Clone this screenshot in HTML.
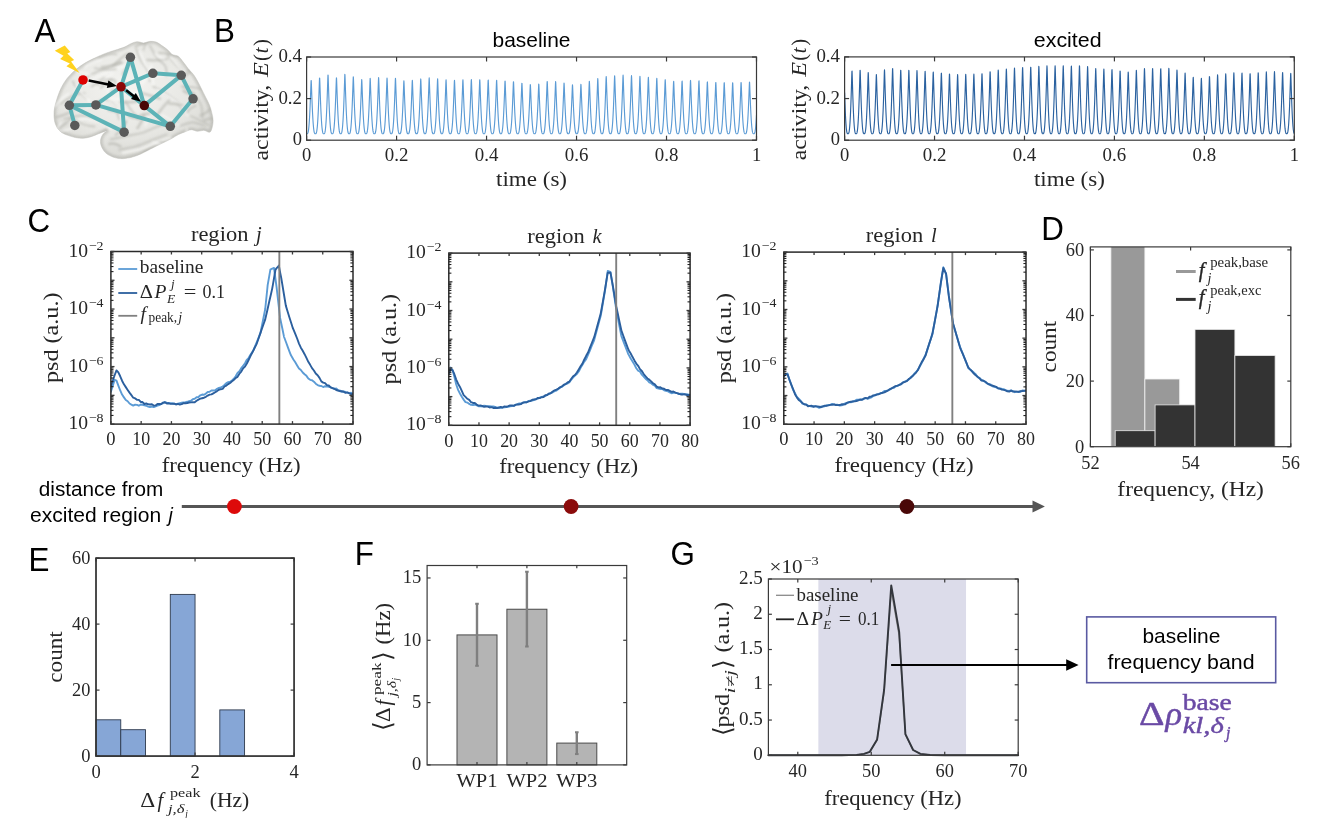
<!DOCTYPE html>
<html><head><meta charset="utf-8"><title>figure</title>
<style>html,body{margin:0;padding:0;background:#fff;}svg{display:block;}</style>
</head><body>
<svg width="1333" height="818" viewBox="0 0 1333 818">
<rect x="0" y="0" width="1333" height="818" fill="#ffffff"/>
<g opacity="0.999">
<defs>
<radialGradient id="bg" cx="45%" cy="38%" r="70%"><stop offset="0" stop-color="#f3f3f0"/><stop offset="0.6" stop-color="#e7e7e3"/><stop offset="1" stop-color="#d4d4cf"/></radialGradient>
<filter id="bl" x="-10%" y="-10%" width="120%" height="120%"><feGaussianBlur stdDeviation="1.3"/></filter>
<filter id="bl2" x="-10%" y="-10%" width="120%" height="120%"><feGaussianBlur stdDeviation="0.7"/></filter>
<clipPath id="brainclip"><path d="M54.5,120.8 C54.1,118.1 53.8,114.4 54.1,111.3 C54.3,108.1 55.2,104.9 56.1,101.7 C57.0,98.6 58.0,95.4 59.3,92.2 C60.6,89.0 62.2,85.6 64.1,82.7 C65.9,79.8 68.0,77.2 70.4,74.7 C72.8,72.2 75.7,69.6 78.4,67.6 C81.0,65.5 83.4,64.0 86.3,62.3 C89.2,60.7 92.7,59.0 95.8,57.6 C99.0,56.1 102.2,54.6 105.4,53.4 C108.6,52.2 111.7,51.3 114.9,50.3 C118.1,49.2 121.8,48.2 124.4,47.1 C127.1,46.0 128.7,44.6 130.8,43.7 C132.9,42.8 135.0,41.8 137.2,41.7 C139.3,41.5 141.4,43.0 143.5,42.9 C145.6,42.9 147.7,41.5 149.9,41.4 C152.0,41.2 154.1,41.4 156.2,42.1 C158.3,42.9 160.6,44.8 162.6,46.1 C164.6,47.5 166.5,48.9 168.1,50.3 C169.7,51.6 170.4,53.4 172.1,54.4 C173.8,55.4 176.6,55.2 178.5,56.4 C180.3,57.7 181.6,60.0 183.2,62.0 C184.8,64.0 186.3,66.2 188.0,68.4 C189.7,70.5 192.0,72.6 193.6,74.7 C195.1,76.8 196.2,78.7 197.5,81.1 C198.9,83.5 200.2,86.4 201.5,89.0 C202.8,91.7 204.1,94.3 205.5,97.0 C206.8,99.6 208.4,102.3 209.4,104.9 C210.5,107.6 211.2,110.2 211.8,112.9 C212.4,115.5 213.1,118.1 213.1,120.8 C213.1,123.4 212.4,126.8 211.8,128.7 C211.2,130.6 210.8,132.0 209.4,132.2 C208.1,132.5 205.9,130.5 203.9,130.3 C201.9,130.2 199.6,131.4 197.5,131.3 C195.4,131.2 193.3,129.6 191.2,129.7 C189.1,129.8 186.9,131.1 184.8,131.9 C182.7,132.7 180.6,133.4 178.5,134.5 C176.3,135.5 174.2,137.1 172.1,138.3 C170.0,139.4 167.9,140.4 165.7,141.5 C163.6,142.5 161.5,143.6 159.4,144.6 C157.3,145.7 155.2,146.7 153.0,147.8 C150.9,148.9 148.8,149.9 146.7,151.0 C144.6,152.0 142.4,153.2 140.3,154.2 C138.2,155.1 136.1,155.9 134.0,156.5 C131.9,157.2 130.0,157.8 127.6,158.1 C125.2,158.5 122.3,158.9 119.7,158.6 C117.0,158.3 114.1,157.6 111.7,156.5 C109.3,155.5 107.1,154.3 105.4,152.6 C103.7,150.9 102.2,148.3 101.4,146.2 C100.6,144.1 100.3,141.8 100.6,139.9 C100.9,137.9 102.0,135.8 103.0,134.3 C104.0,132.8 107.3,131.1 106.6,131.0 C106.0,130.8 101.6,132.6 99.0,133.5 C96.4,134.5 93.7,135.9 91.1,136.7 C88.4,137.5 85.8,138.1 83.1,138.3 C80.5,138.4 77.8,138.0 75.2,137.5 C72.5,136.9 69.6,136.0 67.2,135.1 C64.9,134.2 62.6,133.2 60.9,131.9 C59.2,130.6 58.0,129.0 56.9,127.2 C55.9,125.3 55.0,123.4 54.5,120.8Z"/></clipPath>
</defs>
<path d="M54.5,120.8 C54.1,118.1 53.8,114.4 54.1,111.3 C54.3,108.1 55.2,104.9 56.1,101.7 C57.0,98.6 58.0,95.4 59.3,92.2 C60.6,89.0 62.2,85.6 64.1,82.7 C65.9,79.8 68.0,77.2 70.4,74.7 C72.8,72.2 75.7,69.6 78.4,67.6 C81.0,65.5 83.4,64.0 86.3,62.3 C89.2,60.7 92.7,59.0 95.8,57.6 C99.0,56.1 102.2,54.6 105.4,53.4 C108.6,52.2 111.7,51.3 114.9,50.3 C118.1,49.2 121.8,48.2 124.4,47.1 C127.1,46.0 128.7,44.6 130.8,43.7 C132.9,42.8 135.0,41.8 137.2,41.7 C139.3,41.5 141.4,43.0 143.5,42.9 C145.6,42.9 147.7,41.5 149.9,41.4 C152.0,41.2 154.1,41.4 156.2,42.1 C158.3,42.9 160.6,44.8 162.6,46.1 C164.6,47.5 166.5,48.9 168.1,50.3 C169.7,51.6 170.4,53.4 172.1,54.4 C173.8,55.4 176.6,55.2 178.5,56.4 C180.3,57.7 181.6,60.0 183.2,62.0 C184.8,64.0 186.3,66.2 188.0,68.4 C189.7,70.5 192.0,72.6 193.6,74.7 C195.1,76.8 196.2,78.7 197.5,81.1 C198.9,83.5 200.2,86.4 201.5,89.0 C202.8,91.7 204.1,94.3 205.5,97.0 C206.8,99.6 208.4,102.3 209.4,104.9 C210.5,107.6 211.2,110.2 211.8,112.9 C212.4,115.5 213.1,118.1 213.1,120.8 C213.1,123.4 212.4,126.8 211.8,128.7 C211.2,130.6 210.8,132.0 209.4,132.2 C208.1,132.5 205.9,130.5 203.9,130.3 C201.9,130.2 199.6,131.4 197.5,131.3 C195.4,131.2 193.3,129.6 191.2,129.7 C189.1,129.8 186.9,131.1 184.8,131.9 C182.7,132.7 180.6,133.4 178.5,134.5 C176.3,135.5 174.2,137.1 172.1,138.3 C170.0,139.4 167.9,140.4 165.7,141.5 C163.6,142.5 161.5,143.6 159.4,144.6 C157.3,145.7 155.2,146.7 153.0,147.8 C150.9,148.9 148.8,149.9 146.7,151.0 C144.6,152.0 142.4,153.2 140.3,154.2 C138.2,155.1 136.1,155.9 134.0,156.5 C131.9,157.2 130.0,157.8 127.6,158.1 C125.2,158.5 122.3,158.9 119.7,158.6 C117.0,158.3 114.1,157.6 111.7,156.5 C109.3,155.5 107.1,154.3 105.4,152.6 C103.7,150.9 102.2,148.3 101.4,146.2 C100.6,144.1 100.3,141.8 100.6,139.9 C100.9,137.9 102.0,135.8 103.0,134.3 C104.0,132.8 107.3,131.1 106.6,131.0 C106.0,130.8 101.6,132.6 99.0,133.5 C96.4,134.5 93.7,135.9 91.1,136.7 C88.4,137.5 85.8,138.1 83.1,138.3 C80.5,138.4 77.8,138.0 75.2,137.5 C72.5,136.9 69.6,136.0 67.2,135.1 C64.9,134.2 62.6,133.2 60.9,131.9 C59.2,130.6 58.0,129.0 56.9,127.2 C55.9,125.3 55.0,123.4 54.5,120.8Z" fill="url(#bg)" stroke="#d8d8d4" stroke-width="0.8" filter="url(#bl2)"/>
<path d="M54.5,120.8 C54.1,118.1 53.8,114.4 54.1,111.3 C54.3,108.1 55.2,104.9 56.1,101.7 C57.0,98.6 58.0,95.4 59.3,92.2 C60.6,89.0 62.2,85.6 64.1,82.7 C65.9,79.8 68.0,77.2 70.4,74.7 C72.8,72.2 75.7,69.6 78.4,67.6 C81.0,65.5 83.4,64.0 86.3,62.3 C89.2,60.7 92.7,59.0 95.8,57.6 C99.0,56.1 102.2,54.6 105.4,53.4 C108.6,52.2 111.7,51.3 114.9,50.3 C118.1,49.2 121.8,48.2 124.4,47.1 C127.1,46.0 128.7,44.6 130.8,43.7 C132.9,42.8 135.0,41.8 137.2,41.7 C139.3,41.5 141.4,43.0 143.5,42.9 C145.6,42.9 147.7,41.5 149.9,41.4 C152.0,41.2 154.1,41.4 156.2,42.1 C158.3,42.9 160.6,44.8 162.6,46.1 C164.6,47.5 166.5,48.9 168.1,50.3 C169.7,51.6 170.4,53.4 172.1,54.4 C173.8,55.4 176.6,55.2 178.5,56.4 C180.3,57.7 181.6,60.0 183.2,62.0 C184.8,64.0 186.3,66.2 188.0,68.4 C189.7,70.5 192.0,72.6 193.6,74.7 C195.1,76.8 196.2,78.7 197.5,81.1 C198.9,83.5 200.2,86.4 201.5,89.0 C202.8,91.7 204.1,94.3 205.5,97.0 C206.8,99.6 208.4,102.3 209.4,104.9 C210.5,107.6 211.2,110.2 211.8,112.9 C212.4,115.5 213.1,118.1 213.1,120.8 C213.1,123.4 212.4,126.8 211.8,128.7 C211.2,130.6 210.8,132.0 209.4,132.2 C208.1,132.5 205.9,130.5 203.9,130.3 C201.9,130.2 199.6,131.4 197.5,131.3 C195.4,131.2 193.3,129.6 191.2,129.7 C189.1,129.8 186.9,131.1 184.8,131.9 C182.7,132.7 180.6,133.4 178.5,134.5 C176.3,135.5 174.2,137.1 172.1,138.3 C170.0,139.4 167.9,140.4 165.7,141.5 C163.6,142.5 161.5,143.6 159.4,144.6 C157.3,145.7 155.2,146.7 153.0,147.8 C150.9,148.9 148.8,149.9 146.7,151.0 C144.6,152.0 142.4,153.2 140.3,154.2 C138.2,155.1 136.1,155.9 134.0,156.5 C131.9,157.2 130.0,157.8 127.6,158.1 C125.2,158.5 122.3,158.9 119.7,158.6 C117.0,158.3 114.1,157.6 111.7,156.5 C109.3,155.5 107.1,154.3 105.4,152.6 C103.7,150.9 102.2,148.3 101.4,146.2 C100.6,144.1 100.3,141.8 100.6,139.9 C100.9,137.9 102.0,135.8 103.0,134.3 C104.0,132.8 107.3,131.1 106.6,131.0 C106.0,130.8 101.6,132.6 99.0,133.5 C96.4,134.5 93.7,135.9 91.1,136.7 C88.4,137.5 85.8,138.1 83.1,138.3 C80.5,138.4 77.8,138.0 75.2,137.5 C72.5,136.9 69.6,136.0 67.2,135.1 C64.9,134.2 62.6,133.2 60.9,131.9 C59.2,130.6 58.0,129.0 56.9,127.2 C55.9,125.3 55.0,123.4 54.5,120.8Z" fill="none" stroke="#a4a49e" stroke-width="4.5" filter="url(#bl)" clip-path="url(#brainclip)" opacity="0.42"/>
<g clip-path="url(#brainclip)" filter="url(#bl)" fill="none" stroke="#b9b9b3" stroke-width="1.6" stroke-linecap="round" opacity="0.75">
<path d="M81.3,81.3 C83.6,79.9 90.2,75.2 95.0,72.8 C99.9,70.3 105.8,68.5 110.4,66.8 C115.0,65.1 120.4,63.2 122.4,62.5"/>
<path d="M91.6,86.5 C93.6,85.3 99.6,80.5 103.6,79.6 C107.6,78.8 114.4,79.3 115.5,81.3 C116.7,83.3 111.3,89.9 110.4,91.6"/>
<path d="M136.1,48.8 C136.9,50.8 139.2,57.1 141.2,60.8 C143.2,64.5 146.6,67.6 148.0,71.1 C149.5,74.5 149.5,79.6 149.8,81.3"/>
<path d="M149.8,45.4 C150.9,47.4 154.0,54.0 156.6,57.4 C159.2,60.8 163.4,62.8 165.2,65.9 C166.9,69.1 166.6,74.5 166.9,76.2"/>
<path d="M166.9,54.0 C168.3,55.7 172.6,61.4 175.4,64.2 C178.3,67.1 182.6,69.9 184.0,71.1"/>
<path d="M60.8,103.6 C63.1,102.1 70.5,96.7 74.5,95.0 C78.5,93.3 83.0,93.6 84.7,93.3"/>
<path d="M64.2,119.0 C67.1,118.4 76.2,115.5 81.3,115.5 C86.5,115.5 90.7,117.3 95.0,119.0 C99.3,120.7 105.0,124.7 107.0,125.8"/>
<path d="M110.4,139.5 C113.0,138.9 120.4,137.2 125.8,136.1 C131.2,134.9 137.2,134.4 142.9,132.7 C148.6,130.9 154.3,127.5 160.0,125.8 C165.7,124.1 174.3,123.0 177.1,122.4"/>
<path d="M119.0,149.8 C121.8,149.2 130.4,148.0 136.1,146.3 C141.8,144.6 148.0,141.5 153.2,139.5 C158.3,137.5 164.6,135.2 166.9,134.4"/>
<path d="M184.0,86.5 C185.7,87.9 191.4,91.9 194.2,95.0 C197.1,98.1 199.7,101.3 201.1,105.3 C202.5,109.3 202.5,116.7 202.8,119.0"/>
<path d="M153.2,86.5 C155.2,87.6 161.2,90.7 165.2,93.3 C169.2,95.9 174.0,98.7 177.1,101.9 C180.3,105.0 182.8,110.4 184.0,112.1"/>
<path d="M125.8,101.9 C126.9,103.6 130.4,109.3 132.7,112.1 C134.9,115.0 138.4,117.8 139.5,119.0"/>
<path d="M72.8,81.3 C73.6,82.8 75.6,87.0 77.9,89.9 C80.2,92.7 85.0,97.0 86.5,98.4"/>
<path d="M180.6,125.8 C182.6,125.2 188.5,122.4 192.5,122.4 C196.5,122.4 202.5,125.2 204.5,125.8"/>
<path d="M105.3,98.4 C107.0,99.9 113.3,103.6 115.5,107.0 C117.8,110.4 118.4,117.0 119.0,119.0"/>
</g>
<g clip-path="url(#brainclip)" filter="url(#bl)" fill="none" stroke="#f8f8f6" stroke-width="2.2" stroke-linecap="round" opacity="0.8">
<path d="M85.1,84.4 L98.8,75.9 L114.2,69.9 L126.2,65.6"/>
<path d="M139.8,51.9 L145.0,63.9 L151.8,74.1 L153.5,84.4"/>
<path d="M170.6,57.0 L179.2,67.3 L187.7,74.1"/>
<path d="M68.0,122.0 L85.1,118.6 L98.8,122.0 L110.8,128.9"/>
<path d="M122.7,152.8 L139.8,149.4 L156.9,142.6 L170.6,137.4"/>
<path d="M156.9,89.5 L168.9,96.4 L180.9,104.9 L187.7,115.2"/>
<path d="M76.5,84.4 L81.7,93.0 L90.2,101.5"/>
<path d="M109.0,101.5 L119.3,110.1 L122.7,122.0"/>
</g>
<g clip-path="url(#brainclip)" filter="url(#bl)" fill="none" stroke-linecap="round">
<path d="M86.0,108.8 Q94.1,101.1 100.2,100.4" stroke="#fbfbfa" stroke-width="1.42" opacity="0.7"/>
<path d="M181.2,79.5 Q188.8,74.5 196.8,64.1" stroke="#aeaea8" stroke-width="1.97" opacity="0.55"/>
<path d="M147.2,59.9 Q157.4,61.3 167.3,58.7" stroke="#aeaea8" stroke-width="2.21" opacity="0.55"/>
<path d="M59.2,130.0 Q61.5,132.1 71.3,128.4" stroke="#fbfbfa" stroke-width="1.97" opacity="0.7"/>
<path d="M159.6,142.2 Q169.2,145.5 180.4,144.0" stroke="#aeaea8" stroke-width="1.93" opacity="0.55"/>
<path d="M202.1,147.3 Q202.4,146.8 207.3,138.8" stroke="#aeaea8" stroke-width="1.92" opacity="0.55"/>
<path d="M148.8,78.5 Q154.1,77.3 161.7,74.7" stroke="#fbfbfa" stroke-width="2.10" opacity="0.7"/>
<path d="M190.8,115.9 Q203.6,121.8 208.6,125.0" stroke="#aeaea8" stroke-width="1.60" opacity="0.55"/>
<path d="M185.4,149.6 Q194.4,150.6 200.0,156.2" stroke="#aeaea8" stroke-width="2.40" opacity="0.55"/>
<path d="M142.1,83.6 Q150.7,71.5 151.4,65.9" stroke="#fbfbfa" stroke-width="2.36" opacity="0.7"/>
<path d="M113.3,65.2 Q123.7,55.7 128.0,53.5" stroke="#aeaea8" stroke-width="2.14" opacity="0.55"/>
<path d="M53.8,130.4 Q66.0,124.7 70.6,118.8" stroke="#aeaea8" stroke-width="2.60" opacity="0.55"/>
<path d="M100.4,51.4 Q102.1,50.1 108.7,50.3" stroke="#fbfbfa" stroke-width="2.13" opacity="0.7"/>
<path d="M74.2,44.7 Q83.7,50.1 85.8,49.1" stroke="#aeaea8" stroke-width="1.85" opacity="0.55"/>
<path d="M120.5,102.1 Q129.1,102.8 136.8,101.5" stroke="#aeaea8" stroke-width="2.53" opacity="0.55"/>
<path d="M130.5,91.0 Q134.5,95.4 141.8,92.1" stroke="#fbfbfa" stroke-width="2.03" opacity="0.7"/>
<path d="M135.5,46.8 Q138.9,44.2 150.0,39.8" stroke="#aeaea8" stroke-width="2.16" opacity="0.55"/>
<path d="M56.4,117.2 Q63.4,115.8 72.8,111.1" stroke="#aeaea8" stroke-width="2.29" opacity="0.55"/>
<path d="M47.8,48.8 Q56.6,48.6 69.3,49.1" stroke="#fbfbfa" stroke-width="2.11" opacity="0.7"/>
<path d="M100.9,87.8 Q107.0,82.3 111.5,79.9" stroke="#aeaea8" stroke-width="1.85" opacity="0.55"/>
<path d="M169.6,46.7 Q177.0,42.9 187.6,43.5" stroke="#aeaea8" stroke-width="2.36" opacity="0.55"/>
<path d="M85.1,67.1 Q90.0,62.1 101.3,60.0" stroke="#fbfbfa" stroke-width="1.80" opacity="0.7"/>
<path d="M183.5,90.7 Q187.1,93.6 193.3,94.1" stroke="#aeaea8" stroke-width="2.46" opacity="0.55"/>
<path d="M122.9,74.3 Q124.7,70.3 131.5,61.5" stroke="#aeaea8" stroke-width="2.41" opacity="0.55"/>
<path d="M76.2,71.9 Q86.8,72.8 92.6,76.2" stroke="#fbfbfa" stroke-width="1.56" opacity="0.7"/>
<path d="M96.8,137.5 Q101.0,132.7 106.6,129.1" stroke="#aeaea8" stroke-width="1.89" opacity="0.55"/>
<path d="M198.4,69.8 Q205.3,63.8 206.2,50.1" stroke="#aeaea8" stroke-width="1.92" opacity="0.55"/>
<path d="M200.6,155.3 Q209.7,150.0 213.4,142.0" stroke="#fbfbfa" stroke-width="2.02" opacity="0.7"/>
<path d="M98.1,84.4 Q102.0,79.5 104.4,78.0" stroke="#aeaea8" stroke-width="2.37" opacity="0.55"/>
<path d="M51.8,145.4 Q65.4,149.1 72.7,146.4" stroke="#aeaea8" stroke-width="2.09" opacity="0.55"/>
<path d="M53.3,132.5 Q58.4,127.9 60.9,123.0" stroke="#fbfbfa" stroke-width="1.90" opacity="0.7"/>
<path d="M200.4,115.6 Q208.1,112.2 210.1,109.2" stroke="#aeaea8" stroke-width="2.34" opacity="0.55"/>
<path d="M101.9,67.0 Q108.7,67.0 120.7,62.4" stroke="#aeaea8" stroke-width="2.51" opacity="0.55"/>
<path d="M180.8,144.5 Q186.9,133.1 187.1,128.9" stroke="#fbfbfa" stroke-width="1.73" opacity="0.7"/>
<path d="M91.4,105.7 Q100.2,98.7 104.6,99.5" stroke="#aeaea8" stroke-width="1.47" opacity="0.55"/>
<path d="M70.2,65.9 Q78.1,53.0 80.4,46.8" stroke="#aeaea8" stroke-width="2.00" opacity="0.55"/>
<path d="M98.4,82.8 Q106.2,77.1 112.7,73.6" stroke="#fbfbfa" stroke-width="1.63" opacity="0.7"/>
<path d="M98.8,58.0 Q106.6,52.9 116.4,54.4" stroke="#aeaea8" stroke-width="1.61" opacity="0.55"/>
<path d="M108.2,110.1 Q117.1,112.5 121.2,112.9" stroke="#aeaea8" stroke-width="1.92" opacity="0.55"/>
<path d="M107.7,98.6 Q116.1,98.7 121.5,99.5" stroke="#fbfbfa" stroke-width="1.69" opacity="0.7"/>
<path d="M137.4,128.1 Q140.1,125.0 144.1,115.8" stroke="#aeaea8" stroke-width="2.52" opacity="0.55"/>
<path d="M109.2,144.0 Q114.6,142.2 120.6,146.5" stroke="#aeaea8" stroke-width="2.38" opacity="0.55"/>
<path d="M152.5,142.1 Q162.8,144.6 169.4,146.0" stroke="#fbfbfa" stroke-width="1.52" opacity="0.7"/>
<path d="M143.5,50.2 Q145.4,39.3 154.6,34.9" stroke="#aeaea8" stroke-width="1.52" opacity="0.55"/>
<path d="M191.9,71.7 Q192.8,65.4 199.8,53.5" stroke="#aeaea8" stroke-width="2.21" opacity="0.55"/>
<path d="M179.3,153.0 Q185.1,153.7 198.3,150.0" stroke="#fbfbfa" stroke-width="2.01" opacity="0.7"/>
<path d="M159.0,52.7 Q165.9,52.9 179.9,55.8" stroke="#aeaea8" stroke-width="2.08" opacity="0.55"/>
<path d="M183.8,74.3 Q188.4,71.9 191.2,65.4" stroke="#aeaea8" stroke-width="1.87" opacity="0.55"/>
<path d="M108.0,91.3 Q110.5,87.6 119.6,83.9" stroke="#fbfbfa" stroke-width="2.57" opacity="0.7"/>
<path d="M115.6,134.9 Q123.1,129.3 126.5,121.0" stroke="#aeaea8" stroke-width="2.02" opacity="0.55"/>
<path d="M127.8,113.9 Q129.2,117.9 137.0,118.0" stroke="#aeaea8" stroke-width="2.50" opacity="0.55"/>
<path d="M132.5,92.5 Q135.9,90.5 143.0,93.4" stroke="#fbfbfa" stroke-width="2.10" opacity="0.7"/>
<path d="M94.7,68.2 Q103.7,70.4 116.0,69.2" stroke="#aeaea8" stroke-width="1.90" opacity="0.55"/>
<path d="M187.4,112.9 Q187.8,109.1 195.7,105.6" stroke="#aeaea8" stroke-width="1.86" opacity="0.55"/>
<path d="M74.9,88.9 Q79.7,87.4 90.2,78.0" stroke="#fbfbfa" stroke-width="1.98" opacity="0.7"/>
<path d="M141.5,92.9 Q151.3,95.7 160.1,98.7" stroke="#aeaea8" stroke-width="2.26" opacity="0.55"/>
<path d="M181.4,86.7 Q191.8,85.9 202.7,89.3" stroke="#aeaea8" stroke-width="1.68" opacity="0.55"/>
<path d="M161.2,114.7 Q167.8,117.2 178.5,124.7" stroke="#fbfbfa" stroke-width="1.71" opacity="0.7"/>
<path d="M75.3,119.6 Q83.0,126.0 94.6,126.5" stroke="#aeaea8" stroke-width="1.78" opacity="0.55"/>
<path d="M120.4,129.9 Q125.4,124.2 125.1,121.8" stroke="#aeaea8" stroke-width="1.83" opacity="0.55"/>
<path d="M145.5,125.6 Q147.3,119.6 150.2,113.8" stroke="#fbfbfa" stroke-width="1.65" opacity="0.7"/>
<path d="M141.7,155.6 Q145.6,150.1 155.5,148.1" stroke="#aeaea8" stroke-width="2.20" opacity="0.55"/>
<path d="M68.8,142.1 Q76.5,143.0 77.2,146.0" stroke="#aeaea8" stroke-width="2.33" opacity="0.55"/>
<path d="M167.6,75.8 Q178.6,74.1 184.7,76.1" stroke="#fbfbfa" stroke-width="2.31" opacity="0.7"/>
<path d="M204.2,120.5 Q208.8,118.2 213.5,118.3" stroke="#aeaea8" stroke-width="2.26" opacity="0.55"/>
<path d="M158.1,113.7 Q164.6,104.6 169.0,100.6" stroke="#aeaea8" stroke-width="2.47" opacity="0.55"/>
<path d="M155.4,53.9 Q158.5,57.9 164.3,58.5" stroke="#fbfbfa" stroke-width="2.12" opacity="0.7"/>
<path d="M138.0,118.7 Q141.2,113.0 149.5,114.2" stroke="#aeaea8" stroke-width="2.26" opacity="0.55"/>
<path d="M169.3,103.6 Q173.8,103.5 182.2,105.3" stroke="#aeaea8" stroke-width="2.45" opacity="0.55"/>
<path d="M54.9,106.5 Q60.6,98.7 68.6,93.6" stroke="#fbfbfa" stroke-width="1.88" opacity="0.7"/>
</g>
<line x1="83.04" y1="79.96" x2="69.35" y2="105.28" stroke="#5cb3b7" stroke-width="4.0" stroke-linecap="round"/>
<line x1="69.35" y1="105.28" x2="74.82" y2="125.47" stroke="#5cb3b7" stroke-width="4.0" stroke-linecap="round"/>
<line x1="69.35" y1="105.28" x2="95.87" y2="104.94" stroke="#5cb3b7" stroke-width="4.0" stroke-linecap="round"/>
<line x1="69.35" y1="105.28" x2="124.10" y2="132.14" stroke="#5cb3b7" stroke-width="4.0" stroke-linecap="round"/>
<line x1="95.87" y1="104.94" x2="121.02" y2="86.80" stroke="#5cb3b7" stroke-width="4.0" stroke-linecap="round"/>
<line x1="95.87" y1="104.94" x2="170.29" y2="126.32" stroke="#5cb3b7" stroke-width="4.0" stroke-linecap="round"/>
<line x1="121.02" y1="86.80" x2="124.10" y2="132.14" stroke="#5cb3b7" stroke-width="4.0" stroke-linecap="round"/>
<line x1="121.02" y1="86.80" x2="130.43" y2="57.37" stroke="#5cb3b7" stroke-width="4.0" stroke-linecap="round"/>
<line x1="121.02" y1="86.80" x2="152.84" y2="73.28" stroke="#5cb3b7" stroke-width="4.0" stroke-linecap="round"/>
<line x1="130.43" y1="57.37" x2="144.29" y2="105.62" stroke="#5cb3b7" stroke-width="4.0" stroke-linecap="round"/>
<line x1="152.84" y1="73.28" x2="181.24" y2="75.34" stroke="#5cb3b7" stroke-width="4.0" stroke-linecap="round"/>
<line x1="181.24" y1="75.34" x2="193.05" y2="98.78" stroke="#5cb3b7" stroke-width="4.0" stroke-linecap="round"/>
<line x1="193.05" y1="98.78" x2="170.29" y2="126.32" stroke="#5cb3b7" stroke-width="4.0" stroke-linecap="round"/>
<line x1="181.24" y1="75.34" x2="144.29" y2="105.62" stroke="#5cb3b7" stroke-width="4.0" stroke-linecap="round"/>
<line x1="144.29" y1="105.62" x2="170.29" y2="126.32" stroke="#5cb3b7" stroke-width="4.0" stroke-linecap="round"/>
<line x1="121.02" y1="86.80" x2="144.29" y2="105.62" stroke="#5cb3b7" stroke-width="4.0" stroke-linecap="round"/>
<line x1="88.68" y1="80.47" x2="108.58" y2="84.45" stroke="#000" stroke-width="2.6" />
<path d="M116.91,86.12 L106.83,88.08 L108.36,80.43 Z" fill="#000"/>
<line x1="126.15" y1="90.22" x2="134.20" y2="96.58" stroke="#000" stroke-width="2.6" />
<path d="M140.86,101.86 L130.99,99.02 L135.83,92.90 Z" fill="#000"/>
<circle cx="83.04" cy="79.96" r="4.75" fill="#dd0000"/>
<circle cx="121.02" cy="86.80" r="4.75" fill="#8c0606"/>
<circle cx="144.29" cy="105.62" r="4.75" fill="#4a0606"/>
<circle cx="130.43" cy="57.37" r="4.75" fill="#5a5a5a"/>
<circle cx="152.84" cy="73.28" r="4.75" fill="#5a5a5a"/>
<circle cx="181.24" cy="75.34" r="4.75" fill="#5a5a5a"/>
<circle cx="193.05" cy="98.78" r="4.75" fill="#5a5a5a"/>
<circle cx="170.29" cy="126.32" r="4.75" fill="#5a5a5a"/>
<circle cx="124.10" cy="132.14" r="4.75" fill="#5a5a5a"/>
<circle cx="69.35" cy="105.28" r="4.75" fill="#5a5a5a"/>
<circle cx="95.87" cy="104.94" r="4.75" fill="#5a5a5a"/>
<circle cx="74.82" cy="125.47" r="4.75" fill="#5a5a5a"/>
<path d="M64.73,45.40 L54.81,50.70 L63.53,55.66 L60.11,59.08 L69.86,63.53 L66.44,66.27 L79.62,73.11 L71.06,61.48 L74.14,60.11 L67.30,53.61 L70.38,51.90Z" fill="#ffd21f"/>
<clipPath id="cl306"><rect x="306.6" y="57.0" width="449.9" height="83.19999999999999"/></clipPath>
<path d="M306.60,133.71 L306.74,133.75 L306.88,133.75 L307.02,133.75 L307.16,133.75 L307.30,133.72 L307.44,133.64 L307.58,133.51 L307.72,133.29 L307.87,132.99 L308.01,132.58 L308.15,132.04 L308.29,131.37 L308.43,130.55 L308.57,129.57 L308.71,128.42 L308.85,127.08 L308.99,125.55 L309.13,123.83 L309.27,121.91 L309.41,119.78 L309.55,117.44 L309.69,114.89 L309.83,112.13 L309.97,109.16 L310.11,106.00 L310.26,102.64 L310.40,99.10 L310.54,95.39 L310.68,91.54 L310.82,87.59 L310.96,83.70 L311.10,80.47 L311.24,80.47 L311.38,83.68 L311.52,87.56 L311.66,91.48 L311.80,95.32 L311.94,99.02 L312.08,102.56 L312.22,105.91 L312.36,109.08 L312.50,112.04 L312.65,114.80 L312.79,117.36 L312.93,119.70 L313.07,121.84 L313.21,123.77 L313.35,125.50 L313.49,127.03 L313.63,128.38 L313.77,129.54 L313.91,130.53 L314.05,131.35 L314.19,132.03 L314.33,132.57 L314.47,132.98 L314.61,133.29 L314.75,133.50 L314.90,133.64 L315.04,133.72 L315.18,133.75 L315.32,133.75 L315.46,133.75 L315.60,133.75 L315.74,133.71 L315.88,133.63 L316.02,133.49 L316.16,133.28 L316.30,132.96 L316.44,132.53 L316.58,131.98 L316.72,131.29 L316.86,130.44 L317.00,129.42 L317.14,128.23 L317.29,126.84 L317.43,125.26 L317.57,123.47 L317.71,121.47 L317.85,119.25 L317.99,116.81 L318.13,114.15 L318.27,111.28 L318.41,108.18 L318.55,104.87 L318.69,101.35 L318.83,97.63 L318.97,93.74 L319.11,89.69 L319.25,85.54 L319.39,81.44 L319.53,78.10 L319.68,78.23 L319.82,81.59 L319.96,85.61 L320.10,89.67 L320.24,93.65 L320.38,97.48 L320.52,101.15 L320.66,104.64 L320.80,107.93 L320.94,111.02 L321.08,113.90 L321.22,116.56 L321.36,119.01 L321.50,121.25 L321.64,123.27 L321.78,125.09 L321.92,126.69 L322.07,128.10 L322.21,129.32 L322.35,130.36 L322.49,131.23 L322.63,131.94 L322.77,132.51 L322.91,132.95 L323.05,133.27 L323.19,133.49 L323.33,133.64 L323.47,133.71 L323.61,133.75 L323.75,133.75 L323.89,133.75 L324.03,133.74 L324.17,133.71 L324.31,133.62 L324.46,133.47 L324.60,133.23 L324.74,132.89 L324.88,132.42 L325.02,131.82 L325.16,131.07 L325.30,130.15 L325.44,129.05 L325.58,127.76 L325.72,126.27 L325.86,124.56 L326.00,122.63 L326.14,120.47 L326.28,118.09 L326.42,115.46 L326.56,112.60 L326.70,109.50 L326.85,106.17 L326.99,102.68 L327.13,98.98 L327.27,95.09 L327.41,91.02 L327.55,86.81 L327.69,82.52 L327.83,78.32 L327.97,74.99 L328.11,75.46 L328.25,79.18 L328.39,83.51 L328.53,87.86 L328.67,92.10 L328.81,96.18 L328.95,100.06 L329.10,103.74 L329.24,107.20 L329.38,110.43 L329.52,113.44 L329.66,116.21 L329.80,118.75 L329.94,121.06 L330.08,123.14 L330.22,125.00 L330.36,126.65 L330.50,128.08 L330.64,129.32 L330.78,130.37 L330.92,131.25 L331.06,131.96 L331.20,132.53 L331.34,132.96 L331.49,133.28 L331.63,133.50 L331.77,133.64 L331.91,133.72 L332.05,133.75 L332.19,133.75 L332.33,133.75 L332.47,133.74 L332.61,133.71 L332.75,133.62 L332.89,133.47 L333.03,133.23 L333.17,132.89 L333.31,132.44 L333.45,131.86 L333.59,131.13 L333.73,130.24 L333.88,129.18 L334.02,127.95 L334.16,126.52 L334.30,124.90 L334.44,123.07 L334.58,121.03 L334.72,118.78 L334.86,116.32 L335.00,113.64 L335.14,110.76 L335.28,107.66 L335.42,104.37 L335.56,100.88 L335.70,97.21 L335.84,93.38 L335.98,89.33 L336.12,85.18 L336.27,81.11 L336.41,77.93 L336.55,78.45 L336.69,81.93 L336.83,85.97 L336.97,90.03 L337.11,94.00 L337.25,97.83 L337.39,101.48 L337.53,104.96 L337.67,108.23 L337.81,111.30 L337.95,114.16 L338.09,116.81 L338.23,119.24 L338.37,121.45 L338.51,123.45 L338.66,125.25 L338.80,126.84 L338.94,128.23 L339.08,129.43 L339.22,130.45 L339.36,131.30 L339.50,132.00 L339.64,132.56 L339.78,132.98 L339.92,133.29 L340.06,133.51 L340.20,133.65 L340.34,133.72 L340.48,133.75 L340.62,133.75 L340.76,133.75 L340.90,133.74 L341.05,133.70 L341.19,133.61 L341.33,133.45 L341.47,133.21 L341.61,132.86 L341.75,132.39 L341.89,131.78 L342.03,131.02 L342.17,130.09 L342.31,128.98 L342.45,127.69 L342.59,126.19 L342.73,124.47 L342.87,122.54 L343.01,120.38 L343.15,117.99 L343.29,115.37 L343.44,112.52 L343.58,109.43 L343.72,106.11 L343.86,102.56 L344.00,98.80 L344.14,94.83 L344.28,90.68 L344.42,86.36 L344.56,81.96 L344.70,77.65 L344.84,74.36 L344.98,75.22 L345.12,79.06 L345.26,83.43 L345.40,87.80 L345.54,92.06 L345.69,96.15 L345.83,100.04 L345.97,103.73 L346.11,107.20 L346.25,110.44 L346.39,113.45 L346.53,116.23 L346.67,118.78 L346.81,121.09 L346.95,123.18 L347.09,125.04 L347.23,126.68 L347.37,128.12 L347.51,129.36 L347.65,130.40 L347.79,131.28 L347.93,131.99 L348.08,132.55 L348.22,132.98 L348.36,133.30 L348.50,133.51 L348.64,133.65 L348.78,133.72 L348.92,133.75 L349.06,133.75 L349.20,133.75 L349.34,133.74 L349.48,133.70 L349.62,133.61 L349.76,133.44 L349.90,133.20 L350.04,132.84 L350.18,132.37 L350.32,131.76 L350.47,131.01 L350.61,130.09 L350.75,128.99 L350.89,127.71 L351.03,126.24 L351.17,124.56 L351.31,122.67 L351.45,120.57 L351.59,118.25 L351.73,115.71 L351.87,112.95 L352.01,109.97 L352.15,106.78 L352.29,103.38 L352.43,99.79 L352.57,96.00 L352.71,92.05 L352.86,87.97 L353.00,83.81 L353.14,79.78 L353.28,76.82 L353.42,77.83 L353.56,81.55 L353.70,85.74 L353.84,89.93 L353.98,94.00 L354.12,97.91 L354.26,101.64 L354.40,105.16 L354.54,108.48 L354.68,111.57 L354.82,114.45 L354.96,117.10 L355.10,119.53 L355.25,121.73 L355.39,123.72 L355.53,125.49 L355.67,127.06 L355.81,128.42 L355.95,129.60 L356.09,130.59 L356.23,131.42 L356.37,132.09 L356.51,132.63 L356.65,133.03 L356.79,133.33 L356.93,133.53 L357.07,133.66 L357.21,133.72 L357.35,133.75 L357.49,133.75 L357.64,133.75 L357.78,133.74 L357.92,133.70 L358.06,133.61 L358.20,133.45 L358.34,133.21 L358.48,132.87 L358.62,132.42 L358.76,131.83 L358.90,131.11 L359.04,130.22 L359.18,129.18 L359.32,127.95 L359.46,126.54 L359.60,124.94 L359.74,123.13 L359.89,121.13 L360.03,118.91 L360.17,116.49 L360.31,113.86 L360.45,111.02 L360.59,107.99 L360.73,104.75 L360.87,101.33 L361.01,97.74 L361.15,93.99 L361.29,90.11 L361.43,86.17 L361.57,82.36 L361.71,79.65 L361.85,80.79 L361.99,84.38 L362.13,88.36 L362.28,92.34 L362.42,96.20 L362.56,99.90 L362.70,103.43 L362.84,106.77 L362.98,109.87 L363.12,112.77 L363.26,115.47 L363.40,117.97 L363.54,120.25 L363.68,122.33 L363.82,124.21 L363.96,125.89 L364.10,127.38 L364.24,128.67 L364.38,129.79 L364.52,130.74 L364.67,131.53 L364.81,132.17 L364.95,132.68 L365.09,133.07 L365.23,133.35 L365.37,133.54 L365.51,133.66 L365.65,133.73 L365.79,133.75 L365.93,133.75 L366.07,133.75 L366.21,133.74 L366.35,133.70 L366.49,133.61 L366.63,133.45 L366.77,133.21 L366.91,132.86 L367.06,132.41 L367.20,131.82 L367.34,131.09 L367.48,130.20 L367.62,129.15 L367.76,127.91 L367.90,126.48 L368.04,124.86 L368.18,123.03 L368.32,120.99 L368.46,118.74 L368.60,116.27 L368.74,113.59 L368.88,110.69 L369.02,107.57 L369.16,104.25 L369.30,100.74 L369.45,97.03 L369.59,93.16 L369.73,89.15 L369.87,85.06 L370.01,81.12 L370.15,78.37 L370.29,79.64 L370.43,83.27 L370.57,87.29 L370.71,91.31 L370.85,95.22 L370.99,98.98 L371.13,102.57 L371.27,105.97 L371.41,109.17 L371.55,112.16 L371.69,114.95 L371.84,117.52 L371.98,119.88 L372.12,122.02 L372.26,123.96 L372.40,125.69 L372.54,127.21 L372.68,128.55 L372.82,129.70 L372.96,130.67 L373.10,131.48 L373.24,132.14 L373.38,132.66 L373.52,133.06 L373.66,133.35 L373.80,133.54 L373.94,133.66 L374.09,133.73 L374.23,133.75 L374.37,133.75 L374.51,133.75 L374.65,133.74 L374.79,133.69 L374.93,133.60 L375.07,133.43 L375.21,133.18 L375.35,132.82 L375.49,132.35 L375.63,131.74 L375.77,130.99 L375.91,130.07 L376.05,128.99 L376.19,127.71 L376.33,126.25 L376.48,124.59 L376.62,122.72 L376.76,120.63 L376.90,118.34 L377.04,115.82 L377.18,113.09 L377.32,110.14 L377.46,106.98 L377.60,103.62 L377.74,100.05 L377.88,96.31 L378.02,92.39 L378.16,88.35 L378.30,84.24 L378.44,80.30 L378.58,77.67 L378.72,79.15 L378.87,82.90 L379.01,87.00 L379.15,91.09 L379.29,95.05 L379.43,98.86 L379.57,102.49 L379.71,105.92 L379.85,109.15 L379.99,112.17 L380.13,114.98 L380.27,117.56 L380.41,119.93 L380.55,122.08 L380.69,124.02 L380.83,125.75 L380.97,127.27 L381.11,128.60 L381.26,129.74 L381.40,130.71 L381.54,131.52 L381.68,132.17 L381.82,132.68 L381.96,133.07 L382.10,133.36 L382.24,133.55 L382.38,133.67 L382.52,133.73 L382.66,133.75 L382.80,133.75 L382.94,133.75 L383.08,133.74 L383.22,133.69 L383.36,133.59 L383.50,133.42 L383.65,133.17 L383.79,132.81 L383.93,132.34 L384.07,131.73 L384.21,130.97 L384.35,130.06 L384.49,128.97 L384.63,127.70 L384.77,126.24 L384.91,124.58 L385.05,122.71 L385.19,120.64 L385.33,118.34 L385.47,115.84 L385.61,113.12 L385.75,110.18 L385.89,107.03 L386.04,103.68 L386.18,100.14 L386.32,96.41 L386.46,92.52 L386.60,88.50 L386.74,84.42 L386.88,80.52 L387.02,78.02 L387.16,79.67 L387.30,83.42 L387.44,87.50 L387.58,91.55 L387.72,95.48 L387.86,99.26 L388.00,102.85 L388.14,106.25 L388.28,109.45 L388.43,112.44 L388.57,115.22 L388.71,117.77 L388.85,120.12 L388.99,122.24 L389.13,124.16 L389.27,125.87 L389.41,127.37 L389.55,128.69 L389.69,129.82 L389.83,130.77 L389.97,131.56 L390.11,132.20 L390.25,132.71 L390.39,133.09 L390.53,133.37 L390.68,133.56 L390.82,133.67 L390.96,133.73 L391.10,133.75 L391.24,133.75 L391.38,133.75 L391.52,133.74 L391.66,133.69 L391.80,133.59 L391.94,133.42 L392.08,133.16 L392.22,132.80 L392.36,132.32 L392.50,131.71 L392.64,130.96 L392.78,130.04 L392.92,128.96 L393.07,127.69 L393.21,126.23 L393.35,124.57 L393.49,122.71 L393.63,120.64 L393.77,118.35 L393.91,115.86 L394.05,113.14 L394.19,110.22 L394.33,107.09 L394.47,103.75 L394.61,100.22 L394.75,96.51 L394.89,92.64 L395.03,88.65 L395.17,84.60 L395.31,80.75 L395.46,78.39 L395.60,80.18 L395.74,83.94 L395.88,87.99 L396.02,92.01 L396.16,95.91 L396.30,99.65 L396.44,103.21 L396.58,106.58 L396.72,109.77 L396.86,112.74 L397.00,115.49 L397.14,118.03 L397.28,120.35 L397.42,122.46 L397.56,124.35 L397.70,126.03 L397.85,127.52 L397.99,128.81 L398.13,129.92 L398.27,130.85 L398.41,131.63 L398.55,132.25 L398.69,132.74 L398.83,133.12 L398.97,133.39 L399.11,133.57 L399.25,133.68 L399.39,133.73 L399.53,133.75 L399.67,133.75 L399.81,133.75 L399.95,133.74 L400.09,133.69 L400.24,133.59 L400.38,133.42 L400.52,133.16 L400.66,132.81 L400.80,132.34 L400.94,131.75 L401.08,131.01 L401.22,130.11 L401.36,129.06 L401.50,127.82 L401.64,126.41 L401.78,124.80 L401.92,123.00 L402.06,121.00 L402.20,118.80 L402.34,116.39 L402.48,113.79 L402.63,110.98 L402.77,107.97 L402.91,104.78 L403.05,101.40 L403.19,97.86 L403.33,94.17 L403.47,90.36 L403.61,86.52 L403.75,82.89 L403.89,80.79 L404.03,82.69 L404.17,86.34 L404.31,90.24 L404.45,94.10 L404.59,97.84 L404.73,101.43 L404.88,104.83 L405.02,108.05 L405.16,111.07 L405.30,113.89 L405.44,116.50 L405.58,118.90 L405.72,121.08 L405.86,123.07 L406.00,124.85 L406.14,126.44 L406.28,127.84 L406.42,129.06 L406.56,130.11 L406.70,131.00 L406.84,131.74 L406.98,132.33 L407.12,132.80 L407.27,133.15 L407.41,133.41 L407.55,133.58 L407.69,133.68 L407.83,133.73 L407.97,133.75 L408.11,133.75 L408.25,133.75 L408.39,133.74 L408.53,133.69 L408.67,133.58 L408.81,133.42 L408.95,133.16 L409.09,132.81 L409.23,132.35 L409.37,131.75 L409.51,131.02 L409.66,130.13 L409.80,129.07 L409.94,127.84 L410.08,126.42 L410.22,124.82 L410.36,123.01 L410.50,121.00 L410.64,118.79 L410.78,116.36 L410.92,113.73 L411.06,110.90 L411.20,107.85 L411.34,104.62 L411.48,101.19 L411.62,97.59 L411.76,93.83 L411.90,89.94 L412.05,86.02 L412.19,82.32 L412.33,80.28 L412.47,82.26 L412.61,85.92 L412.75,89.81 L412.89,93.67 L413.03,97.41 L413.17,101.01 L413.31,104.43 L413.45,107.66 L413.59,110.71 L413.73,113.55 L413.87,116.19 L414.01,118.62 L414.15,120.85 L414.29,122.88 L414.44,124.70 L414.58,126.32 L414.72,127.75 L414.86,128.99 L415.00,130.06 L415.14,130.97 L415.28,131.71 L415.42,132.32 L415.56,132.79 L415.70,133.15 L415.84,133.41 L415.98,133.58 L416.12,133.68 L416.26,133.74 L416.40,133.75 L416.54,133.75 L416.68,133.75 L416.83,133.73 L416.97,133.68 L417.11,133.57 L417.25,133.40 L417.39,133.14 L417.53,132.77 L417.67,132.29 L417.81,131.67 L417.95,130.91 L418.09,129.99 L418.23,128.91 L418.37,127.64 L418.51,126.18 L418.65,124.52 L418.79,122.66 L418.93,120.60 L419.08,118.32 L419.22,115.82 L419.36,113.12 L419.50,110.20 L419.64,107.08 L419.78,103.75 L419.92,100.23 L420.06,96.53 L420.20,92.67 L420.34,88.69 L420.48,84.67 L420.62,80.91 L420.76,78.95 L420.90,81.12 L421.04,84.89 L421.18,88.89 L421.32,92.84 L421.47,96.67 L421.61,100.35 L421.75,103.84 L421.89,107.15 L422.03,110.26 L422.17,113.17 L422.31,115.86 L422.45,118.35 L422.59,120.62 L422.73,122.69 L422.87,124.54 L423.01,126.20 L423.15,127.66 L423.29,128.93 L423.43,130.01 L423.57,130.93 L423.71,131.69 L423.86,132.30 L424.00,132.79 L424.14,133.15 L424.28,133.41 L424.42,133.58 L424.56,133.69 L424.70,133.74 L424.84,133.75 L424.98,133.75 L425.12,133.75 L425.26,133.73 L425.40,133.68 L425.54,133.56 L425.68,133.38 L425.82,133.11 L425.96,132.73 L426.10,132.23 L426.25,131.59 L426.39,130.81 L426.53,129.86 L426.67,128.74 L426.81,127.43 L426.95,125.93 L427.09,124.22 L427.23,122.31 L427.37,120.18 L427.51,117.84 L427.65,115.28 L427.79,112.50 L427.93,109.50 L428.07,106.29 L428.21,102.90 L428.35,99.31 L428.49,95.55 L428.64,91.63 L428.78,87.59 L428.92,83.52 L429.06,79.74 L429.20,77.94 L429.34,80.32 L429.48,84.22 L429.62,88.31 L429.76,92.35 L429.90,96.26 L430.04,100.01 L430.18,103.57 L430.32,106.94 L430.46,110.10 L430.60,113.04 L430.74,115.77 L430.88,118.29 L431.03,120.59 L431.17,122.67 L431.31,124.54 L431.45,126.21 L431.59,127.67 L431.73,128.94 L431.87,130.03 L432.01,130.95 L432.15,131.71 L432.29,132.32 L432.43,132.80 L432.57,133.16 L432.71,133.42 L432.85,133.59 L432.99,133.69 L433.13,133.74 L433.27,133.75 L433.42,133.75 L433.56,133.75 L433.70,133.73 L433.84,133.67 L433.98,133.56 L434.12,133.37 L434.26,133.10 L434.40,132.72 L434.54,132.22 L434.68,131.58 L434.82,130.80 L434.96,129.85 L435.10,128.74 L435.24,127.44 L435.38,125.95 L435.52,124.26 L435.67,122.37 L435.81,120.28 L435.95,117.97 L436.09,115.44 L436.23,112.71 L436.37,109.77 L436.51,106.62 L436.65,103.27 L436.79,99.74 L436.93,96.03 L437.07,92.17 L437.21,88.19 L437.35,84.20 L437.49,80.52 L437.63,78.90 L437.77,81.36 L437.91,85.21 L438.06,89.24 L438.20,93.21 L438.34,97.05 L438.48,100.72 L438.62,104.22 L438.76,107.52 L438.90,110.62 L439.04,113.51 L439.18,116.18 L439.32,118.65 L439.46,120.90 L439.60,122.94 L439.74,124.77 L439.88,126.40 L440.02,127.83 L440.16,129.07 L440.30,130.14 L440.45,131.03 L440.59,131.77 L440.73,132.37 L440.87,132.83 L441.01,133.18 L441.15,133.43 L441.29,133.59 L441.43,133.69 L441.57,133.74 L441.71,133.75 L441.85,133.75 L441.99,133.75 L442.13,133.73 L442.27,133.67 L442.41,133.56 L442.55,133.37 L442.69,133.10 L442.84,132.72 L442.98,132.22 L443.12,131.59 L443.26,130.81 L443.40,129.88 L443.54,128.77 L443.68,127.49 L443.82,126.02 L443.96,124.35 L444.10,122.49 L444.24,120.41 L444.38,118.14 L444.52,115.65 L444.66,112.95 L444.80,110.05 L444.94,106.95 L445.08,103.65 L445.23,100.17 L445.37,96.52 L445.51,92.72 L445.65,88.81 L445.79,84.88 L445.93,81.29 L446.07,79.86 L446.21,82.40 L446.35,86.20 L446.49,90.16 L446.63,94.06 L446.77,97.83 L446.91,101.43 L447.05,104.86 L447.19,108.10 L447.33,111.13 L447.47,113.96 L447.62,116.59 L447.76,119.00 L447.90,121.20 L448.04,123.20 L448.18,124.99 L448.32,126.58 L448.46,127.98 L448.60,129.20 L448.74,130.24 L448.88,131.11 L449.02,131.83 L449.16,132.41 L449.30,132.86 L449.44,133.20 L449.58,133.44 L449.72,133.60 L449.87,133.70 L450.01,133.74 L450.15,133.75 L450.29,133.75 L450.43,133.75 L450.57,133.73 L450.71,133.67 L450.85,133.55 L450.99,133.37 L451.13,133.09 L451.27,132.72 L451.41,132.22 L451.55,131.59 L451.69,130.82 L451.83,129.89 L451.97,128.79 L452.11,127.51 L452.26,126.05 L452.40,124.39 L452.54,122.54 L452.68,120.47 L452.82,118.21 L452.96,115.73 L453.10,113.04 L453.24,110.15 L453.38,107.06 L453.52,103.78 L453.66,100.30 L453.80,96.66 L453.94,92.87 L454.08,88.96 L454.22,85.05 L454.36,81.50 L454.50,80.22 L454.65,82.82 L454.79,86.60 L454.93,90.53 L455.07,94.38 L455.21,98.12 L455.35,101.69 L455.49,105.08 L455.63,108.29 L455.77,111.30 L455.91,114.11 L456.05,116.71 L456.19,119.11 L456.33,121.30 L456.47,123.28 L456.61,125.06 L456.75,126.64 L456.89,128.03 L457.04,129.24 L457.18,130.27 L457.32,131.14 L457.46,131.85 L457.60,132.43 L457.74,132.88 L457.88,133.21 L458.02,133.45 L458.16,133.61 L458.30,133.70 L458.44,133.74 L458.58,133.75 L458.72,133.75 L458.86,133.75 L459.00,133.73 L459.14,133.66 L459.28,133.55 L459.43,133.35 L459.57,133.07 L459.71,132.69 L459.85,132.19 L459.99,131.55 L460.13,130.76 L460.27,129.82 L460.41,128.71 L460.55,127.41 L460.69,125.93 L460.83,124.25 L460.97,122.37 L461.11,120.29 L461.25,117.99 L461.39,115.49 L461.53,112.78 L461.67,109.86 L461.82,106.74 L461.96,103.42 L462.10,99.91 L462.24,96.24 L462.38,92.41 L462.52,88.47 L462.66,84.54 L462.80,81.00 L462.94,79.88 L463.08,82.60 L463.22,86.42 L463.36,90.37 L463.50,94.26 L463.64,98.01 L463.78,101.60 L463.92,105.01 L464.06,108.24 L464.21,111.26 L464.35,114.08 L464.49,116.69 L464.63,119.10 L464.77,121.29 L464.91,123.28 L465.05,125.06 L465.19,126.65 L465.33,128.04 L465.47,129.25 L465.61,130.29 L465.75,131.15 L465.89,131.87 L466.03,132.44 L466.17,132.89 L466.31,133.22 L466.46,133.46 L466.60,133.61 L466.74,133.70 L466.88,133.74 L467.02,133.75 L467.16,133.75 L467.30,133.75 L467.44,133.72 L467.58,133.66 L467.72,133.54 L467.86,133.34 L468.00,133.06 L468.14,132.66 L468.28,132.15 L468.42,131.50 L468.56,130.71 L468.70,129.75 L468.85,128.62 L468.99,127.31 L469.13,125.81 L469.27,124.11 L469.41,122.21 L469.55,120.10 L469.69,117.78 L469.83,115.25 L469.97,112.51 L470.11,109.56 L470.25,106.41 L470.39,103.06 L470.53,99.52 L470.67,95.81 L470.81,91.95 L470.95,87.98 L471.09,84.02 L471.24,80.50 L471.38,79.54 L471.52,82.38 L471.66,86.25 L471.80,90.22 L471.94,94.13 L472.08,97.90 L472.22,101.51 L472.36,104.94 L472.50,108.18 L472.64,111.22 L472.78,114.05 L472.92,116.67 L473.06,119.09 L473.20,121.29 L473.34,123.29 L473.48,125.08 L473.63,126.67 L473.77,128.06 L473.91,129.27 L474.05,130.30 L474.19,131.17 L474.33,131.88 L474.47,132.46 L474.61,132.90 L474.75,133.23 L474.89,133.46 L475.03,133.62 L475.17,133.70 L475.31,133.74 L475.45,133.75 L475.59,133.75 L475.73,133.75 L475.87,133.72 L476.02,133.66 L476.16,133.53 L476.30,133.33 L476.44,133.04 L476.58,132.64 L476.72,132.12 L476.86,131.47 L477.00,130.66 L477.14,129.70 L477.28,128.56 L477.42,127.24 L477.56,125.73 L477.70,124.03 L477.84,122.12 L477.98,120.00 L478.12,117.68 L478.26,115.14 L478.41,112.39 L478.55,109.44 L478.69,106.29 L478.83,102.94 L478.97,99.40 L479.11,95.69 L479.25,91.84 L479.39,87.88 L479.53,83.94 L479.67,80.48 L479.81,79.71 L479.95,82.65 L480.09,86.52 L480.23,90.50 L480.37,94.40 L480.51,98.16 L480.66,101.76 L480.80,105.18 L480.94,108.40 L481.08,111.42 L481.22,114.24 L481.36,116.85 L481.50,119.25 L481.64,121.43 L481.78,123.41 L481.92,125.18 L482.06,126.76 L482.20,128.14 L482.34,129.34 L482.48,130.36 L482.62,131.21 L482.76,131.92 L482.90,132.48 L483.05,132.92 L483.19,133.24 L483.33,133.47 L483.47,133.62 L483.61,133.71 L483.75,133.74 L483.89,133.75 L484.03,133.75 L484.17,133.75 L484.31,133.72 L484.45,133.65 L484.59,133.53 L484.73,133.32 L484.87,133.03 L485.01,132.63 L485.15,132.11 L485.29,131.45 L485.44,130.64 L485.58,129.67 L485.72,128.53 L485.86,127.21 L486.00,125.70 L486.14,123.99 L486.28,122.08 L486.42,119.97 L486.56,117.64 L486.70,115.11 L486.84,112.37 L486.98,109.42 L487.12,106.27 L487.26,102.93 L487.40,99.40 L487.54,95.70 L487.68,91.86 L487.83,87.92 L487.97,84.00 L488.11,80.60 L488.25,80.01 L488.39,83.02 L488.53,86.89 L488.67,90.85 L488.81,94.73 L488.95,98.47 L489.09,102.04 L489.23,105.44 L489.37,108.64 L489.51,111.64 L489.65,114.44 L489.79,117.02 L489.93,119.40 L490.07,121.57 L490.22,123.53 L490.36,125.29 L490.50,126.85 L490.64,128.22 L490.78,129.40 L490.92,130.41 L491.06,131.26 L491.20,131.95 L491.34,132.51 L491.48,132.94 L491.62,133.26 L491.76,133.48 L491.90,133.63 L492.04,133.71 L492.18,133.74 L492.32,133.75 L492.46,133.75 L492.61,133.75 L492.75,133.72 L492.89,133.65 L493.03,133.52 L493.17,133.31 L493.31,133.02 L493.45,132.61 L493.59,132.09 L493.73,131.43 L493.87,130.62 L494.01,129.65 L494.15,128.50 L494.29,127.18 L494.43,125.67 L494.57,123.96 L494.71,122.05 L494.86,119.94 L495.00,117.61 L495.14,115.08 L495.28,112.34 L495.42,109.40 L495.56,106.26 L495.70,102.92 L495.84,99.41 L495.98,95.73 L496.12,91.90 L496.26,87.99 L496.40,84.10 L496.54,80.77 L496.68,80.38 L496.82,83.45 L496.96,87.32 L497.10,91.26 L497.25,95.12 L497.39,98.83 L497.53,102.38 L497.67,105.75 L497.81,108.93 L497.95,111.91 L498.09,114.68 L498.23,117.24 L498.37,119.60 L498.51,121.74 L498.65,123.68 L498.79,125.42 L498.93,126.96 L499.07,128.31 L499.21,129.48 L499.35,130.48 L499.49,131.31 L499.64,131.99 L499.78,132.54 L499.92,132.96 L500.06,133.27 L500.20,133.49 L500.34,133.63 L500.48,133.71 L500.62,133.75 L500.76,133.75 L500.90,133.75 L501.04,133.75 L501.18,133.72 L501.32,133.65 L501.46,133.52 L501.60,133.31 L501.74,133.01 L501.88,132.61 L502.03,132.08 L502.17,131.42 L502.31,130.62 L502.45,129.65 L502.59,128.51 L502.73,127.20 L502.87,125.70 L503.01,124.00 L503.15,122.11 L503.29,120.01 L503.43,117.71 L503.57,115.20 L503.71,112.49 L503.85,109.58 L503.99,106.47 L504.13,103.17 L504.27,99.70 L504.42,96.06 L504.56,92.28 L504.70,88.41 L504.84,84.58 L504.98,81.35 L505.12,81.14 L505.26,84.24 L505.40,88.07 L505.54,91.96 L505.68,95.76 L505.82,99.42 L505.96,102.92 L506.10,106.24 L506.24,109.37 L506.38,112.30 L506.52,115.03 L506.66,117.55 L506.81,119.87 L506.95,121.98 L507.09,123.89 L507.23,125.59 L507.37,127.11 L507.51,128.43 L507.65,129.58 L507.79,130.55 L507.93,131.37 L508.07,132.04 L508.21,132.57 L508.35,132.98 L508.49,133.29 L508.63,133.50 L508.77,133.64 L508.91,133.71 L509.06,133.75 L509.20,133.75 L509.34,133.75 L509.48,133.75 L509.62,133.72 L509.76,133.64 L509.90,133.51 L510.04,133.30 L510.18,133.01 L510.32,132.60 L510.46,132.08 L510.60,131.42 L510.74,130.62 L510.88,129.66 L511.02,128.53 L511.16,127.23 L511.30,125.74 L511.45,124.05 L511.59,122.18 L511.73,120.10 L511.87,117.82 L512.01,115.34 L512.15,112.65 L512.29,109.77 L512.43,106.69 L512.57,103.43 L512.71,99.99 L512.85,96.39 L512.99,92.65 L513.13,88.83 L513.27,85.06 L513.41,81.93 L513.55,81.90 L513.69,85.04 L513.84,88.84 L513.98,92.68 L514.12,96.44 L514.26,100.05 L514.40,103.50 L514.54,106.77 L514.68,109.85 L514.82,112.74 L514.96,115.42 L515.10,117.90 L515.24,120.18 L515.38,122.25 L515.52,124.12 L515.66,125.79 L515.80,127.27 L515.94,128.57 L516.08,129.69 L516.23,130.65 L516.37,131.44 L516.51,132.09 L516.65,132.61 L516.79,133.01 L516.93,133.31 L517.07,133.51 L517.21,133.64 L517.35,133.72 L517.49,133.75 L517.63,133.75 L517.77,133.75 L517.91,133.75 L518.05,133.72 L518.19,133.64 L518.33,133.51 L518.47,133.30 L518.62,133.01 L518.76,132.61 L518.90,132.09 L519.04,131.45 L519.18,130.66 L519.32,129.71 L519.46,128.60 L519.60,127.32 L519.74,125.86 L519.88,124.22 L520.02,122.38 L520.16,120.35 L520.30,118.12 L520.44,115.69 L520.58,113.07 L520.72,110.26 L520.86,107.26 L521.01,104.09 L521.15,100.74 L521.29,97.24 L521.43,93.61 L521.57,89.90 L521.71,86.24 L521.85,83.27 L521.99,83.44 L522.13,86.55 L522.27,90.25 L522.41,93.98 L522.55,97.63 L522.69,101.14 L522.83,104.48 L522.97,107.66 L523.11,110.64 L523.25,113.44 L523.40,116.04 L523.54,118.44 L523.68,120.64 L523.82,122.65 L523.96,124.46 L524.10,126.08 L524.24,127.51 L524.38,128.77 L524.52,129.85 L524.66,130.77 L524.80,131.54 L524.94,132.16 L525.08,132.66 L525.22,133.05 L525.36,133.33 L525.50,133.53 L525.65,133.65 L525.79,133.72 L525.93,133.75 L526.07,133.75 L526.21,133.75 L526.35,133.75 L526.49,133.71 L526.63,133.64 L526.77,133.51 L526.91,133.31 L527.05,133.02 L527.19,132.62 L527.33,132.12 L527.47,131.48 L527.61,130.71 L527.75,129.79 L527.89,128.70 L528.04,127.45 L528.18,126.03 L528.32,124.42 L528.46,122.62 L528.60,120.64 L528.74,118.47 L528.88,116.11 L529.02,113.56 L529.16,110.82 L529.30,107.90 L529.44,104.80 L529.58,101.54 L529.72,98.14 L529.86,94.61 L530.00,91.00 L530.14,87.47 L530.28,84.64 L530.43,84.97 L530.57,88.04 L530.71,91.64 L530.85,95.27 L530.99,98.81 L531.13,102.21 L531.27,105.46 L531.41,108.53 L531.55,111.42 L531.69,114.12 L531.83,116.62 L531.97,118.94 L532.11,121.07 L532.25,123.01 L532.39,124.76 L532.53,126.32 L532.67,127.71 L532.82,128.92 L532.96,129.97 L533.10,130.86 L533.24,131.61 L533.38,132.22 L533.52,132.70 L533.66,133.07 L533.80,133.35 L533.94,133.54 L534.08,133.66 L534.22,133.72 L534.36,133.75 L534.50,133.75 L534.64,133.75 L534.78,133.75 L534.92,133.71 L535.06,133.64 L535.21,133.51 L535.35,133.30 L535.49,133.01 L535.63,132.61 L535.77,132.10 L535.91,131.47 L536.05,130.69 L536.19,129.76 L536.33,128.67 L536.47,127.42 L536.61,125.98 L536.75,124.36 L536.89,122.56 L537.03,120.56 L537.17,118.37 L537.31,115.98 L537.45,113.40 L537.60,110.63 L537.74,107.68 L537.88,104.54 L538.02,101.24 L538.16,97.78 L538.30,94.20 L538.44,90.53 L538.58,86.94 L538.72,84.13 L538.86,84.59 L539.00,87.71 L539.14,91.32 L539.28,94.96 L539.42,98.51 L539.56,101.92 L539.70,105.18 L539.85,108.27 L539.99,111.19 L540.13,113.91 L540.27,116.45 L540.41,118.80 L540.55,120.95 L540.69,122.90 L540.83,124.67 L540.97,126.25 L541.11,127.65 L541.25,128.88 L541.39,129.94 L541.53,130.84 L541.67,131.59 L541.81,132.21 L541.95,132.69 L542.09,133.07 L542.24,133.35 L542.38,133.54 L542.52,133.66 L542.66,133.72 L542.80,133.75 L542.94,133.75 L543.08,133.75 L543.22,133.74 L543.36,133.71 L543.50,133.63 L543.64,133.49 L543.78,133.27 L543.92,132.97 L544.06,132.55 L544.20,132.02 L544.34,131.35 L544.48,130.54 L544.63,129.57 L544.77,128.42 L544.91,127.10 L545.05,125.60 L545.19,123.90 L545.33,122.00 L545.47,119.90 L545.61,117.59 L545.75,115.08 L545.89,112.36 L546.03,109.44 L546.17,106.32 L546.31,103.01 L546.45,99.52 L546.59,95.86 L546.73,92.06 L546.87,88.18 L547.02,84.38 L547.16,81.47 L547.30,82.09 L547.44,85.38 L547.58,89.17 L547.72,92.97 L547.86,96.68 L548.00,100.26 L548.14,103.67 L548.28,106.92 L548.42,109.97 L548.56,112.84 L548.70,115.51 L548.84,117.98 L548.98,120.25 L549.12,122.31 L549.26,124.18 L549.41,125.85 L549.55,127.33 L549.69,128.63 L549.83,129.75 L549.97,130.71 L550.11,131.50 L550.25,132.15 L550.39,132.66 L550.53,133.05 L550.67,133.34 L550.81,133.53 L550.95,133.66 L551.09,133.72 L551.23,133.75 L551.37,133.75 L551.51,133.75 L551.65,133.74 L551.80,133.71 L551.94,133.62 L552.08,133.47 L552.22,133.25 L552.36,132.93 L552.50,132.50 L552.64,131.95 L552.78,131.26 L552.92,130.42 L553.06,129.43 L553.20,128.26 L553.34,126.91 L553.48,125.38 L553.62,123.66 L553.76,121.74 L553.90,119.62 L554.05,117.30 L554.19,114.78 L554.33,112.05 L554.47,109.14 L554.61,106.03 L554.75,102.73 L554.89,99.27 L555.03,95.65 L555.17,91.90 L555.31,88.09 L555.45,84.39 L555.59,81.64 L555.73,82.51 L555.87,85.90 L556.01,89.72 L556.15,93.55 L556.29,97.27 L556.44,100.84 L556.58,104.25 L556.72,107.48 L556.86,110.51 L557.00,113.35 L557.14,115.99 L557.28,118.42 L557.42,120.65 L557.56,122.68 L557.70,124.50 L557.84,126.13 L557.98,127.57 L558.12,128.83 L558.26,129.91 L558.40,130.83 L558.54,131.59 L558.68,132.22 L558.83,132.71 L558.97,133.08 L559.11,133.36 L559.25,133.55 L559.39,133.66 L559.53,133.73 L559.67,133.75 L559.81,133.75 L559.95,133.75 L560.09,133.74 L560.23,133.70 L560.37,133.62 L560.51,133.47 L560.65,133.25 L560.79,132.94 L560.93,132.52 L561.07,131.98 L561.22,131.30 L561.36,130.48 L561.50,129.51 L561.64,128.37 L561.78,127.06 L561.92,125.57 L562.06,123.89 L562.20,122.02 L562.34,119.95 L562.48,117.69 L562.62,115.23 L562.76,112.58 L562.90,109.74 L563.04,106.72 L563.18,103.52 L563.32,100.15 L563.46,96.63 L563.61,93.00 L563.75,89.30 L563.89,85.72 L564.03,83.14 L564.17,84.15 L564.31,87.47 L564.45,91.19 L564.59,94.90 L564.73,98.50 L564.87,101.97 L565.01,105.27 L565.15,108.39 L565.29,111.33 L565.43,114.07 L565.57,116.62 L565.71,118.97 L565.85,121.13 L566.00,123.09 L566.14,124.85 L566.28,126.42 L566.42,127.81 L566.56,129.02 L566.70,130.07 L566.84,130.95 L566.98,131.69 L567.12,132.28 L567.26,132.76 L567.40,133.12 L567.54,133.38 L567.68,133.56 L567.82,133.67 L567.96,133.73 L568.10,133.75 L568.24,133.75 L568.39,133.75 L568.53,133.74 L568.67,133.70 L568.81,133.62 L568.95,133.48 L569.09,133.26 L569.23,132.95 L569.37,132.54 L569.51,132.01 L569.65,131.35 L569.79,130.55 L569.93,129.61 L570.07,128.50 L570.21,127.22 L570.35,125.77 L570.49,124.14 L570.64,122.33 L570.78,120.33 L570.92,118.14 L571.06,115.76 L571.20,113.19 L571.34,110.44 L571.48,107.52 L571.62,104.42 L571.76,101.17 L571.90,97.78 L572.04,94.27 L572.18,90.70 L572.32,87.27 L572.46,84.87 L572.60,86.01 L572.74,89.26 L572.88,92.85 L573.03,96.43 L573.17,99.91 L573.31,103.25 L573.45,106.43 L573.59,109.43 L573.73,112.26 L573.87,114.90 L574.01,117.35 L574.15,119.61 L574.29,121.68 L574.43,123.56 L574.57,125.25 L574.71,126.76 L574.85,128.09 L574.99,129.25 L575.13,130.25 L575.27,131.09 L575.42,131.79 L575.56,132.36 L575.70,132.81 L575.84,133.15 L575.98,133.40 L576.12,133.57 L576.26,133.68 L576.40,133.73 L576.54,133.75 L576.68,133.75 L576.82,133.75 L576.96,133.74 L577.10,133.70 L577.24,133.62 L577.38,133.48 L577.52,133.26 L577.66,132.96 L577.81,132.55 L577.95,132.02 L578.09,131.37 L578.23,130.58 L578.37,129.64 L578.51,128.53 L578.65,127.26 L578.79,125.81 L578.93,124.18 L579.07,122.36 L579.21,120.34 L579.35,118.14 L579.49,115.74 L579.63,113.14 L579.77,110.35 L579.91,107.38 L580.05,104.23 L580.20,100.91 L580.34,97.43 L580.48,93.83 L580.62,90.17 L580.76,86.64 L580.90,84.23 L581.04,85.45 L581.18,88.71 L581.32,92.29 L581.46,95.87 L581.60,99.35 L581.74,102.70 L581.88,105.90 L582.02,108.93 L582.16,111.78 L582.30,114.45 L582.44,116.94 L582.59,119.24 L582.73,121.35 L582.87,123.26 L583.01,124.99 L583.15,126.54 L583.29,127.91 L583.43,129.10 L583.57,130.13 L583.71,131.00 L583.85,131.72 L583.99,132.31 L584.13,132.78 L584.27,133.13 L584.41,133.39 L584.55,133.57 L584.69,133.67 L584.84,133.73 L584.98,133.75 L585.12,133.75 L585.26,133.75 L585.40,133.74 L585.54,133.70 L585.68,133.61 L585.82,133.45 L585.96,133.22 L586.10,132.89 L586.24,132.45 L586.38,131.89 L586.52,131.20 L586.66,130.35 L586.80,129.34 L586.94,128.16 L587.08,126.80 L587.23,125.26 L587.37,123.52 L587.51,121.58 L587.65,119.43 L587.79,117.09 L587.93,114.53 L588.07,111.77 L588.21,108.81 L588.35,105.65 L588.49,102.30 L588.63,98.77 L588.77,95.08 L588.91,91.26 L589.05,87.38 L589.19,83.65 L589.33,81.22 L589.47,82.67 L589.62,86.15 L589.76,89.96 L589.90,93.75 L590.04,97.44 L590.18,100.99 L590.32,104.37 L590.46,107.58 L590.60,110.60 L590.74,113.43 L590.88,116.06 L591.02,118.48 L591.16,120.71 L591.30,122.73 L591.44,124.56 L591.58,126.18 L591.72,127.62 L591.86,128.88 L592.01,129.96 L592.15,130.88 L592.29,131.64 L592.43,132.25 L592.57,132.74 L592.71,133.11 L592.85,133.38 L592.99,133.56 L593.13,133.67 L593.27,133.73 L593.41,133.75 L593.55,133.75 L593.69,133.75 L593.83,133.74 L593.97,133.69 L594.11,133.59 L594.25,133.43 L594.40,133.18 L594.54,132.83 L594.68,132.36 L594.82,131.77 L594.96,131.02 L595.10,130.13 L595.24,129.06 L595.38,127.81 L595.52,126.37 L595.66,124.74 L595.80,122.90 L595.94,120.85 L596.08,118.59 L596.22,116.11 L596.36,113.42 L596.50,110.51 L596.64,107.39 L596.79,104.07 L596.93,100.54 L597.07,96.83 L597.21,92.96 L597.35,88.94 L597.49,84.87 L597.63,80.99 L597.77,78.56 L597.91,80.25 L598.05,83.95 L598.19,87.96 L598.33,91.94 L598.47,95.81 L598.61,99.53 L598.75,103.07 L598.89,106.43 L599.04,109.59 L599.18,112.55 L599.32,115.30 L599.46,117.84 L599.60,120.16 L599.74,122.28 L599.88,124.18 L600.02,125.88 L600.16,127.38 L600.30,128.69 L600.44,129.82 L600.58,130.77 L600.72,131.56 L600.86,132.21 L601.00,132.71 L601.14,133.09 L601.28,133.37 L601.43,133.56 L601.57,133.67 L601.71,133.73 L601.85,133.75 L601.99,133.75 L602.13,133.75 L602.27,133.74 L602.41,133.68 L602.55,133.58 L602.69,133.40 L602.83,133.14 L602.97,132.77 L603.11,132.27 L603.25,131.64 L603.39,130.86 L603.53,129.91 L603.67,128.79 L603.82,127.48 L603.96,125.97 L604.10,124.26 L604.24,122.33 L604.38,120.19 L604.52,117.83 L604.66,115.24 L604.80,112.44 L604.94,109.41 L605.08,106.16 L605.22,102.71 L605.36,99.05 L605.50,95.21 L605.64,91.20 L605.78,87.05 L605.92,82.86 L606.06,78.88 L606.21,76.52 L606.35,78.47 L606.49,82.35 L606.63,86.53 L606.77,90.67 L606.91,94.69 L607.05,98.55 L607.19,102.22 L607.33,105.69 L607.47,108.96 L607.61,112.02 L607.75,114.85 L607.89,117.47 L608.03,119.86 L608.17,122.03 L608.31,123.99 L608.45,125.73 L608.60,127.27 L608.74,128.61 L608.88,129.76 L609.02,130.73 L609.16,131.54 L609.30,132.19 L609.44,132.71 L609.58,133.09 L609.72,133.37 L609.86,133.56 L610.00,133.67 L610.14,133.73 L610.28,133.75 L610.42,133.75 L610.56,133.75 L610.70,133.73 L610.84,133.68 L610.99,133.57 L611.13,133.39 L611.27,133.11 L611.41,132.73 L611.55,132.23 L611.69,131.58 L611.83,130.78 L611.97,129.82 L612.11,128.67 L612.25,127.33 L612.39,125.80 L612.53,124.05 L612.67,122.09 L612.81,119.91 L612.95,117.51 L613.09,114.88 L613.23,112.02 L613.38,108.95 L613.52,105.65 L613.66,102.14 L613.80,98.42 L613.94,94.52 L614.08,90.45 L614.22,86.24 L614.36,81.99 L614.50,77.98 L614.64,75.73 L614.78,77.86 L614.92,81.83 L615.06,86.06 L615.20,90.26 L615.34,94.32 L615.48,98.22 L615.63,101.94 L615.77,105.45 L615.91,108.76 L616.05,111.84 L616.19,114.71 L616.33,117.35 L616.47,119.77 L616.61,121.96 L616.75,123.93 L616.89,125.69 L617.03,127.24 L617.17,128.59 L617.31,129.75 L617.45,130.73 L617.59,131.54 L617.73,132.20 L617.87,132.71 L618.02,133.10 L618.16,133.38 L618.30,133.56 L618.44,133.68 L618.58,133.73 L618.72,133.75 L618.86,133.75 L619.00,133.75 L619.14,133.73 L619.28,133.68 L619.42,133.56 L619.56,133.37 L619.70,133.09 L619.84,132.70 L619.98,132.18 L620.12,131.52 L620.26,130.70 L620.41,129.72 L620.55,128.55 L620.69,127.19 L620.83,125.62 L620.97,123.84 L621.11,121.85 L621.25,119.63 L621.39,117.18 L621.53,114.51 L621.67,111.61 L621.81,108.50 L621.95,105.16 L622.09,101.61 L622.23,97.85 L622.37,93.91 L622.51,89.80 L622.65,85.56 L622.80,81.29 L622.94,77.29 L623.08,75.19 L623.22,77.50 L623.36,81.55 L623.50,85.84 L623.64,90.08 L623.78,94.19 L623.92,98.13 L624.06,101.87 L624.20,105.41 L624.34,108.74 L624.48,111.84 L624.62,114.72 L624.76,117.37 L624.90,119.80 L625.04,122.00 L625.19,123.97 L625.33,125.73 L625.47,127.28 L625.61,128.63 L625.75,129.79 L625.89,130.76 L626.03,131.57 L626.17,132.22 L626.31,132.73 L626.45,133.11 L626.59,133.39 L626.73,133.57 L626.87,133.68 L627.01,133.73 L627.15,133.75 L627.29,133.75 L627.43,133.75 L627.58,133.73 L627.72,133.67 L627.86,133.56 L628.00,133.37 L628.14,133.08 L628.28,132.69 L628.42,132.16 L628.56,131.50 L628.70,130.68 L628.84,129.70 L628.98,128.53 L629.12,127.17 L629.26,125.60 L629.40,123.83 L629.54,121.85 L629.68,119.64 L629.83,117.21 L629.97,114.55 L630.11,111.68 L630.25,108.57 L630.39,105.26 L630.53,101.73 L630.67,97.99 L630.81,94.08 L630.95,90.00 L631.09,85.79 L631.23,81.55 L631.37,77.61 L631.51,75.69 L631.65,78.12 L631.79,82.16 L631.93,86.41 L632.07,90.62 L632.22,94.68 L632.36,98.58 L632.50,102.29 L632.64,105.79 L632.78,109.08 L632.92,112.15 L633.06,114.99 L633.20,117.61 L633.34,120.01 L633.48,122.18 L633.62,124.13 L633.76,125.87 L633.90,127.40 L634.04,128.72 L634.18,129.86 L634.32,130.82 L634.46,131.61 L634.61,132.25 L634.75,132.75 L634.89,133.13 L635.03,133.40 L635.17,133.58 L635.31,133.68 L635.45,133.74 L635.59,133.75 L635.73,133.75 L635.87,133.75 L636.01,133.73 L636.15,133.67 L636.29,133.55 L636.43,133.36 L636.57,133.07 L636.71,132.68 L636.85,132.15 L637.00,131.49 L637.14,130.67 L637.28,129.69 L637.42,128.52 L637.56,127.16 L637.70,125.60 L637.84,123.84 L637.98,121.86 L638.12,119.66 L638.26,117.24 L638.40,114.60 L638.54,111.74 L638.68,108.65 L638.82,105.35 L638.96,101.85 L639.10,98.14 L639.24,94.25 L639.39,90.19 L639.53,86.02 L639.67,81.82 L639.81,77.96 L639.95,76.22 L640.09,78.77 L640.23,82.80 L640.37,87.02 L640.51,91.19 L640.65,95.22 L640.79,99.07 L640.93,102.74 L641.07,106.20 L641.21,109.45 L641.35,112.49 L641.49,115.30 L641.63,117.88 L641.78,120.25 L641.92,122.39 L642.06,124.31 L642.20,126.02 L642.34,127.52 L642.48,128.83 L642.62,129.95 L642.76,130.89 L642.90,131.67 L643.04,132.29 L643.18,132.78 L643.32,133.15 L643.46,133.41 L643.60,133.59 L643.74,133.69 L643.88,133.74 L644.02,133.75 L644.17,133.75 L644.31,133.75 L644.45,133.73 L644.59,133.67 L644.73,133.55 L644.87,133.35 L645.01,133.07 L645.15,132.67 L645.29,132.15 L645.43,131.49 L645.57,130.68 L645.71,129.70 L645.85,128.54 L645.99,127.20 L646.13,125.66 L646.27,123.91 L646.42,121.96 L646.56,119.79 L646.70,117.40 L646.84,114.79 L646.98,111.97 L647.12,108.93 L647.26,105.68 L647.40,102.22 L647.54,98.57 L647.68,94.74 L647.82,90.76 L647.96,86.65 L648.10,82.54 L648.24,78.77 L648.38,77.22 L648.52,79.85 L648.66,83.83 L648.81,87.99 L648.95,92.08 L649.09,96.03 L649.23,99.81 L649.37,103.41 L649.51,106.81 L649.65,109.99 L649.79,112.97 L649.93,115.72 L650.07,118.25 L650.21,120.57 L650.35,122.66 L650.49,124.54 L650.63,126.22 L650.77,127.69 L650.91,128.96 L651.05,130.06 L651.20,130.97 L651.34,131.73 L651.48,132.34 L651.62,132.82 L651.76,133.17 L651.90,133.43 L652.04,133.59 L652.18,133.69 L652.32,133.74 L652.46,133.75 L652.60,133.75 L652.74,133.75 L652.88,133.73 L653.02,133.67 L653.16,133.55 L653.30,133.35 L653.44,133.07 L653.59,132.67 L653.73,132.16 L653.87,131.50 L654.01,130.70 L654.15,129.73 L654.29,128.58 L654.43,127.25 L654.57,125.73 L654.71,124.01 L654.85,122.08 L654.99,119.93 L655.13,117.58 L655.27,115.01 L655.41,112.22 L655.55,109.23 L655.69,106.02 L655.83,102.62 L655.98,99.02 L656.12,95.25 L656.26,91.33 L656.40,87.30 L656.54,83.25 L656.68,79.58 L656.82,78.23 L656.96,80.93 L657.10,84.86 L657.24,88.94 L657.38,92.96 L657.52,96.84 L657.66,100.55 L657.80,104.08 L657.94,107.42 L658.08,110.54 L658.22,113.46 L658.37,116.15 L658.51,118.63 L658.65,120.90 L658.79,122.95 L658.93,124.79 L659.07,126.42 L659.21,127.86 L659.35,129.10 L659.49,130.17 L659.63,131.06 L659.77,131.80 L659.91,132.39 L660.05,132.85 L660.19,133.20 L660.33,133.44 L660.47,133.60 L660.62,133.70 L660.76,133.74 L660.90,133.75 L661.04,133.75 L661.18,133.75 L661.32,133.73 L661.46,133.66 L661.60,133.54 L661.74,133.35 L661.88,133.07 L662.02,132.68 L662.16,132.17 L662.30,131.52 L662.44,130.73 L662.58,129.78 L662.72,128.65 L662.86,127.35 L663.01,125.85 L663.15,124.16 L663.29,122.27 L663.43,120.17 L663.57,117.86 L663.71,115.35 L663.85,112.62 L663.99,109.69 L664.13,106.56 L664.27,103.24 L664.41,99.73 L664.55,96.05 L664.69,92.23 L664.83,88.30 L664.97,84.37 L665.11,80.84 L665.25,79.70 L665.40,82.43 L665.54,86.29 L665.68,90.27 L665.82,94.18 L665.96,97.96 L666.10,101.57 L666.24,105.00 L666.38,108.24 L666.52,111.28 L666.66,114.10 L666.80,116.72 L666.94,119.13 L667.08,121.32 L667.22,123.31 L667.36,125.09 L667.50,126.68 L667.64,128.07 L667.79,129.27 L667.93,130.30 L668.07,131.17 L668.21,131.88 L668.35,132.45 L668.49,132.89 L668.63,133.22 L668.77,133.46 L668.91,133.61 L669.05,133.70 L669.19,133.74 L669.33,133.75 L669.47,133.75 L669.61,133.75 L669.75,133.73 L669.89,133.66 L670.03,133.54 L670.18,133.35 L670.32,133.07 L670.46,132.69 L670.60,132.19 L670.74,131.55 L670.88,130.77 L671.02,129.84 L671.16,128.74 L671.30,127.46 L671.44,126.00 L671.58,124.35 L671.72,122.50 L671.86,120.44 L672.00,118.19 L672.14,115.74 L672.28,113.08 L672.42,110.22 L672.57,107.16 L672.71,103.92 L672.85,100.50 L672.99,96.92 L673.13,93.19 L673.27,89.36 L673.41,85.54 L673.55,82.15 L673.69,81.21 L673.83,83.96 L673.97,87.73 L674.11,91.60 L674.25,95.41 L674.39,99.08 L674.53,102.58 L674.67,105.91 L674.82,109.06 L674.96,112.00 L675.10,114.74 L675.24,117.28 L675.38,119.62 L675.52,121.75 L675.66,123.66 L675.80,125.39 L675.94,126.91 L676.08,128.26 L676.22,129.42 L676.36,130.42 L676.50,131.26 L676.64,131.94 L676.78,132.50 L676.92,132.93 L677.06,133.25 L677.21,133.47 L677.35,133.62 L677.49,133.70 L677.63,133.74 L677.77,133.75 L677.91,133.75 L678.05,133.75 L678.19,133.72 L678.33,133.66 L678.47,133.54 L678.61,133.35 L678.75,133.07 L678.89,132.68 L679.03,132.18 L679.17,131.55 L679.31,130.77 L679.45,129.83 L679.60,128.73 L679.74,127.45 L679.88,125.99 L680.02,124.33 L680.16,122.47 L680.30,120.42 L680.44,118.16 L680.58,115.69 L680.72,113.02 L680.86,110.14 L681.00,107.07 L681.14,103.80 L681.28,100.35 L681.42,96.74 L681.56,92.98 L681.70,89.11 L681.84,85.26 L681.99,81.86 L682.13,81.05 L682.27,83.87 L682.41,87.64 L682.55,91.50 L682.69,95.30 L682.83,98.96 L682.97,102.47 L683.11,105.80 L683.25,108.95 L683.39,111.90 L683.53,114.65 L683.67,117.19 L683.81,119.54 L683.95,121.67 L684.09,123.61 L684.23,125.34 L684.38,126.89 L684.52,128.24 L684.66,129.41 L684.80,130.41 L684.94,131.26 L685.08,131.95 L685.22,132.50 L685.36,132.93 L685.50,133.25 L685.64,133.48 L685.78,133.62 L685.92,133.71 L686.06,133.74 L686.20,133.75 L686.34,133.75 L686.48,133.75 L686.62,133.72 L686.77,133.66 L686.91,133.53 L687.05,133.33 L687.19,133.04 L687.33,132.65 L687.47,132.14 L687.61,131.49 L687.75,130.69 L687.89,129.74 L688.03,128.62 L688.17,127.31 L688.31,125.82 L688.45,124.13 L688.59,122.25 L688.73,120.16 L688.87,117.86 L689.01,115.35 L689.16,112.63 L689.30,109.71 L689.44,106.59 L689.58,103.28 L689.72,99.78 L689.86,96.11 L690.00,92.29 L690.14,88.37 L690.28,84.47 L690.42,81.08 L690.56,80.44 L690.70,83.38 L690.84,87.20 L690.98,91.12 L691.12,94.96 L691.26,98.67 L691.41,102.21 L691.55,105.58 L691.69,108.75 L691.83,111.73 L691.97,114.51 L692.11,117.08 L692.25,119.45 L692.39,121.60 L692.53,123.55 L692.67,125.30 L692.81,126.86 L692.95,128.22 L693.09,129.40 L693.23,130.41 L693.37,131.26 L693.51,131.95 L693.65,132.50 L693.80,132.94 L693.94,133.26 L694.08,133.48 L694.22,133.63 L694.36,133.71 L694.50,133.74 L694.64,133.75 L694.78,133.75 L694.92,133.75 L695.06,133.72 L695.20,133.65 L695.34,133.52 L695.48,133.32 L695.62,133.03 L695.76,132.63 L695.90,132.11 L696.04,131.45 L696.19,130.65 L696.33,129.69 L696.47,128.56 L696.61,127.24 L696.75,125.75 L696.89,124.06 L697.03,122.17 L697.17,120.07 L697.31,117.78 L697.45,115.27 L697.59,112.56 L697.73,109.65 L697.87,106.55 L698.01,103.25 L698.15,99.77 L698.29,96.13 L698.43,92.35 L698.58,88.48 L698.72,84.63 L698.86,81.33 L699.00,80.90 L699.14,83.93 L699.28,87.75 L699.42,91.66 L699.56,95.48 L699.70,99.16 L699.84,102.68 L699.98,106.02 L700.12,109.17 L700.26,112.11 L700.40,114.86 L700.54,117.40 L700.68,119.73 L700.82,121.86 L700.97,123.78 L701.11,125.50 L701.25,127.02 L701.39,128.36 L701.53,129.52 L701.67,130.50 L701.81,131.33 L701.95,132.01 L702.09,132.55 L702.23,132.97 L702.37,133.28 L702.51,133.49 L702.65,133.63 L702.79,133.71 L702.93,133.75 L703.07,133.75 L703.21,133.75 L703.36,133.75 L703.50,133.72 L703.64,133.65 L703.78,133.52 L703.92,133.32 L704.06,133.03 L704.20,132.63 L704.34,132.11 L704.48,131.46 L704.62,130.67 L704.76,129.72 L704.90,128.60 L705.04,127.31 L705.18,125.83 L705.32,124.16 L705.46,122.30 L705.61,120.23 L705.75,117.97 L705.89,115.50 L706.03,112.84 L706.17,109.97 L706.31,106.91 L706.45,103.67 L706.59,100.25 L706.73,96.67 L706.87,92.95 L707.01,89.15 L707.15,85.38 L707.29,82.19 L707.43,81.95 L707.57,84.99 L707.71,88.76 L707.85,92.59 L708.00,96.33 L708.14,99.94 L708.28,103.39 L708.42,106.66 L708.56,109.74 L708.70,112.63 L708.84,115.31 L708.98,117.80 L709.12,120.08 L709.26,122.16 L709.40,124.03 L709.54,125.72 L709.68,127.21 L709.82,128.51 L709.96,129.64 L710.10,130.60 L710.24,131.40 L710.39,132.06 L710.53,132.59 L710.67,132.99 L710.81,133.29 L710.95,133.50 L711.09,133.64 L711.23,133.71 L711.37,133.75 L711.51,133.75 L711.65,133.75 L711.79,133.75 L711.93,133.72 L712.07,133.65 L712.21,133.52 L712.35,133.31 L712.49,133.02 L712.63,132.63 L712.78,132.11 L712.92,131.47 L713.06,130.68 L713.20,129.74 L713.34,128.63 L713.48,127.35 L713.62,125.88 L713.76,124.23 L713.90,122.38 L714.04,120.33 L714.18,118.09 L714.32,115.64 L714.46,113.00 L714.60,110.16 L714.74,107.12 L714.88,103.91 L715.02,100.51 L715.17,96.96 L715.31,93.27 L715.45,89.50 L715.59,85.77 L715.73,82.66 L715.87,82.58 L716.01,85.64 L716.15,89.36 L716.29,93.14 L716.43,96.84 L716.57,100.40 L716.71,103.80 L716.85,107.02 L716.99,110.07 L717.13,112.91 L717.27,115.57 L717.41,118.02 L717.56,120.27 L717.70,122.32 L717.84,124.17 L717.98,125.83 L718.12,127.30 L718.26,128.59 L718.40,129.71 L718.54,130.65 L718.68,131.45 L718.82,132.10 L718.96,132.61 L719.10,133.01 L719.24,133.31 L719.38,133.51 L719.52,133.64 L719.66,133.72 L719.81,133.75 L719.95,133.75 L720.09,133.75 L720.23,133.75 L720.37,133.72 L720.51,133.64 L720.65,133.51 L720.79,133.31 L720.93,133.01 L721.07,132.61 L721.21,132.10 L721.35,131.45 L721.49,130.65 L721.63,129.71 L721.77,128.60 L721.91,127.31 L722.05,125.84 L722.20,124.18 L722.34,122.33 L722.48,120.29 L722.62,118.04 L722.76,115.59 L722.90,112.95 L723.04,110.11 L723.18,107.08 L723.32,103.86 L723.46,100.47 L723.60,96.92 L723.74,93.24 L723.88,89.47 L724.02,85.76 L724.16,82.72 L724.30,82.82 L724.44,85.93 L724.59,89.65 L724.73,93.42 L724.87,97.10 L725.01,100.64 L725.15,104.03 L725.29,107.23 L725.43,110.26 L725.57,113.09 L725.71,115.73 L725.85,118.16 L725.99,120.40 L726.13,122.44 L726.27,124.28 L726.41,125.92 L726.55,127.38 L726.69,128.66 L726.83,129.76 L726.98,130.70 L727.12,131.48 L727.26,132.12 L727.40,132.64 L727.54,133.03 L727.68,133.32 L727.82,133.52 L727.96,133.65 L728.10,133.72 L728.24,133.75 L728.38,133.75 L728.52,133.75 L728.66,133.75 L728.80,133.71 L728.94,133.64 L729.08,133.51 L729.22,133.30 L729.37,133.00 L729.51,132.60 L729.65,132.08 L729.79,131.42 L729.93,130.63 L730.07,129.68 L730.21,128.56 L730.35,127.27 L730.49,125.80 L730.63,124.14 L730.77,122.29 L730.91,120.24 L731.05,117.99 L731.19,115.54 L731.33,112.90 L731.47,110.06 L731.61,107.03 L731.76,103.81 L731.90,100.43 L732.04,96.88 L732.18,93.21 L732.32,89.45 L732.46,85.76 L732.60,82.79 L732.74,83.07 L732.88,86.22 L733.02,89.94 L733.16,93.70 L733.30,97.36 L733.44,100.88 L733.58,104.25 L733.72,107.44 L733.86,110.45 L734.00,113.26 L734.15,115.88 L734.29,118.30 L734.43,120.52 L734.57,122.54 L734.71,124.37 L734.85,126.00 L734.99,127.45 L735.13,128.72 L735.27,129.81 L735.41,130.74 L735.55,131.52 L735.69,132.15 L735.83,132.65 L735.97,133.04 L736.11,133.33 L736.25,133.53 L736.40,133.65 L736.54,133.72 L736.68,133.75 L736.82,133.75 L736.96,133.75 L737.10,133.75 L737.24,133.71 L737.38,133.63 L737.52,133.50 L737.66,133.29 L737.80,132.98 L737.94,132.58 L738.08,132.05 L738.22,131.39 L738.36,130.59 L738.50,129.63 L738.64,128.50 L738.79,127.20 L738.93,125.72 L739.07,124.04 L739.21,122.18 L739.35,120.11 L739.49,117.85 L739.63,115.38 L739.77,112.72 L739.91,109.86 L740.05,106.80 L740.19,103.57 L740.33,100.16 L740.47,96.59 L740.61,92.89 L740.75,89.11 L740.89,85.40 L741.03,82.49 L741.18,82.93 L741.32,86.14 L741.46,89.88 L741.60,93.64 L741.74,97.31 L741.88,100.85 L742.02,104.22 L742.16,107.42 L742.30,110.43 L742.44,113.25 L742.58,115.88 L742.72,118.30 L742.86,120.53 L743.00,122.55 L743.14,124.38 L743.28,126.02 L743.42,127.47 L743.57,128.73 L743.71,129.83 L743.85,130.76 L743.99,131.53 L744.13,132.16 L744.27,132.67 L744.41,133.05 L744.55,133.34 L744.69,133.53 L744.83,133.65 L744.97,133.72 L745.11,133.75 L745.25,133.75 L745.39,133.75 L745.53,133.74 L745.67,133.71 L745.81,133.63 L745.96,133.49 L746.10,133.27 L746.24,132.96 L746.38,132.55 L746.52,132.02 L746.66,131.35 L746.80,130.53 L746.94,129.56 L747.08,128.42 L747.22,127.10 L747.36,125.60 L747.50,123.91 L747.64,122.03 L747.78,119.94 L747.92,117.65 L748.06,115.17 L748.20,112.48 L748.35,109.59 L748.49,106.51 L748.63,103.25 L748.77,99.81 L748.91,96.21 L749.05,92.49 L749.19,88.68 L749.33,84.97 L749.47,82.11 L749.61,82.72 L749.75,86.00 L749.89,89.77 L750.03,93.56 L750.17,97.24 L750.31,100.79 L750.45,104.18 L750.60,107.39 L750.74,110.41 L750.88,113.24 L751.02,115.87 L751.16,118.31 L751.30,120.54 L751.44,122.57 L751.58,124.40 L751.72,126.04 L751.86,127.49 L752.00,128.75 L752.14,129.85 L752.28,130.77 L752.42,131.55 L752.56,132.18 L752.70,132.68 L752.84,133.06 L752.99,133.34 L753.13,133.54 L753.27,133.66 L753.41,133.72 L753.55,133.75 L753.69,133.75 L753.83,133.75 L753.97,133.74 L754.11,133.71 L754.25,133.62 L754.39,133.48 L754.53,133.26 L754.67,132.95 L754.81,132.52 L754.95,131.98 L755.09,131.30 L755.23,130.47 L755.38,129.49 L755.52,128.34 L755.66,127.00 L755.80,125.49 L755.94,123.78 L756.08,121.87 L756.22,119.77 L756.36,117.46 L756.50,114.95" fill="none" stroke="#5b9bd5" stroke-width="1.15" stroke-linejoin="round" stroke-linecap="round" clip-path="url(#cl306)"/>
<rect x="306.60" y="57.00" width="449.90" height="83.20" fill="none" stroke="#3a3a3a" stroke-width="1.2"/>
<line x1="306.60" y1="140.20" x2="306.60" y2="135.70" stroke="#3a3a3a" stroke-width="1.2" />
<line x1="306.60" y1="57.00" x2="306.60" y2="61.50" stroke="#3a3a3a" stroke-width="1.2" />
<line x1="396.58" y1="140.20" x2="396.58" y2="135.70" stroke="#3a3a3a" stroke-width="1.2" />
<line x1="396.58" y1="57.00" x2="396.58" y2="61.50" stroke="#3a3a3a" stroke-width="1.2" />
<line x1="486.56" y1="140.20" x2="486.56" y2="135.70" stroke="#3a3a3a" stroke-width="1.2" />
<line x1="486.56" y1="57.00" x2="486.56" y2="61.50" stroke="#3a3a3a" stroke-width="1.2" />
<line x1="576.54" y1="140.20" x2="576.54" y2="135.70" stroke="#3a3a3a" stroke-width="1.2" />
<line x1="576.54" y1="57.00" x2="576.54" y2="61.50" stroke="#3a3a3a" stroke-width="1.2" />
<line x1="666.52" y1="140.20" x2="666.52" y2="135.70" stroke="#3a3a3a" stroke-width="1.2" />
<line x1="666.52" y1="57.00" x2="666.52" y2="61.50" stroke="#3a3a3a" stroke-width="1.2" />
<line x1="756.50" y1="140.20" x2="756.50" y2="135.70" stroke="#3a3a3a" stroke-width="1.2" />
<line x1="756.50" y1="57.00" x2="756.50" y2="61.50" stroke="#3a3a3a" stroke-width="1.2" />
<line x1="306.60" y1="140.20" x2="311.10" y2="140.20" stroke="#3a3a3a" stroke-width="1.2" />
<line x1="756.50" y1="140.20" x2="752.00" y2="140.20" stroke="#3a3a3a" stroke-width="1.2" />
<line x1="306.60" y1="98.60" x2="311.10" y2="98.60" stroke="#3a3a3a" stroke-width="1.2" />
<line x1="756.50" y1="98.60" x2="752.00" y2="98.60" stroke="#3a3a3a" stroke-width="1.2" />
<line x1="306.60" y1="57.00" x2="311.10" y2="57.00" stroke="#3a3a3a" stroke-width="1.2" />
<line x1="756.50" y1="57.00" x2="752.00" y2="57.00" stroke="#3a3a3a" stroke-width="1.2" />
<text x="302.00" y="145.40" font-family="Liberation Serif" font-size="18.5" text-anchor="end" fill="#262626" >0</text>
<text x="302.00" y="103.80" font-family="Liberation Serif" font-size="18.5" text-anchor="end" fill="#262626" textLength="23.60" lengthAdjust="spacingAndGlyphs" >0.2</text>
<text x="302.00" y="62.20" font-family="Liberation Serif" font-size="18.5" text-anchor="end" fill="#262626" textLength="23.60" lengthAdjust="spacingAndGlyphs" >0.4</text>
<text x="306.60" y="160.80" font-family="Liberation Serif" font-size="18.5" text-anchor="middle" fill="#262626" >0</text>
<text x="396.58" y="160.80" font-family="Liberation Serif" font-size="18.5" text-anchor="middle" fill="#262626" textLength="23.60" lengthAdjust="spacingAndGlyphs" >0.2</text>
<text x="486.56" y="160.80" font-family="Liberation Serif" font-size="18.5" text-anchor="middle" fill="#262626" textLength="23.60" lengthAdjust="spacingAndGlyphs" >0.4</text>
<text x="576.54" y="160.80" font-family="Liberation Serif" font-size="18.5" text-anchor="middle" fill="#262626" textLength="23.60" lengthAdjust="spacingAndGlyphs" >0.6</text>
<text x="666.52" y="160.80" font-family="Liberation Serif" font-size="18.5" text-anchor="middle" fill="#262626" textLength="23.60" lengthAdjust="spacingAndGlyphs" >0.8</text>
<text x="756.50" y="160.80" font-family="Liberation Serif" font-size="18.5" text-anchor="middle" fill="#262626" >1</text>
<text x="531.55" y="185.50" font-family="Liberation Serif" font-size="20.5" text-anchor="middle" fill="#262626" textLength="71.00" lengthAdjust="spacingAndGlyphs" >time (s)</text>
<g transform="translate(268.40 160.40) rotate(-90)">
<text x="0.00" y="0.00" font-family="Liberation Serif" font-size="20.5" text-anchor="start" fill="#262626" textLength="75.50" lengthAdjust="spacingAndGlyphs" >activity,</text>
<text x="83.50" y="0.00" font-family="Liberation Serif" font-size="20.5" text-anchor="start" fill="#262626" font-style="italic" textLength="14.80" lengthAdjust="spacingAndGlyphs" >E</text>
<text x="99.50" y="0.00" font-family="Liberation Serif" font-size="20.5" text-anchor="start" fill="#262626" >(</text>
<text x="107.20" y="0.00" font-family="Liberation Serif" font-size="20.5" text-anchor="start" fill="#262626" font-style="italic" >t</text>
<text x="114.50" y="0.00" font-family="Liberation Serif" font-size="20.5" text-anchor="start" fill="#262626" >)</text>
</g>
<text x="531.50" y="47.30" font-family="Liberation Sans" font-size="21" text-anchor="middle" fill="#000" textLength="78.00" lengthAdjust="spacingAndGlyphs" >baseline</text>
<clipPath id="cl844"><rect x="844.6" y="56.9" width="449.69999999999993" height="83.29999999999998"/></clipPath>
<path d="M844.60,92.81 L844.74,97.11 L844.88,101.18 L845.02,105.01 L845.16,108.60 L845.30,111.92 L845.44,114.98 L845.58,117.78 L845.72,120.32 L845.86,122.61 L846.01,124.64 L846.15,126.42 L846.29,127.97 L846.43,129.30 L846.57,130.41 L846.71,131.33 L846.85,132.07 L846.99,132.64 L847.13,133.07 L847.27,133.37 L847.41,133.57 L847.55,133.68 L847.69,133.73 L847.83,133.74 L847.97,133.74 L848.11,133.74 L848.25,133.71 L848.39,133.62 L848.53,133.46 L848.68,133.20 L848.82,132.83 L848.96,132.32 L849.10,131.65 L849.24,130.81 L849.38,129.77 L849.52,128.53 L849.66,127.07 L849.80,125.38 L849.94,123.45 L850.08,121.26 L850.22,118.82 L850.36,116.12 L850.50,113.15 L850.64,109.92 L850.78,106.43 L850.92,102.69 L851.06,98.70 L851.20,94.47 L851.35,90.03 L851.49,85.40 L851.63,80.63 L851.77,75.87 L851.91,71.73 L852.05,71.11 L852.19,74.83 L852.33,79.52 L852.47,84.29 L852.61,88.95 L852.75,93.43 L852.89,97.70 L853.03,101.74 L853.17,105.54 L853.31,109.09 L853.45,112.38 L853.59,115.41 L853.73,118.18 L853.88,120.68 L854.02,122.93 L854.16,124.92 L854.30,126.68 L854.44,128.19 L854.58,129.49 L854.72,130.57 L854.86,131.46 L855.00,132.17 L855.14,132.72 L855.28,133.13 L855.42,133.41 L855.56,133.59 L855.70,133.69 L855.84,133.74 L855.98,133.74 L856.12,133.74 L856.26,133.74 L856.40,133.69 L856.55,133.60 L856.69,133.42 L856.83,133.14 L856.97,132.73 L857.11,132.19 L857.25,131.48 L857.39,130.59 L857.53,129.50 L857.67,128.21 L857.81,126.68 L857.95,124.92 L858.09,122.91 L858.23,120.65 L858.37,118.12 L858.51,115.32 L858.65,112.26 L858.79,108.93 L858.93,105.34 L859.07,101.48 L859.22,97.38 L859.36,93.03 L859.50,88.47 L859.64,83.72 L859.78,78.85 L859.92,74.05 L860.06,70.22 L860.20,70.69 L860.34,74.88 L860.48,79.74 L860.62,84.61 L860.76,89.34 L860.90,93.87 L861.04,98.17 L861.18,102.24 L861.32,106.05 L861.46,109.60 L861.60,112.88 L861.74,115.89 L861.89,118.63 L862.03,121.10 L862.17,123.32 L862.31,125.28 L862.45,126.99 L862.59,128.47 L862.73,129.72 L862.87,130.77 L863.01,131.62 L863.15,132.29 L863.29,132.81 L863.43,133.19 L863.57,133.45 L863.71,133.62 L863.85,133.70 L863.99,133.74 L864.13,133.74 L864.27,133.74 L864.41,133.73 L864.56,133.68 L864.70,133.57 L864.84,133.38 L864.98,133.08 L865.12,132.67 L865.26,132.10 L865.40,131.38 L865.54,130.48 L865.68,129.39 L865.82,128.09 L865.96,126.58 L866.10,124.83 L866.24,122.84 L866.38,120.61 L866.52,118.13 L866.66,115.39 L866.80,112.41 L866.94,109.17 L867.09,105.68 L867.23,101.95 L867.37,97.99 L867.51,93.81 L867.65,89.43 L867.79,84.90 L867.93,80.27 L868.07,75.78 L868.21,72.56 L868.35,73.98 L868.49,78.22 L868.63,82.90 L868.77,87.54 L868.91,92.03 L869.05,96.33 L869.19,100.42 L869.33,104.26 L869.47,107.87 L869.61,111.22 L869.76,114.31 L869.90,117.14 L870.04,119.72 L870.18,122.05 L870.32,124.12 L870.46,125.95 L870.60,127.55 L870.74,128.93 L870.88,130.09 L871.02,131.06 L871.16,131.84 L871.30,132.46 L871.44,132.93 L871.58,133.27 L871.72,133.50 L871.86,133.64 L872.00,133.72 L872.14,133.74 L872.28,133.74 L872.43,133.74 L872.57,133.73 L872.71,133.67 L872.85,133.55 L872.99,133.35 L873.13,133.05 L873.27,132.62 L873.41,132.06 L873.55,131.33 L873.69,130.44 L873.83,129.36 L873.97,128.07 L874.11,126.58 L874.25,124.86 L874.39,122.91 L874.53,120.73 L874.67,118.30 L874.81,115.63 L874.95,112.72 L875.10,109.57 L875.24,106.18 L875.38,102.56 L875.52,98.72 L875.66,94.67 L875.80,90.45 L875.94,86.07 L876.08,81.63 L876.22,77.28 L876.36,74.64 L876.50,76.72 L876.64,80.86 L876.78,85.28 L876.92,89.67 L877.06,93.92 L877.20,97.99 L877.34,101.86 L877.48,105.52 L877.62,108.95 L877.77,112.15 L877.91,115.11 L878.05,117.83 L878.19,120.30 L878.33,122.53 L878.47,124.53 L878.61,126.29 L878.75,127.83 L878.89,129.15 L879.03,130.27 L879.17,131.20 L879.31,131.95 L879.45,132.54 L879.59,132.99 L879.73,133.31 L879.87,133.53 L880.01,133.66 L880.15,133.72 L880.29,133.74 L880.44,133.74 L880.58,133.74 L880.72,133.72 L880.86,133.65 L881.00,133.51 L881.14,133.29 L881.28,132.95 L881.42,132.48 L881.56,131.86 L881.70,131.06 L881.84,130.09 L881.98,128.90 L882.12,127.50 L882.26,125.87 L882.40,123.99 L882.54,121.87 L882.68,119.48 L882.82,116.82 L882.97,113.89 L883.11,110.70 L883.25,107.23 L883.39,103.49 L883.53,99.49 L883.67,95.25 L883.81,90.76 L883.95,86.07 L884.09,81.21 L884.23,76.31 L884.37,71.79 L884.51,69.80 L884.65,72.84 L884.79,77.49 L884.93,82.33 L885.07,87.09 L885.21,91.68 L885.35,96.07 L885.49,100.23 L885.64,104.14 L885.78,107.81 L885.92,111.21 L886.06,114.35 L886.20,117.23 L886.34,119.84 L886.48,122.19 L886.62,124.28 L886.76,126.13 L886.90,127.73 L887.04,129.10 L887.18,130.25 L887.32,131.21 L887.46,131.97 L887.60,132.57 L887.74,133.02 L887.88,133.34 L888.02,133.55 L888.16,133.67 L888.31,133.73 L888.45,133.74 L888.59,133.74 L888.73,133.74 L888.87,133.71 L889.01,133.63 L889.15,133.47 L889.29,133.21 L889.43,132.83 L889.57,132.31 L889.71,131.63 L889.85,130.78 L889.99,129.72 L890.13,128.45 L890.27,126.96 L890.41,125.22 L890.55,123.23 L890.69,120.99 L890.83,118.47 L890.98,115.68 L891.12,112.62 L891.26,109.29 L891.40,105.68 L891.54,101.80 L891.68,97.66 L891.82,93.27 L891.96,88.66 L892.10,83.84 L892.24,78.87 L892.38,73.93 L892.52,69.55 L892.66,68.55 L892.80,72.29 L892.94,77.17 L893.08,82.16 L893.22,87.03 L893.36,91.71 L893.50,96.17 L893.65,100.39 L893.79,104.36 L893.93,108.06 L894.07,111.48 L894.21,114.64 L894.35,117.52 L894.49,120.13 L894.63,122.47 L894.77,124.54 L894.91,126.37 L895.05,127.95 L895.19,129.29 L895.33,130.42 L895.47,131.35 L895.61,132.09 L895.75,132.66 L895.89,133.09 L896.03,133.39 L896.17,133.58 L896.32,133.69 L896.46,133.73 L896.60,133.74 L896.74,133.74 L896.88,133.74 L897.02,133.70 L897.16,133.60 L897.30,133.43 L897.44,133.15 L897.58,132.75 L897.72,132.21 L897.86,131.50 L898.00,130.62 L898.14,129.54 L898.28,128.25 L898.42,126.73 L898.56,124.97 L898.70,122.97 L898.85,120.71 L898.99,118.19 L899.13,115.41 L899.27,112.36 L899.41,109.05 L899.55,105.47 L899.69,101.64 L899.83,97.56 L899.97,93.25 L900.11,88.72 L900.25,84.01 L900.39,79.18 L900.53,74.37 L900.67,70.37 L900.81,70.41 L900.95,74.45 L901.09,79.27 L901.23,84.12 L901.37,88.85 L901.52,93.39 L901.66,97.71 L901.80,101.79 L901.94,105.62 L902.08,109.19 L902.22,112.50 L902.36,115.54 L902.50,118.31 L902.64,120.82 L902.78,123.07 L902.92,125.06 L903.06,126.80 L903.20,128.31 L903.34,129.59 L903.48,130.66 L903.62,131.54 L903.76,132.23 L903.90,132.77 L904.04,133.16 L904.19,133.43 L904.33,133.61 L904.47,133.70 L904.61,133.74 L904.75,133.74 L904.89,133.74 L905.03,133.73 L905.17,133.69 L905.31,133.58 L905.45,133.39 L905.59,133.09 L905.73,132.67 L905.87,132.11 L906.01,131.38 L906.15,130.47 L906.29,129.36 L906.43,128.04 L906.57,126.50 L906.71,124.71 L906.86,122.68 L907.00,120.39 L907.14,117.85 L907.28,115.04 L907.42,111.96 L907.56,108.62 L907.70,105.02 L907.84,101.17 L907.98,97.07 L908.12,92.73 L908.26,88.19 L908.40,83.47 L908.54,78.65 L908.68,73.93 L908.82,70.36 L908.96,71.43 L909.10,75.72 L909.24,80.54 L909.38,85.34 L909.53,90.01 L909.67,94.48 L909.81,98.72 L909.95,102.73 L910.09,106.49 L910.23,109.99 L910.37,113.23 L910.51,116.20 L910.65,118.90 L910.79,121.34 L910.93,123.53 L911.07,125.46 L911.21,127.14 L911.35,128.60 L911.49,129.83 L911.63,130.86 L911.77,131.69 L911.91,132.35 L912.06,132.86 L912.20,133.22 L912.34,133.47 L912.48,133.63 L912.62,133.71 L912.76,133.74 L912.90,133.74 L913.04,133.74 L913.18,133.73 L913.32,133.67 L913.46,133.55 L913.60,133.34 L913.74,133.03 L913.88,132.59 L914.02,132.00 L914.16,131.25 L914.30,130.31 L914.44,129.17 L914.58,127.82 L914.73,126.24 L914.87,124.43 L915.01,122.36 L915.15,120.05 L915.29,117.47 L915.43,114.64 L915.57,111.54 L915.71,108.18 L915.85,104.56 L915.99,100.69 L916.13,96.58 L916.27,92.25 L916.41,87.71 L916.55,83.00 L916.69,78.22 L916.83,73.62 L916.97,70.64 L917.11,72.64 L917.25,77.09 L917.40,81.89 L917.54,86.63 L917.68,91.23 L917.82,95.62 L917.96,99.79 L918.10,103.72 L918.24,107.40 L918.38,110.82 L918.52,113.98 L918.66,116.87 L918.80,119.51 L918.94,121.88 L919.08,123.99 L919.22,125.86 L919.36,127.49 L919.50,128.89 L919.64,130.07 L919.78,131.05 L919.92,131.85 L920.07,132.47 L920.21,132.94 L920.35,133.28 L920.49,133.51 L920.63,133.65 L920.77,133.72 L920.91,133.74 L921.05,133.74 L921.19,133.74 L921.33,133.72 L921.47,133.66 L921.61,133.52 L921.75,133.30 L921.89,132.97 L922.03,132.50 L922.17,131.89 L922.31,131.11 L922.45,130.15 L922.59,128.98 L922.74,127.60 L922.88,126.00 L923.02,124.15 L923.16,122.06 L923.30,119.72 L923.44,117.13 L923.58,114.27 L923.72,111.15 L923.86,107.77 L924.00,104.14 L924.14,100.27 L924.28,96.15 L924.42,91.82 L924.56,87.29 L924.70,82.61 L924.84,77.87 L924.98,73.43 L925.12,71.21 L925.26,73.97 L925.41,78.51 L925.55,83.27 L925.69,87.94 L925.83,92.46 L925.97,96.77 L926.11,100.85 L926.25,104.70 L926.39,108.30 L926.53,111.64 L926.67,114.72 L926.81,117.54 L926.95,120.10 L927.09,122.40 L927.23,124.45 L927.37,126.25 L927.51,127.82 L927.65,129.17 L927.79,130.30 L927.94,131.24 L928.08,131.99 L928.22,132.58 L928.36,133.02 L928.50,133.34 L928.64,133.55 L928.78,133.67 L928.92,133.73 L929.06,133.74 L929.20,133.74 L929.34,133.74 L929.48,133.71 L929.62,133.64 L929.76,133.49 L929.90,133.25 L930.04,132.90 L930.18,132.41 L930.32,131.78 L930.46,130.97 L930.61,129.98 L930.75,128.79 L930.89,127.38 L931.03,125.75 L931.17,123.88 L931.31,121.76 L931.45,119.40 L931.59,116.78 L931.73,113.90 L931.87,110.76 L932.01,107.37 L932.15,103.73 L932.29,99.85 L932.43,95.73 L932.57,91.40 L932.71,86.88 L932.85,82.23 L932.99,77.55 L933.13,73.32 L933.28,72.00 L933.42,75.33 L933.56,79.92 L933.70,84.62 L933.84,89.23 L933.98,93.66 L934.12,97.89 L934.26,101.90 L934.40,105.66 L934.54,109.18 L934.68,112.44 L934.82,115.44 L934.96,118.19 L935.10,120.68 L935.24,122.91 L935.38,124.89 L935.52,126.64 L935.66,128.15 L935.80,129.44 L935.95,130.53 L936.09,131.42 L936.23,132.13 L936.37,132.68 L936.51,133.10 L936.65,133.39 L936.79,133.58 L936.93,133.68 L937.07,133.73 L937.21,133.74 L937.35,133.74 L937.49,133.74 L937.63,133.70 L937.77,133.62 L937.91,133.46 L938.05,133.20 L938.19,132.83 L938.33,132.33 L938.47,131.67 L938.62,130.84 L938.76,129.82 L938.90,128.61 L939.04,127.18 L939.18,125.52 L939.32,123.63 L939.46,121.50 L939.60,119.12 L939.74,116.49 L939.88,113.60 L940.02,110.46 L940.16,107.07 L940.30,103.43 L940.44,99.56 L940.58,95.46 L940.72,91.15 L940.86,86.67 L941.00,82.06 L941.14,77.48 L941.29,73.55 L941.43,73.22 L941.57,76.95 L941.71,81.54 L941.85,86.17 L941.99,90.69 L942.13,95.03 L942.27,99.16 L942.41,103.07 L942.55,106.73 L942.69,110.15 L942.83,113.32 L942.97,116.23 L943.11,118.89 L943.25,121.30 L943.39,123.45 L943.53,125.36 L943.67,127.04 L943.82,128.48 L943.96,129.72 L944.10,130.75 L944.24,131.59 L944.38,132.27 L944.52,132.79 L944.66,133.17 L944.80,133.43 L944.94,133.60 L945.08,133.70 L945.22,133.74 L945.36,133.74 L945.50,133.74 L945.64,133.74 L945.78,133.69 L945.92,133.60 L946.06,133.42 L946.20,133.15 L946.34,132.76 L946.49,132.24 L946.63,131.56 L946.77,130.71 L946.91,129.67 L947.05,128.44 L947.19,126.99 L947.33,125.31 L947.47,123.41 L947.61,121.26 L947.75,118.87 L947.89,116.23 L948.03,113.34 L948.17,110.20 L948.31,106.81 L948.45,103.18 L948.59,99.33 L948.73,95.25 L948.87,90.97 L949.01,86.53 L949.16,81.97 L949.30,77.50 L949.44,73.97 L949.58,74.63 L949.72,78.61 L949.86,83.16 L950.00,87.71 L950.14,92.14 L950.28,96.38 L950.42,100.41 L950.56,104.21 L950.70,107.78 L950.84,111.10 L950.98,114.18 L951.12,117.00 L951.26,119.57 L951.40,121.89 L951.54,123.97 L951.68,125.81 L951.83,127.42 L951.97,128.80 L952.11,129.98 L952.25,130.96 L952.39,131.76 L952.53,132.39 L952.67,132.88 L952.81,133.23 L952.95,133.48 L953.09,133.63 L953.23,133.71 L953.37,133.74 L953.51,133.74 L953.65,133.74 L953.79,133.73 L953.93,133.68 L954.07,133.57 L954.21,133.39 L954.35,133.10 L954.50,132.69 L954.64,132.15 L954.78,131.45 L954.92,130.58 L955.06,129.52 L955.20,128.27 L955.34,126.80 L955.48,125.11 L955.62,123.19 L955.76,121.03 L955.90,118.63 L956.04,115.98 L956.18,113.09 L956.32,109.95 L956.46,106.57 L956.60,102.95 L956.74,99.11 L956.88,95.06 L957.02,90.81 L957.17,86.39 L957.31,81.88 L957.45,77.52 L957.59,74.49 L957.73,76.05 L957.87,80.16 L958.01,84.66 L958.15,89.12 L958.29,93.44 L958.43,97.58 L958.57,101.51 L958.71,105.22 L958.85,108.70 L958.99,111.93 L959.13,114.92 L959.27,117.66 L959.41,120.16 L959.55,122.41 L959.70,124.42 L959.84,126.19 L959.98,127.74 L960.12,129.08 L960.26,130.21 L960.40,131.14 L960.54,131.91 L960.68,132.50 L960.82,132.96 L960.96,133.29 L961.10,133.51 L961.24,133.65 L961.38,133.72 L961.52,133.74 L961.66,133.74 L961.80,133.74 L961.94,133.73 L962.08,133.67 L962.22,133.55 L962.37,133.34 L962.51,133.03 L962.65,132.60 L962.79,132.03 L962.93,131.31 L963.07,130.40 L963.21,129.31 L963.35,128.02 L963.49,126.51 L963.63,124.78 L963.77,122.81 L963.91,120.60 L964.05,118.15 L964.19,115.45 L964.33,112.51 L964.47,109.31 L964.61,105.87 L964.75,102.20 L964.89,98.30 L965.04,94.19 L965.18,89.89 L965.32,85.43 L965.46,80.91 L965.60,76.63 L965.74,74.23 L965.88,76.59 L966.02,80.86 L966.16,85.37 L966.30,89.82 L966.44,94.13 L966.58,98.24 L966.72,102.14 L966.86,105.82 L967.00,109.26 L967.14,112.45 L967.28,115.40 L967.42,118.11 L967.56,120.56 L967.71,122.77 L967.85,124.74 L967.99,126.48 L968.13,127.99 L968.27,129.29 L968.41,130.39 L968.55,131.29 L968.69,132.02 L968.83,132.60 L968.97,133.03 L969.11,133.34 L969.25,133.54 L969.39,133.67 L969.53,133.73 L969.67,133.74 L969.81,133.74 L969.95,133.74 L970.09,133.72 L970.23,133.65 L970.38,133.51 L970.52,133.29 L970.66,132.96 L970.80,132.51 L970.94,131.91 L971.08,131.15 L971.22,130.21 L971.36,129.08 L971.50,127.74 L971.64,126.19 L971.78,124.40 L971.92,122.39 L972.06,120.13 L972.20,117.63 L972.34,114.88 L972.48,111.87 L972.62,108.63 L972.76,105.14 L972.91,101.41 L973.05,97.46 L973.19,93.30 L973.33,88.95 L973.47,84.47 L973.61,79.95 L973.75,75.80 L973.89,74.18 L974.03,77.18 L974.17,81.56 L974.31,86.09 L974.45,90.53 L974.59,94.81 L974.73,98.89 L974.87,102.76 L975.01,106.41 L975.15,109.81 L975.29,112.97 L975.43,115.88 L975.58,118.54 L975.72,120.96 L975.86,123.13 L976.00,125.06 L976.14,126.76 L976.28,128.24 L976.42,129.50 L976.56,130.56 L976.70,131.44 L976.84,132.14 L976.98,132.68 L977.12,133.09 L977.26,133.38 L977.40,133.57 L977.54,133.68 L977.68,133.73 L977.82,133.74 L977.96,133.74 L978.10,133.74 L978.25,133.71 L978.39,133.63 L978.53,133.48 L978.67,133.24 L978.81,132.88 L978.95,132.40 L979.09,131.77 L979.23,130.98 L979.37,130.00 L979.51,128.83 L979.65,127.45 L979.79,125.84 L979.93,124.01 L980.07,121.93 L980.21,119.61 L980.35,117.03 L980.49,114.21 L980.63,111.13 L980.77,107.80 L980.92,104.22 L981.06,100.40 L981.20,96.35 L981.34,92.09 L981.48,87.65 L981.62,83.07 L981.76,78.48 L981.90,74.46 L982.04,73.71 L982.18,77.21 L982.32,81.68 L982.46,86.24 L982.60,90.70 L982.74,94.98 L982.88,99.07 L983.02,102.95 L983.16,106.59 L983.30,110.00 L983.44,113.15 L983.59,116.06 L983.73,118.72 L983.87,121.13 L984.01,123.30 L984.15,125.22 L984.29,126.91 L984.43,128.37 L984.57,129.62 L984.71,130.67 L984.85,131.53 L984.99,132.21 L985.13,132.75 L985.27,133.14 L985.41,133.42 L985.55,133.59 L985.69,133.69 L985.83,133.74 L985.97,133.74 L986.11,133.74 L986.26,133.74 L986.40,133.70 L986.54,133.60 L986.68,133.43 L986.82,133.16 L986.96,132.77 L987.10,132.25 L987.24,131.57 L987.38,130.71 L987.52,129.66 L987.66,128.41 L987.80,126.93 L987.94,125.23 L988.08,123.28 L988.22,121.08 L988.36,118.63 L988.50,115.92 L988.64,112.94 L988.79,109.70 L988.93,106.21 L989.07,102.45 L989.21,98.46 L989.35,94.22 L989.49,89.78 L989.63,85.14 L989.77,80.38 L989.91,75.68 L990.05,71.82 L990.19,72.07 L990.33,76.05 L990.47,80.73 L990.61,85.44 L990.75,90.02 L990.89,94.42 L991.03,98.62 L991.17,102.59 L991.31,106.31 L991.46,109.79 L991.60,113.01 L991.74,115.98 L991.88,118.68 L992.02,121.13 L992.16,123.32 L992.30,125.26 L992.44,126.97 L992.58,128.44 L992.72,129.69 L992.86,130.74 L993.00,131.59 L993.14,132.28 L993.28,132.80 L993.42,133.18 L993.56,133.45 L993.70,133.61 L993.84,133.70 L993.98,133.74 L994.13,133.74 L994.27,133.74 L994.41,133.73 L994.55,133.68 L994.69,133.57 L994.83,133.38 L994.97,133.08 L995.11,132.66 L995.25,132.09 L995.39,131.35 L995.53,130.44 L995.67,129.32 L995.81,127.99 L995.95,126.44 L996.09,124.64 L996.23,122.60 L996.37,120.30 L996.51,117.74 L996.65,114.92 L996.80,111.82 L996.94,108.46 L997.08,104.84 L997.22,100.96 L997.36,96.83 L997.50,92.47 L997.64,87.90 L997.78,83.15 L997.92,78.29 L998.06,73.55 L998.20,70.08 L998.34,71.38 L998.48,75.72 L998.62,80.55 L998.76,85.35 L998.90,90.01 L999.04,94.47 L999.18,98.72 L999.32,102.73 L999.47,106.49 L999.61,109.99 L999.75,113.23 L999.89,116.20 L1000.03,118.91 L1000.17,121.35 L1000.31,123.54 L1000.45,125.47 L1000.59,127.16 L1000.73,128.61 L1000.87,129.85 L1001.01,130.87 L1001.15,131.71 L1001.29,132.36 L1001.43,132.87 L1001.57,133.23 L1001.71,133.48 L1001.85,133.63 L1002.00,133.71 L1002.14,133.74 L1002.28,133.74 L1002.42,133.74 L1002.56,133.73 L1002.70,133.67 L1002.84,133.54 L1002.98,133.33 L1003.12,133.00 L1003.26,132.55 L1003.40,131.94 L1003.54,131.16 L1003.68,130.20 L1003.82,129.03 L1003.96,127.64 L1004.10,126.01 L1004.24,124.15 L1004.38,122.03 L1004.52,119.65 L1004.67,117.00 L1004.81,114.09 L1004.95,110.90 L1005.09,107.44 L1005.23,103.72 L1005.37,99.74 L1005.51,95.51 L1005.65,91.04 L1005.79,86.37 L1005.93,81.52 L1006.07,76.59 L1006.21,71.88 L1006.35,68.97 L1006.49,71.22 L1006.63,75.80 L1006.77,80.71 L1006.91,85.56 L1007.05,90.25 L1007.19,94.74 L1007.34,99.00 L1007.48,103.02 L1007.62,106.78 L1007.76,110.29 L1007.90,113.52 L1008.04,116.48 L1008.18,119.18 L1008.32,121.61 L1008.46,123.78 L1008.60,125.69 L1008.74,127.36 L1008.88,128.79 L1009.02,130.00 L1009.16,131.00 L1009.30,131.81 L1009.44,132.45 L1009.58,132.93 L1009.72,133.28 L1009.86,133.51 L1010.01,133.65 L1010.15,133.72 L1010.29,133.74 L1010.43,133.74 L1010.57,133.74 L1010.71,133.72 L1010.85,133.65 L1010.99,133.50 L1011.13,133.27 L1011.27,132.92 L1011.41,132.43 L1011.55,131.78 L1011.69,130.96 L1011.83,129.94 L1011.97,128.71 L1012.11,127.26 L1012.25,125.57 L1012.39,123.63 L1012.53,121.44 L1012.68,118.97 L1012.82,116.24 L1012.96,113.23 L1013.10,109.95 L1013.24,106.39 L1013.38,102.57 L1013.52,98.48 L1013.66,94.15 L1013.80,89.58 L1013.94,84.80 L1014.08,79.86 L1014.22,74.87 L1014.36,70.23 L1014.50,68.09 L1014.64,71.14 L1014.78,75.92 L1014.92,80.89 L1015.06,85.79 L1015.20,90.51 L1015.35,95.02 L1015.49,99.30 L1015.63,103.32 L1015.77,107.09 L1015.91,110.59 L1016.05,113.82 L1016.19,116.78 L1016.33,119.46 L1016.47,121.87 L1016.61,124.02 L1016.75,125.91 L1016.89,127.56 L1017.03,128.97 L1017.17,130.15 L1017.31,131.13 L1017.45,131.92 L1017.59,132.54 L1017.73,133.00 L1017.88,133.33 L1018.02,133.54 L1018.16,133.67 L1018.30,133.73 L1018.44,133.74 L1018.58,133.74 L1018.72,133.74 L1018.86,133.71 L1019.00,133.63 L1019.14,133.46 L1019.28,133.21 L1019.42,132.82 L1019.56,132.30 L1019.70,131.61 L1019.84,130.75 L1019.98,129.68 L1020.12,128.40 L1020.26,126.88 L1020.40,125.13 L1020.55,123.12 L1020.69,120.84 L1020.83,118.30 L1020.97,115.48 L1021.11,112.38 L1021.25,109.01 L1021.39,105.36 L1021.53,101.44 L1021.67,97.26 L1021.81,92.83 L1021.95,88.17 L1022.09,83.30 L1022.23,78.28 L1022.37,73.25 L1022.51,68.75 L1022.65,67.57 L1022.79,71.26 L1022.93,76.18 L1023.07,81.21 L1023.22,86.13 L1023.36,90.88 L1023.50,95.40 L1023.64,99.68 L1023.78,103.71 L1023.92,107.47 L1024.06,110.96 L1024.20,114.17 L1024.34,117.11 L1024.48,119.77 L1024.62,122.16 L1024.76,124.28 L1024.90,126.15 L1025.04,127.77 L1025.18,129.15 L1025.32,130.31 L1025.46,131.27 L1025.60,132.03 L1025.74,132.62 L1025.89,133.06 L1026.03,133.37 L1026.17,133.57 L1026.31,133.68 L1026.45,133.73 L1026.59,133.74 L1026.73,133.74 L1026.87,133.74 L1027.01,133.70 L1027.15,133.60 L1027.29,133.42 L1027.43,133.14 L1027.57,132.73 L1027.71,132.17 L1027.85,131.44 L1027.99,130.53 L1028.13,129.41 L1028.27,128.07 L1028.41,126.49 L1028.56,124.67 L1028.70,122.59 L1028.84,120.24 L1028.98,117.61 L1029.12,114.71 L1029.26,111.53 L1029.40,108.06 L1029.54,104.32 L1029.68,100.31 L1029.82,96.03 L1029.96,91.51 L1030.10,86.75 L1030.24,81.79 L1030.38,76.70 L1030.52,71.64 L1030.66,67.38 L1030.80,67.27 L1030.94,71.45 L1031.08,76.48 L1031.23,81.55 L1031.37,86.50 L1031.51,91.26 L1031.65,95.79 L1031.79,100.07 L1031.93,104.09 L1032.07,107.85 L1032.21,111.32 L1032.35,114.52 L1032.49,117.44 L1032.63,120.08 L1032.77,122.45 L1032.91,124.55 L1033.05,126.39 L1033.19,127.98 L1033.33,129.34 L1033.47,130.47 L1033.61,131.40 L1033.76,132.13 L1033.90,132.70 L1034.04,133.12 L1034.18,133.41 L1034.32,133.59 L1034.46,133.70 L1034.60,133.74 L1034.74,133.74 L1034.88,133.74 L1035.02,133.73 L1035.16,133.68 L1035.30,133.57 L1035.44,133.37 L1035.58,133.06 L1035.72,132.62 L1035.86,132.03 L1036.00,131.26 L1036.14,130.30 L1036.28,129.12 L1036.43,127.73 L1036.57,126.09 L1036.71,124.20 L1036.85,122.04 L1036.99,119.61 L1037.13,116.91 L1037.27,113.92 L1037.41,110.65 L1037.55,107.09 L1037.69,103.26 L1037.83,99.15 L1037.97,94.78 L1038.11,90.16 L1038.25,85.32 L1038.39,80.29 L1038.53,75.14 L1038.67,70.09 L1038.81,66.22 L1038.95,67.22 L1039.10,71.76 L1039.24,76.89 L1039.38,82.01 L1039.52,86.98 L1039.66,91.74 L1039.80,96.28 L1039.94,100.56 L1040.08,104.57 L1040.22,108.31 L1040.36,111.76 L1040.50,114.94 L1040.64,117.83 L1040.78,120.44 L1040.92,122.78 L1041.06,124.85 L1041.20,126.65 L1041.34,128.21 L1041.48,129.53 L1041.62,130.64 L1041.77,131.53 L1041.91,132.24 L1042.05,132.78 L1042.19,133.18 L1042.33,133.45 L1042.47,133.62 L1042.61,133.71 L1042.75,133.74 L1042.89,133.74 L1043.03,133.74 L1043.17,133.73 L1043.31,133.67 L1043.45,133.54 L1043.59,133.32 L1043.73,132.99 L1043.87,132.52 L1044.01,131.89 L1044.15,131.09 L1044.29,130.08 L1044.44,128.87 L1044.58,127.42 L1044.72,125.73 L1044.86,123.79 L1045.00,121.58 L1045.14,119.10 L1045.28,116.34 L1045.42,113.30 L1045.56,109.97 L1045.70,106.36 L1045.84,102.48 L1045.98,98.32 L1046.12,93.90 L1046.26,89.24 L1046.40,84.36 L1046.54,79.29 L1046.68,74.14 L1046.82,69.17 L1046.96,65.87 L1047.11,67.89 L1047.25,72.65 L1047.39,77.80 L1047.53,82.91 L1047.67,87.85 L1047.81,92.57 L1047.95,97.06 L1048.09,101.30 L1048.23,105.26 L1048.37,108.95 L1048.51,112.36 L1048.65,115.48 L1048.79,118.33 L1048.93,120.89 L1049.07,123.18 L1049.21,125.20 L1049.35,126.96 L1049.49,128.47 L1049.64,129.75 L1049.78,130.82 L1049.92,131.68 L1050.06,132.35 L1050.20,132.87 L1050.34,133.24 L1050.48,133.49 L1050.62,133.64 L1050.76,133.72 L1050.90,133.74 L1051.04,133.74 L1051.18,133.74 L1051.32,133.72 L1051.46,133.65 L1051.60,133.51 L1051.74,133.27 L1051.88,132.91 L1052.02,132.41 L1052.16,131.75 L1052.31,130.91 L1052.45,129.87 L1052.59,128.61 L1052.73,127.12 L1052.87,125.39 L1053.01,123.39 L1053.15,121.13 L1053.29,118.60 L1053.43,115.78 L1053.57,112.68 L1053.71,109.30 L1053.85,105.64 L1053.99,101.70 L1054.13,97.49 L1054.27,93.02 L1054.41,88.31 L1054.55,83.39 L1054.69,78.29 L1054.83,73.13 L1054.98,68.28 L1055.12,65.75 L1055.26,68.64 L1055.40,73.56 L1055.54,78.72 L1055.68,83.80 L1055.82,88.71 L1055.96,93.40 L1056.10,97.84 L1056.24,102.03 L1056.38,105.95 L1056.52,109.59 L1056.66,112.95 L1056.80,116.02 L1056.94,118.81 L1057.08,121.33 L1057.22,123.56 L1057.36,125.54 L1057.50,127.25 L1057.65,128.72 L1057.79,129.96 L1057.93,130.99 L1058.07,131.81 L1058.21,132.46 L1058.35,132.95 L1058.49,133.29 L1058.63,133.52 L1058.77,133.66 L1058.91,133.72 L1059.05,133.74 L1059.19,133.74 L1059.33,133.74 L1059.47,133.71 L1059.61,133.63 L1059.75,133.47 L1059.89,133.21 L1060.03,132.83 L1060.17,132.30 L1060.32,131.61 L1060.46,130.73 L1060.60,129.65 L1060.74,128.35 L1060.88,126.81 L1061.02,125.03 L1061.16,122.98 L1061.30,120.67 L1061.44,118.08 L1061.58,115.21 L1061.72,112.06 L1061.86,108.62 L1062.00,104.90 L1062.14,100.91 L1062.28,96.65 L1062.42,92.13 L1062.56,87.38 L1062.70,82.41 L1062.85,77.29 L1062.99,72.14 L1063.13,67.45 L1063.27,65.87 L1063.41,69.45 L1063.55,74.47 L1063.69,79.63 L1063.83,84.69 L1063.97,89.56 L1064.11,94.21 L1064.25,98.61 L1064.39,102.76 L1064.53,106.63 L1064.67,110.22 L1064.81,113.52 L1064.95,116.55 L1065.09,119.29 L1065.23,121.75 L1065.37,123.94 L1065.52,125.87 L1065.66,127.54 L1065.80,128.97 L1065.94,130.17 L1066.08,131.15 L1066.22,131.95 L1066.36,132.56 L1066.50,133.02 L1066.64,133.34 L1066.78,133.55 L1066.92,133.68 L1067.06,133.73 L1067.20,133.74 L1067.34,133.74 L1067.48,133.74 L1067.62,133.70 L1067.76,133.61 L1067.90,133.43 L1068.04,133.15 L1068.19,132.74 L1068.33,132.19 L1068.47,131.46 L1068.61,130.54 L1068.75,129.42 L1068.89,128.08 L1069.03,126.49 L1069.17,124.66 L1069.31,122.57 L1069.45,120.20 L1069.59,117.56 L1069.73,114.63 L1069.87,111.42 L1070.01,107.93 L1070.15,104.15 L1070.29,100.10 L1070.43,95.78 L1070.57,91.21 L1070.71,86.41 L1070.86,81.40 L1071.00,76.25 L1071.14,71.11 L1071.28,66.68 L1071.42,66.16 L1071.56,70.25 L1071.70,75.34 L1071.84,80.50 L1071.98,85.53 L1072.12,90.37 L1072.26,94.98 L1072.40,99.34 L1072.54,103.44 L1072.68,107.26 L1072.82,110.81 L1072.96,114.07 L1073.10,117.04 L1073.24,119.74 L1073.38,122.16 L1073.53,124.30 L1073.67,126.18 L1073.81,127.81 L1073.95,129.20 L1074.09,130.36 L1074.23,131.31 L1074.37,132.07 L1074.51,132.66 L1074.65,133.09 L1074.79,133.39 L1074.93,133.58 L1075.07,133.69 L1075.21,133.74 L1075.35,133.74 L1075.49,133.74 L1075.63,133.74 L1075.77,133.69 L1075.91,133.58 L1076.05,133.39 L1076.20,133.08 L1076.34,132.65 L1076.48,132.06 L1076.62,131.30 L1076.76,130.34 L1076.90,129.17 L1077.04,127.78 L1077.18,126.15 L1077.32,124.26 L1077.46,122.10 L1077.60,119.68 L1077.74,116.97 L1077.88,113.98 L1078.02,110.71 L1078.16,107.15 L1078.30,103.31 L1078.44,99.19 L1078.58,94.81 L1078.73,90.18 L1078.87,85.31 L1079.01,80.25 L1079.15,75.07 L1079.29,69.96 L1079.43,65.88 L1079.57,66.47 L1079.71,70.94 L1079.85,76.09 L1079.99,81.25 L1080.13,86.27 L1080.27,91.09 L1080.41,95.67 L1080.55,100.00 L1080.69,104.06 L1080.83,107.85 L1080.97,111.35 L1081.11,114.57 L1081.25,117.51 L1081.40,120.16 L1081.54,122.53 L1081.68,124.64 L1081.82,126.48 L1081.96,128.06 L1082.10,129.41 L1082.24,130.54 L1082.38,131.46 L1082.52,132.19 L1082.66,132.74 L1082.80,133.15 L1082.94,133.43 L1083.08,133.61 L1083.22,133.70 L1083.36,133.74 L1083.50,133.74 L1083.64,133.74 L1083.78,133.73 L1083.92,133.67 L1084.07,133.55 L1084.21,133.34 L1084.35,133.01 L1084.49,132.55 L1084.63,131.94 L1084.77,131.14 L1084.91,130.16 L1085.05,128.96 L1085.19,127.53 L1085.33,125.87 L1085.47,123.95 L1085.61,121.77 L1085.75,119.32 L1085.89,116.59 L1086.03,113.59 L1086.17,110.31 L1086.31,106.75 L1086.45,102.92 L1086.59,98.82 L1086.74,94.47 L1086.88,89.87 L1087.02,85.07 L1087.16,80.08 L1087.30,75.00 L1087.44,70.07 L1087.58,66.60 L1087.72,68.28 L1087.86,72.96 L1088.00,78.08 L1088.14,83.16 L1088.28,88.08 L1088.42,92.79 L1088.56,97.26 L1088.70,101.47 L1088.84,105.41 L1088.98,109.08 L1089.12,112.47 L1089.26,115.58 L1089.41,118.40 L1089.55,120.95 L1089.69,123.22 L1089.83,125.22 L1089.97,126.97 L1090.11,128.48 L1090.25,129.75 L1090.39,130.81 L1090.53,131.67 L1090.67,132.34 L1090.81,132.86 L1090.95,133.23 L1091.09,133.48 L1091.23,133.63 L1091.37,133.71 L1091.51,133.74 L1091.65,133.74 L1091.79,133.74 L1091.93,133.72 L1092.08,133.66 L1092.22,133.53 L1092.36,133.30 L1092.50,132.96 L1092.64,132.49 L1092.78,131.86 L1092.92,131.06 L1093.06,130.07 L1093.20,128.87 L1093.34,127.44 L1093.48,125.79 L1093.62,123.88 L1093.76,121.72 L1093.90,119.30 L1094.04,116.61 L1094.18,113.65 L1094.32,110.42 L1094.46,106.93 L1094.61,103.17 L1094.75,99.16 L1094.89,94.90 L1095.03,90.41 L1095.17,85.72 L1095.31,80.86 L1095.45,75.94 L1095.59,71.27 L1095.73,68.59 L1095.87,71.11 L1096.01,75.80 L1096.15,80.77 L1096.29,85.67 L1096.43,90.40 L1096.57,94.89 L1096.71,99.16 L1096.85,103.18 L1096.99,106.95 L1097.13,110.44 L1097.28,113.67 L1097.42,116.63 L1097.56,119.31 L1097.70,121.73 L1097.84,123.89 L1097.98,125.79 L1098.12,127.44 L1098.26,128.86 L1098.40,130.06 L1098.54,131.05 L1098.68,131.85 L1098.82,132.48 L1098.96,132.96 L1099.10,133.29 L1099.24,133.52 L1099.38,133.66 L1099.52,133.72 L1099.66,133.74 L1099.80,133.74 L1099.95,133.74 L1100.09,133.72 L1100.23,133.64 L1100.37,133.50 L1100.51,133.26 L1100.65,132.90 L1100.79,132.41 L1100.93,131.76 L1101.07,130.94 L1101.21,129.92 L1101.35,128.70 L1101.49,127.25 L1101.63,125.57 L1101.77,123.64 L1101.91,121.46 L1102.05,119.01 L1102.19,116.30 L1102.33,113.32 L1102.47,110.07 L1102.62,106.55 L1102.76,102.77 L1102.90,98.74 L1103.04,94.46 L1103.18,89.95 L1103.32,85.25 L1103.46,80.39 L1103.60,75.49 L1103.74,70.97 L1103.88,69.11 L1104.02,72.30 L1104.16,77.05 L1104.30,81.96 L1104.44,86.78 L1104.58,91.43 L1104.72,95.87 L1104.86,100.08 L1105.00,104.03 L1105.14,107.73 L1105.29,111.16 L1105.43,114.33 L1105.57,117.22 L1105.71,119.84 L1105.85,122.20 L1105.99,124.30 L1106.13,126.15 L1106.27,127.75 L1106.41,129.12 L1106.55,130.28 L1106.69,131.23 L1106.83,131.99 L1106.97,132.59 L1107.11,133.03 L1107.25,133.35 L1107.39,133.55 L1107.53,133.67 L1107.67,133.73 L1107.82,133.74 L1107.96,133.74 L1108.10,133.74 L1108.24,133.71 L1108.38,133.62 L1108.52,133.46 L1108.66,133.20 L1108.80,132.83 L1108.94,132.31 L1109.08,131.63 L1109.22,130.78 L1109.36,129.73 L1109.50,128.47 L1109.64,126.99 L1109.78,125.27 L1109.92,123.30 L1110.06,121.08 L1110.20,118.60 L1110.34,115.85 L1110.49,112.83 L1110.63,109.54 L1110.77,105.99 L1110.91,102.18 L1111.05,98.12 L1111.19,93.81 L1111.33,89.29 L1111.47,84.57 L1111.61,79.71 L1111.75,74.85 L1111.89,70.56 L1112.03,69.69 L1112.17,73.41 L1112.31,78.20 L1112.45,83.09 L1112.59,87.87 L1112.73,92.46 L1112.87,96.83 L1113.01,100.98 L1113.16,104.87 L1113.30,108.50 L1113.44,111.87 L1113.58,114.97 L1113.72,117.80 L1113.86,120.36 L1114.00,122.66 L1114.14,124.70 L1114.28,126.49 L1114.42,128.05 L1114.56,129.37 L1114.70,130.48 L1114.84,131.40 L1114.98,132.12 L1115.12,132.69 L1115.26,133.10 L1115.40,133.40 L1115.54,133.58 L1115.68,133.69 L1115.83,133.74 L1115.97,133.74 L1116.11,133.74 L1116.25,133.74 L1116.39,133.70 L1116.53,133.60 L1116.67,133.43 L1116.81,133.15 L1116.95,132.75 L1117.09,132.21 L1117.23,131.51 L1117.37,130.63 L1117.51,129.56 L1117.65,128.28 L1117.79,126.77 L1117.93,125.03 L1118.07,123.05 L1118.21,120.81 L1118.35,118.32 L1118.50,115.56 L1118.64,112.54 L1118.78,109.26 L1118.92,105.72 L1119.06,101.93 L1119.20,97.90 L1119.34,93.63 L1119.48,89.16 L1119.62,84.50 L1119.76,79.72 L1119.90,75.00 L1120.04,71.11 L1120.18,71.30 L1120.32,75.35 L1120.46,80.13 L1120.60,84.93 L1120.74,89.60 L1120.88,94.08 L1121.02,98.34 L1121.17,102.36 L1121.31,106.14 L1121.45,109.66 L1121.59,112.91 L1121.73,115.91 L1121.87,118.63 L1122.01,121.09 L1122.15,123.30 L1122.29,125.25 L1122.43,126.96 L1122.57,128.44 L1122.71,129.69 L1122.85,130.74 L1122.99,131.60 L1123.13,132.28 L1123.27,132.80 L1123.41,133.18 L1123.55,133.44 L1123.70,133.61 L1123.84,133.70 L1123.98,133.74 L1124.12,133.74 L1124.26,133.74 L1124.40,133.73 L1124.54,133.69 L1124.68,133.58 L1124.82,133.39 L1124.96,133.10 L1125.10,132.69 L1125.24,132.13 L1125.38,131.42 L1125.52,130.53 L1125.66,129.44 L1125.80,128.15 L1125.94,126.64 L1126.08,124.89 L1126.22,122.91 L1126.37,120.68 L1126.51,118.20 L1126.65,115.46 L1126.79,112.47 L1126.93,109.22 L1127.07,105.72 L1127.21,101.97 L1127.35,97.99 L1127.49,93.79 L1127.63,89.38 L1127.77,84.81 L1127.91,80.14 L1128.05,75.53 L1128.19,72.09 L1128.33,73.22 L1128.47,77.40 L1128.61,82.06 L1128.75,86.71 L1128.89,91.22 L1129.04,95.55 L1129.18,99.67 L1129.32,103.56 L1129.46,107.20 L1129.60,110.60 L1129.74,113.75 L1129.88,116.64 L1130.02,119.27 L1130.16,121.65 L1130.30,123.78 L1130.44,125.66 L1130.58,127.30 L1130.72,128.72 L1130.86,129.93 L1131.00,130.93 L1131.14,131.74 L1131.28,132.39 L1131.42,132.88 L1131.56,133.24 L1131.71,133.48 L1131.85,133.63 L1131.99,133.71 L1132.13,133.74 L1132.27,133.74 L1132.41,133.74 L1132.55,133.73 L1132.69,133.67 L1132.83,133.55 L1132.97,133.34 L1133.11,133.03 L1133.25,132.59 L1133.39,132.00 L1133.53,131.24 L1133.67,130.30 L1133.81,129.16 L1133.95,127.81 L1134.09,126.23 L1134.23,124.41 L1134.38,122.34 L1134.52,120.02 L1134.66,117.43 L1134.80,114.58 L1134.94,111.47 L1135.08,108.09 L1135.22,104.44 L1135.36,100.55 L1135.50,96.40 L1135.64,92.03 L1135.78,87.44 L1135.92,82.69 L1136.06,77.85 L1136.20,73.21 L1136.34,70.27 L1136.48,72.35 L1136.62,76.82 L1136.76,81.62 L1136.90,86.37 L1137.05,90.97 L1137.19,95.37 L1137.33,99.55 L1137.47,103.49 L1137.61,107.19 L1137.75,110.63 L1137.89,113.81 L1138.03,116.72 L1138.17,119.37 L1138.31,121.76 L1138.45,123.90 L1138.59,125.78 L1138.73,127.43 L1138.87,128.84 L1139.01,130.04 L1139.15,131.03 L1139.29,131.83 L1139.43,132.46 L1139.58,132.94 L1139.72,133.28 L1139.86,133.51 L1140.00,133.65 L1140.14,133.72 L1140.28,133.74 L1140.42,133.74 L1140.56,133.74 L1140.70,133.72 L1140.84,133.65 L1140.98,133.51 L1141.12,133.28 L1141.26,132.94 L1141.40,132.46 L1141.54,131.82 L1141.68,131.01 L1141.82,130.01 L1141.96,128.81 L1142.10,127.38 L1142.25,125.71 L1142.39,123.80 L1142.53,121.63 L1142.67,119.20 L1142.81,116.50 L1142.95,113.52 L1143.09,110.28 L1143.23,106.76 L1143.37,102.98 L1143.51,98.93 L1143.65,94.64 L1143.79,90.12 L1143.93,85.38 L1144.07,80.48 L1144.21,75.53 L1144.35,70.89 L1144.49,68.66 L1144.63,71.59 L1144.77,76.30 L1144.92,81.22 L1145.06,86.07 L1145.20,90.75 L1145.34,95.22 L1145.48,99.46 L1145.62,103.46 L1145.76,107.20 L1145.90,110.68 L1146.04,113.89 L1146.18,116.84 L1146.32,119.51 L1146.46,121.91 L1146.60,124.05 L1146.74,125.93 L1146.88,127.57 L1147.02,128.98 L1147.16,130.16 L1147.30,131.14 L1147.44,131.92 L1147.59,132.53 L1147.73,133.00 L1147.87,133.32 L1148.01,133.54 L1148.15,133.67 L1148.29,133.73 L1148.43,133.74 L1148.57,133.74 L1148.71,133.74 L1148.85,133.71 L1148.99,133.63 L1149.13,133.47 L1149.27,133.22 L1149.41,132.84 L1149.55,132.33 L1149.69,131.66 L1149.83,130.80 L1149.97,129.75 L1150.11,128.49 L1150.26,127.00 L1150.40,125.27 L1150.54,123.29 L1150.68,121.05 L1150.82,118.55 L1150.96,115.77 L1151.10,112.73 L1151.24,109.40 L1151.38,105.81 L1151.52,101.96 L1151.66,97.84 L1151.80,93.48 L1151.94,88.89 L1152.08,84.10 L1152.22,79.17 L1152.36,74.21 L1152.50,69.76 L1152.64,68.48 L1152.79,72.06 L1152.93,76.91 L1153.07,81.88 L1153.21,86.74 L1153.35,91.42 L1153.49,95.89 L1153.63,100.11 L1153.77,104.09 L1153.91,107.80 L1154.05,111.24 L1154.19,114.42 L1154.33,117.32 L1154.47,119.94 L1154.61,122.30 L1154.75,124.40 L1154.89,126.24 L1155.03,127.84 L1155.17,129.20 L1155.31,130.35 L1155.46,131.29 L1155.60,132.04 L1155.74,132.63 L1155.88,133.06 L1156.02,133.37 L1156.16,133.57 L1156.30,133.68 L1156.44,133.73 L1156.58,133.74 L1156.72,133.74 L1156.86,133.74 L1157.00,133.70 L1157.14,133.61 L1157.28,133.43 L1157.42,133.16 L1157.56,132.76 L1157.70,132.21 L1157.84,131.51 L1157.98,130.61 L1158.13,129.52 L1158.27,128.22 L1158.41,126.68 L1158.55,124.90 L1158.69,122.87 L1158.83,120.58 L1158.97,118.02 L1159.11,115.18 L1159.25,112.08 L1159.39,108.70 L1159.53,105.05 L1159.67,101.13 L1159.81,96.96 L1159.95,92.55 L1160.09,87.91 L1160.23,83.08 L1160.37,78.11 L1160.51,73.17 L1160.65,68.98 L1160.80,68.75 L1160.94,72.79 L1161.08,77.71 L1161.22,82.68 L1161.36,87.52 L1161.50,92.17 L1161.64,96.61 L1161.78,100.80 L1161.92,104.73 L1162.06,108.40 L1162.20,111.80 L1162.34,114.93 L1162.48,117.79 L1162.62,120.37 L1162.76,122.69 L1162.90,124.74 L1163.04,126.54 L1163.18,128.10 L1163.32,129.42 L1163.47,130.53 L1163.61,131.44 L1163.75,132.16 L1163.89,132.72 L1164.03,133.13 L1164.17,133.41 L1164.31,133.60 L1164.45,133.70 L1164.59,133.74 L1164.73,133.74 L1164.87,133.74 L1165.01,133.74 L1165.15,133.69 L1165.29,133.58 L1165.43,133.39 L1165.57,133.09 L1165.71,132.67 L1165.85,132.09 L1165.99,131.35 L1166.14,130.42 L1166.28,129.29 L1166.42,127.94 L1166.56,126.35 L1166.70,124.52 L1166.84,122.44 L1166.98,120.09 L1167.12,117.47 L1167.26,114.58 L1167.40,111.42 L1167.54,107.98 L1167.68,104.27 L1167.82,100.30 L1167.96,96.07 L1168.10,91.61 L1168.24,86.92 L1168.38,82.04 L1168.52,77.08 L1168.67,72.22 L1168.81,68.44 L1168.95,69.32 L1169.09,73.71 L1169.23,78.69 L1169.37,83.66 L1169.51,88.49 L1169.65,93.12 L1169.79,97.52 L1169.93,101.66 L1170.07,105.55 L1170.21,109.17 L1170.35,112.52 L1170.49,115.59 L1170.63,118.39 L1170.77,120.91 L1170.91,123.17 L1171.05,125.16 L1171.19,126.91 L1171.34,128.41 L1171.48,129.68 L1171.62,130.75 L1171.76,131.61 L1171.90,132.29 L1172.04,132.82 L1172.18,133.20 L1172.32,133.46 L1172.46,133.62 L1172.60,133.71 L1172.74,133.74 L1172.88,133.74 L1173.02,133.74 L1173.16,133.73 L1173.30,133.67 L1173.44,133.55 L1173.58,133.35 L1173.72,133.04 L1173.86,132.59 L1174.01,132.00 L1174.15,131.24 L1174.29,130.30 L1174.43,129.15 L1174.57,127.79 L1174.71,126.20 L1174.85,124.37 L1174.99,122.29 L1175.13,119.95 L1175.27,117.36 L1175.41,114.50 L1175.55,111.37 L1175.69,107.99 L1175.83,104.34 L1175.97,100.44 L1176.11,96.30 L1176.25,91.94 L1176.39,87.37 L1176.53,82.63 L1176.68,77.81 L1176.82,73.15 L1176.96,70.01 L1177.10,71.84 L1177.24,76.32 L1177.38,81.17 L1177.52,85.99 L1177.66,90.64 L1177.80,95.10 L1177.94,99.33 L1178.08,103.31 L1178.22,107.04 L1178.36,110.50 L1178.50,113.71 L1178.64,116.64 L1178.78,119.30 L1178.92,121.71 L1179.06,123.85 L1179.20,125.74 L1179.35,127.39 L1179.49,128.81 L1179.63,130.01 L1179.77,131.00 L1179.91,131.81 L1180.05,132.44 L1180.19,132.92 L1180.33,133.27 L1180.47,133.50 L1180.61,133.65 L1180.75,133.72 L1180.89,133.74 L1181.03,133.74 L1181.17,133.74 L1181.31,133.72 L1181.45,133.66 L1181.59,133.53 L1181.73,133.31 L1181.88,132.99 L1182.02,132.53 L1182.16,131.93 L1182.30,131.16 L1182.44,130.22 L1182.58,129.07 L1182.72,127.72 L1182.86,126.15 L1183.00,124.35 L1183.14,122.31 L1183.28,120.03 L1183.42,117.50 L1183.56,114.72 L1183.70,111.69 L1183.84,108.42 L1183.98,104.91 L1184.12,101.16 L1184.26,97.19 L1184.40,93.02 L1184.55,88.66 L1184.69,84.17 L1184.83,79.62 L1184.97,75.35 L1185.11,73.08 L1185.25,75.67 L1185.39,80.11 L1185.53,84.77 L1185.67,89.35 L1185.81,93.77 L1185.95,97.98 L1186.09,101.96 L1186.23,105.70 L1186.37,109.20 L1186.51,112.44 L1186.65,115.43 L1186.79,118.15 L1186.93,120.63 L1187.07,122.85 L1187.22,124.82 L1187.36,126.56 L1187.50,128.07 L1187.64,129.36 L1187.78,130.44 L1187.92,131.34 L1188.06,132.06 L1188.20,132.62 L1188.34,133.05 L1188.48,133.35 L1188.62,133.55 L1188.76,133.67 L1188.90,133.73 L1189.04,133.74 L1189.18,133.74 L1189.32,133.74 L1189.46,133.72 L1189.60,133.65 L1189.74,133.52 L1189.89,133.30 L1190.03,132.98 L1190.17,132.54 L1190.31,131.96 L1190.45,131.23 L1190.59,130.32 L1190.73,129.24 L1190.87,127.96 L1191.01,126.47 L1191.15,124.77 L1191.29,122.84 L1191.43,120.69 L1191.57,118.30 L1191.71,115.67 L1191.85,112.81 L1191.99,109.72 L1192.13,106.40 L1192.27,102.86 L1192.41,99.11 L1192.56,95.17 L1192.70,91.05 L1192.84,86.81 L1192.98,82.54 L1193.12,78.64 L1193.26,77.25 L1193.40,80.19 L1193.54,84.38 L1193.68,88.69 L1193.82,92.92 L1193.96,96.99 L1194.10,100.86 L1194.24,104.54 L1194.38,107.99 L1194.52,111.21 L1194.66,114.20 L1194.80,116.95 L1194.94,119.47 L1195.08,121.74 L1195.23,123.79 L1195.37,125.61 L1195.51,127.21 L1195.65,128.59 L1195.79,129.78 L1195.93,130.78 L1196.07,131.59 L1196.21,132.25 L1196.35,132.76 L1196.49,133.14 L1196.63,133.41 L1196.77,133.59 L1196.91,133.69 L1197.05,133.73 L1197.19,133.74 L1197.33,133.74 L1197.47,133.74 L1197.61,133.71 L1197.76,133.63 L1197.90,133.49 L1198.04,133.26 L1198.18,132.93 L1198.32,132.48 L1198.46,131.89 L1198.60,131.15 L1198.74,130.24 L1198.88,129.15 L1199.02,127.86 L1199.16,126.37 L1199.30,124.67 L1199.44,122.76 L1199.58,120.62 L1199.72,118.25 L1199.86,115.65 L1200.00,112.80 L1200.14,109.72 L1200.28,106.42 L1200.43,102.89 L1200.57,99.15 L1200.71,95.21 L1200.85,91.11 L1200.99,86.88 L1201.13,82.66 L1201.27,78.98 L1201.41,78.41 L1201.55,81.69 L1201.69,85.82 L1201.83,90.03 L1201.97,94.13 L1202.11,98.08 L1202.25,101.85 L1202.39,105.42 L1202.53,108.78 L1202.67,111.91 L1202.81,114.82 L1202.95,117.50 L1203.10,119.95 L1203.24,122.16 L1203.38,124.15 L1203.52,125.92 L1203.66,127.47 L1203.80,128.82 L1203.94,129.97 L1204.08,130.93 L1204.22,131.72 L1204.36,132.35 L1204.50,132.83 L1204.64,133.19 L1204.78,133.45 L1204.92,133.61 L1205.06,133.70 L1205.20,133.74 L1205.34,133.74 L1205.48,133.74 L1205.62,133.74 L1205.77,133.70 L1205.91,133.61 L1206.05,133.45 L1206.19,133.20 L1206.33,132.84 L1206.47,132.35 L1206.61,131.72 L1206.75,130.92 L1206.89,129.95 L1207.03,128.79 L1207.17,127.43 L1207.31,125.85 L1207.45,124.05 L1207.59,122.02 L1207.73,119.76 L1207.87,117.25 L1208.01,114.51 L1208.15,111.52 L1208.29,108.29 L1208.44,104.83 L1208.58,101.14 L1208.72,97.24 L1208.86,93.13 L1209.00,88.86 L1209.14,84.48 L1209.28,80.15 L1209.42,76.64 L1209.56,77.00 L1209.70,80.70 L1209.84,85.02 L1209.98,89.35 L1210.12,93.57 L1210.26,97.62 L1210.40,101.48 L1210.54,105.13 L1210.68,108.56 L1210.82,111.76 L1210.96,114.72 L1211.11,117.44 L1211.25,119.93 L1211.39,122.18 L1211.53,124.19 L1211.67,125.97 L1211.81,127.54 L1211.95,128.89 L1212.09,130.04 L1212.23,131.00 L1212.37,131.78 L1212.51,132.40 L1212.65,132.88 L1212.79,133.23 L1212.93,133.47 L1213.07,133.63 L1213.21,133.71 L1213.35,133.74 L1213.49,133.74 L1213.64,133.74 L1213.78,133.73 L1213.92,133.69 L1214.06,133.58 L1214.20,133.40 L1214.34,133.12 L1214.48,132.73 L1214.62,132.20 L1214.76,131.52 L1214.90,130.67 L1215.04,129.63 L1215.18,128.40 L1215.32,126.96 L1215.46,125.30 L1215.60,123.41 L1215.74,121.28 L1215.88,118.91 L1216.02,116.29 L1216.16,113.43 L1216.31,110.32 L1216.45,106.96 L1216.59,103.37 L1216.73,99.55 L1216.87,95.52 L1217.01,91.29 L1217.15,86.89 L1217.29,82.40 L1217.43,78.04 L1217.57,74.89 L1217.71,76.20 L1217.85,80.24 L1217.99,84.70 L1218.13,89.13 L1218.27,93.43 L1218.41,97.55 L1218.55,101.47 L1218.69,105.17 L1218.83,108.63 L1218.98,111.86 L1219.12,114.85 L1219.26,117.59 L1219.40,120.09 L1219.54,122.34 L1219.68,124.35 L1219.82,126.13 L1219.96,127.69 L1220.10,129.03 L1220.24,130.16 L1220.38,131.11 L1220.52,131.88 L1220.66,132.48 L1220.80,132.94 L1220.94,133.28 L1221.08,133.50 L1221.22,133.64 L1221.36,133.72 L1221.50,133.74 L1221.65,133.74 L1221.79,133.74 L1221.93,133.73 L1222.07,133.67 L1222.21,133.55 L1222.35,133.35 L1222.49,133.05 L1222.63,132.62 L1222.77,132.06 L1222.91,131.33 L1223.05,130.44 L1223.19,129.35 L1223.33,128.06 L1223.47,126.55 L1223.61,124.82 L1223.75,122.85 L1223.89,120.64 L1224.03,118.18 L1224.17,115.48 L1224.32,112.52 L1224.46,109.31 L1224.60,105.86 L1224.74,102.16 L1224.88,98.24 L1225.02,94.10 L1225.16,89.76 L1225.30,85.27 L1225.44,80.71 L1225.58,76.35 L1225.72,73.74 L1225.86,75.92 L1226.00,80.19 L1226.14,84.73 L1226.28,89.22 L1226.42,93.56 L1226.56,97.71 L1226.70,101.65 L1226.85,105.37 L1226.99,108.85 L1227.13,112.08 L1227.27,115.07 L1227.41,117.81 L1227.55,120.31 L1227.69,122.55 L1227.83,124.55 L1227.97,126.32 L1228.11,127.86 L1228.25,129.18 L1228.39,130.30 L1228.53,131.22 L1228.67,131.97 L1228.81,132.56 L1228.95,133.00 L1229.09,133.32 L1229.23,133.53 L1229.37,133.66 L1229.52,133.72 L1229.66,133.74 L1229.80,133.74 L1229.94,133.74 L1230.08,133.72 L1230.22,133.65 L1230.36,133.52 L1230.50,133.30 L1230.64,132.97 L1230.78,132.51 L1230.92,131.91 L1231.06,131.14 L1231.20,130.19 L1231.34,129.05 L1231.48,127.70 L1231.62,126.12 L1231.76,124.32 L1231.90,122.27 L1232.04,119.98 L1232.19,117.44 L1232.33,114.64 L1232.47,111.58 L1232.61,108.28 L1232.75,104.72 L1232.89,100.92 L1233.03,96.89 L1233.17,92.65 L1233.31,88.21 L1233.45,83.62 L1233.59,78.98 L1233.73,74.69 L1233.87,72.81 L1234.01,75.73 L1234.15,80.17 L1234.29,84.79 L1234.43,89.33 L1234.57,93.70 L1234.71,97.89 L1234.86,101.85 L1235.00,105.58 L1235.14,109.07 L1235.28,112.32 L1235.42,115.31 L1235.56,118.05 L1235.70,120.53 L1235.84,122.77 L1235.98,124.76 L1236.12,126.51 L1236.26,128.04 L1236.40,129.34 L1236.54,130.44 L1236.68,131.34 L1236.82,132.07 L1236.96,132.64 L1237.10,133.06 L1237.24,133.36 L1237.38,133.56 L1237.53,133.68 L1237.67,133.73 L1237.81,133.74 L1237.95,133.74 L1238.09,133.74 L1238.23,133.71 L1238.37,133.63 L1238.51,133.48 L1238.65,133.24 L1238.79,132.88 L1238.93,132.40 L1239.07,131.76 L1239.21,130.96 L1239.35,129.97 L1239.49,128.78 L1239.63,127.38 L1239.77,125.76 L1239.91,123.91 L1240.05,121.81 L1240.20,119.47 L1240.34,116.87 L1240.48,114.02 L1240.62,110.92 L1240.76,107.57 L1240.90,103.97 L1241.04,100.13 L1241.18,96.06 L1241.32,91.79 L1241.46,87.33 L1241.60,82.74 L1241.74,78.14 L1241.88,74.06 L1242.02,73.12 L1242.16,76.58 L1242.30,81.11 L1242.44,85.74 L1242.58,90.26 L1242.73,94.61 L1242.87,98.75 L1243.01,102.67 L1243.15,106.36 L1243.29,109.80 L1243.43,112.99 L1243.57,115.93 L1243.71,118.61 L1243.85,121.04 L1243.99,123.22 L1244.13,125.16 L1244.27,126.86 L1244.41,128.33 L1244.55,129.59 L1244.69,130.64 L1244.83,131.50 L1244.97,132.20 L1245.11,132.73 L1245.25,133.13 L1245.40,133.41 L1245.54,133.59 L1245.68,133.69 L1245.82,133.74 L1245.96,133.74 L1246.10,133.74 L1246.24,133.74 L1246.38,133.70 L1246.52,133.61 L1246.66,133.45 L1246.80,133.19 L1246.94,132.81 L1247.08,132.30 L1247.22,131.64 L1247.36,130.81 L1247.50,129.79 L1247.64,128.57 L1247.78,127.14 L1247.92,125.49 L1248.07,123.60 L1248.21,121.47 L1248.35,119.09 L1248.49,116.47 L1248.63,113.59 L1248.77,110.46 L1248.91,107.08 L1249.05,103.46 L1249.19,99.60 L1249.33,95.52 L1249.47,91.22 L1249.61,86.75 L1249.75,82.15 L1249.89,77.60 L1250.03,73.79 L1250.17,73.82 L1250.31,77.64 L1250.45,82.18 L1250.59,86.76 L1250.74,91.23 L1250.88,95.51 L1251.02,99.60 L1251.16,103.46 L1251.30,107.08 L1251.44,110.46 L1251.58,113.59 L1251.72,116.47 L1251.86,119.10 L1252.00,121.47 L1252.14,123.60 L1252.28,125.49 L1252.42,127.15 L1252.56,128.58 L1252.70,129.79 L1252.84,130.81 L1252.98,131.64 L1253.12,132.31 L1253.26,132.81 L1253.41,133.19 L1253.55,133.45 L1253.69,133.61 L1253.83,133.70 L1253.97,133.74 L1254.11,133.74 L1254.25,133.74 L1254.39,133.73 L1254.53,133.69 L1254.67,133.59 L1254.81,133.40 L1254.95,133.12 L1255.09,132.72 L1255.23,132.18 L1255.37,131.48 L1255.51,130.61 L1255.65,129.55 L1255.79,128.29 L1255.93,126.80 L1256.08,125.09 L1256.22,123.14 L1256.36,120.95 L1256.50,118.50 L1256.64,115.80 L1256.78,112.85 L1256.92,109.64 L1257.06,106.18 L1257.20,102.47 L1257.34,98.52 L1257.48,94.35 L1257.62,89.97 L1257.76,85.43 L1257.90,80.77 L1258.04,76.22 L1258.18,72.78 L1258.32,73.80 L1258.46,77.91 L1258.61,82.54 L1258.75,87.15 L1258.89,91.62 L1259.03,95.92 L1259.17,100.00 L1259.31,103.85 L1259.45,107.47 L1259.59,110.84 L1259.73,113.95 L1259.87,116.81 L1260.01,119.42 L1260.15,121.77 L1260.29,123.88 L1260.43,125.74 L1260.57,127.37 L1260.71,128.77 L1260.85,129.96 L1260.99,130.95 L1261.13,131.76 L1261.28,132.40 L1261.42,132.89 L1261.56,133.24 L1261.70,133.48 L1261.84,133.63 L1261.98,133.71 L1262.12,133.74 L1262.26,133.74 L1262.40,133.74 L1262.54,133.73 L1262.68,133.67 L1262.82,133.56 L1262.96,133.36 L1263.10,133.05 L1263.24,132.62 L1263.38,132.05 L1263.52,131.31 L1263.66,130.40 L1263.80,129.29 L1263.95,127.97 L1264.09,126.43 L1264.23,124.66 L1264.37,122.64 L1264.51,120.38 L1264.65,117.87 L1264.79,115.09 L1264.93,112.06 L1265.07,108.77 L1265.21,105.23 L1265.35,101.43 L1265.49,97.41 L1265.63,93.15 L1265.77,88.70 L1265.91,84.08 L1266.05,79.38 L1266.19,74.86 L1266.33,71.93 L1266.47,73.88 L1266.62,78.22 L1266.76,82.91 L1266.90,87.54 L1267.04,92.03 L1267.18,96.33 L1267.32,100.41 L1267.46,104.26 L1267.60,107.86 L1267.74,111.22 L1267.88,114.32 L1268.02,117.16 L1268.16,119.74 L1268.30,122.07 L1268.44,124.15 L1268.58,125.98 L1268.72,127.59 L1268.86,128.96 L1269.00,130.13 L1269.14,131.09 L1269.29,131.87 L1269.43,132.49 L1269.57,132.95 L1269.71,133.29 L1269.85,133.51 L1269.99,133.65 L1270.13,133.72 L1270.27,133.74 L1270.41,133.74 L1270.55,133.74 L1270.69,133.72 L1270.83,133.66 L1270.97,133.52 L1271.11,133.30 L1271.25,132.97 L1271.39,132.51 L1271.53,131.91 L1271.67,131.13 L1271.82,130.17 L1271.96,129.01 L1272.10,127.65 L1272.24,126.05 L1272.38,124.22 L1272.52,122.15 L1272.66,119.83 L1272.80,117.25 L1272.94,114.41 L1273.08,111.32 L1273.22,107.97 L1273.36,104.36 L1273.50,100.51 L1273.64,96.43 L1273.78,92.13 L1273.92,87.64 L1274.06,82.99 L1274.20,78.29 L1274.34,73.88 L1274.49,71.69 L1274.63,74.44 L1274.77,78.94 L1274.91,83.66 L1275.05,88.30 L1275.19,92.78 L1275.33,97.06 L1275.47,101.11 L1275.61,104.93 L1275.75,108.50 L1275.89,111.81 L1276.03,114.87 L1276.17,117.67 L1276.31,120.21 L1276.45,122.49 L1276.59,124.52 L1276.73,126.32 L1276.87,127.87 L1277.01,129.21 L1277.16,130.33 L1277.30,131.26 L1277.44,132.01 L1277.58,132.59 L1277.72,133.03 L1277.86,133.34 L1278.00,133.55 L1278.14,133.67 L1278.28,133.73 L1278.42,133.74 L1278.56,133.74 L1278.70,133.74 L1278.84,133.71 L1278.98,133.64 L1279.12,133.49 L1279.26,133.25 L1279.40,132.91 L1279.54,132.42 L1279.68,131.79 L1279.83,130.99 L1279.97,130.01 L1280.11,128.82 L1280.25,127.43 L1280.39,125.81 L1280.53,123.95 L1280.67,121.85 L1280.81,119.51 L1280.95,116.90 L1281.09,114.05 L1281.23,110.94 L1281.37,107.57 L1281.51,103.96 L1281.65,100.10 L1281.79,96.02 L1281.93,91.72 L1282.07,87.24 L1282.21,82.61 L1282.35,77.97 L1282.50,73.78 L1282.64,72.48 L1282.78,75.79 L1282.92,80.34 L1283.06,85.01 L1283.20,89.58 L1283.34,93.98 L1283.48,98.18 L1283.62,102.15 L1283.76,105.89 L1283.90,109.37 L1284.04,112.61 L1284.18,115.59 L1284.32,118.31 L1284.46,120.78 L1284.60,122.99 L1284.74,124.96 L1284.88,126.69 L1285.02,128.19 L1285.17,129.47 L1285.31,130.55 L1285.45,131.43 L1285.59,132.14 L1285.73,132.69 L1285.87,133.10 L1286.01,133.39 L1286.15,133.58 L1286.29,133.68 L1286.43,133.73 L1286.57,133.74 L1286.71,133.74 L1286.85,133.74 L1286.99,133.71 L1287.13,133.62 L1287.27,133.46 L1287.41,133.20 L1287.55,132.84 L1287.70,132.33 L1287.84,131.68 L1287.98,130.85 L1288.12,129.84 L1288.26,128.63 L1288.40,127.21 L1288.54,125.56 L1288.68,123.68 L1288.82,121.56 L1288.96,119.18 L1289.10,116.56 L1289.24,113.69 L1289.38,110.56 L1289.52,107.18 L1289.66,103.55 L1289.80,99.69 L1289.94,95.61 L1290.08,91.32 L1290.22,86.85 L1290.37,82.26 L1290.51,77.68 L1290.65,73.77 L1290.79,73.45 L1290.93,77.17 L1291.07,81.73 L1291.21,86.34 L1291.35,90.84 L1291.49,95.16 L1291.63,99.28 L1291.77,103.17 L1291.91,106.82 L1292.05,110.23 L1292.19,113.38 L1292.33,116.29 L1292.47,118.94 L1292.61,121.33 L1292.75,123.48 L1292.89,125.38 L1293.04,127.05 L1293.18,128.50 L1293.32,129.73 L1293.46,130.76 L1293.60,131.60 L1293.74,132.27 L1293.88,132.79 L1294.02,133.17 L1294.16,133.44 L1294.30,133.60" fill="none" stroke="#2b62a0" stroke-width="1.15" stroke-linejoin="round" stroke-linecap="round" clip-path="url(#cl844)"/>
<rect x="844.60" y="56.90" width="449.70" height="83.30" fill="none" stroke="#3a3a3a" stroke-width="1.2"/>
<line x1="844.60" y1="140.20" x2="844.60" y2="135.70" stroke="#3a3a3a" stroke-width="1.2" />
<line x1="844.60" y1="56.90" x2="844.60" y2="61.40" stroke="#3a3a3a" stroke-width="1.2" />
<line x1="934.54" y1="140.20" x2="934.54" y2="135.70" stroke="#3a3a3a" stroke-width="1.2" />
<line x1="934.54" y1="56.90" x2="934.54" y2="61.40" stroke="#3a3a3a" stroke-width="1.2" />
<line x1="1024.48" y1="140.20" x2="1024.48" y2="135.70" stroke="#3a3a3a" stroke-width="1.2" />
<line x1="1024.48" y1="56.90" x2="1024.48" y2="61.40" stroke="#3a3a3a" stroke-width="1.2" />
<line x1="1114.42" y1="140.20" x2="1114.42" y2="135.70" stroke="#3a3a3a" stroke-width="1.2" />
<line x1="1114.42" y1="56.90" x2="1114.42" y2="61.40" stroke="#3a3a3a" stroke-width="1.2" />
<line x1="1204.36" y1="140.20" x2="1204.36" y2="135.70" stroke="#3a3a3a" stroke-width="1.2" />
<line x1="1204.36" y1="56.90" x2="1204.36" y2="61.40" stroke="#3a3a3a" stroke-width="1.2" />
<line x1="1294.30" y1="140.20" x2="1294.30" y2="135.70" stroke="#3a3a3a" stroke-width="1.2" />
<line x1="1294.30" y1="56.90" x2="1294.30" y2="61.40" stroke="#3a3a3a" stroke-width="1.2" />
<line x1="844.60" y1="140.20" x2="849.10" y2="140.20" stroke="#3a3a3a" stroke-width="1.2" />
<line x1="1294.30" y1="140.20" x2="1289.80" y2="140.20" stroke="#3a3a3a" stroke-width="1.2" />
<line x1="844.60" y1="98.55" x2="849.10" y2="98.55" stroke="#3a3a3a" stroke-width="1.2" />
<line x1="1294.30" y1="98.55" x2="1289.80" y2="98.55" stroke="#3a3a3a" stroke-width="1.2" />
<line x1="844.60" y1="56.90" x2="849.10" y2="56.90" stroke="#3a3a3a" stroke-width="1.2" />
<line x1="1294.30" y1="56.90" x2="1289.80" y2="56.90" stroke="#3a3a3a" stroke-width="1.2" />
<text x="840.00" y="145.40" font-family="Liberation Serif" font-size="18.5" text-anchor="end" fill="#262626" >0</text>
<text x="840.00" y="103.75" font-family="Liberation Serif" font-size="18.5" text-anchor="end" fill="#262626" textLength="23.60" lengthAdjust="spacingAndGlyphs" >0.2</text>
<text x="840.00" y="62.10" font-family="Liberation Serif" font-size="18.5" text-anchor="end" fill="#262626" textLength="23.60" lengthAdjust="spacingAndGlyphs" >0.4</text>
<text x="844.60" y="160.80" font-family="Liberation Serif" font-size="18.5" text-anchor="middle" fill="#262626" >0</text>
<text x="934.54" y="160.80" font-family="Liberation Serif" font-size="18.5" text-anchor="middle" fill="#262626" textLength="23.60" lengthAdjust="spacingAndGlyphs" >0.2</text>
<text x="1024.48" y="160.80" font-family="Liberation Serif" font-size="18.5" text-anchor="middle" fill="#262626" textLength="23.60" lengthAdjust="spacingAndGlyphs" >0.4</text>
<text x="1114.42" y="160.80" font-family="Liberation Serif" font-size="18.5" text-anchor="middle" fill="#262626" textLength="23.60" lengthAdjust="spacingAndGlyphs" >0.6</text>
<text x="1204.36" y="160.80" font-family="Liberation Serif" font-size="18.5" text-anchor="middle" fill="#262626" textLength="23.60" lengthAdjust="spacingAndGlyphs" >0.8</text>
<text x="1294.30" y="160.80" font-family="Liberation Serif" font-size="18.5" text-anchor="middle" fill="#262626" >1</text>
<text x="1069.45" y="185.50" font-family="Liberation Serif" font-size="20.5" text-anchor="middle" fill="#262626" textLength="71.00" lengthAdjust="spacingAndGlyphs" >time (s)</text>
<g transform="translate(806.40 160.35) rotate(-90)">
<text x="0.00" y="0.00" font-family="Liberation Serif" font-size="20.5" text-anchor="start" fill="#262626" textLength="75.50" lengthAdjust="spacingAndGlyphs" >activity,</text>
<text x="83.50" y="0.00" font-family="Liberation Serif" font-size="20.5" text-anchor="start" fill="#262626" font-style="italic" textLength="14.80" lengthAdjust="spacingAndGlyphs" >E</text>
<text x="99.50" y="0.00" font-family="Liberation Serif" font-size="20.5" text-anchor="start" fill="#262626" >(</text>
<text x="107.20" y="0.00" font-family="Liberation Serif" font-size="20.5" text-anchor="start" fill="#262626" font-style="italic" >t</text>
<text x="114.50" y="0.00" font-family="Liberation Serif" font-size="20.5" text-anchor="start" fill="#262626" >)</text>
</g>
<text x="1067.70" y="47.30" font-family="Liberation Sans" font-size="21" text-anchor="middle" fill="#000" textLength="67.70" lengthAdjust="spacingAndGlyphs" >excited</text>
<clipPath id="c1"><rect x="110.9" y="251.5" width="242.1" height="172.60000000000002"/></clipPath>
<path d="M110.90,391.65 L112.76,385.85 L114.62,379.73 L116.49,380.64 L118.35,385.59 L120.21,390.48 L122.07,394.56 L123.94,397.35 L125.80,400.05 L127.66,401.23 L129.52,403.50 L131.39,404.62 L133.25,405.63 L135.11,404.72 L136.97,404.87 L138.83,405.69 L140.70,404.50 L142.56,404.77 L144.42,405.43 L146.28,405.74 L148.15,406.59 L150.01,407.03 L151.87,406.65 L153.73,407.12 L155.60,406.27 L157.46,405.52 L159.32,405.11 L161.18,403.88 L163.04,403.23 L164.91,402.11 L166.77,402.75 L168.63,402.84 L170.49,403.25 L172.36,403.28 L174.22,403.78 L176.08,404.24 L177.94,403.57 L179.81,403.17 L181.67,402.78 L183.53,402.36 L185.39,402.26 L187.25,401.78 L189.12,401.12 L190.98,400.80 L192.84,399.19 L194.70,398.75 L196.57,397.28 L198.43,396.96 L200.29,395.33 L202.15,394.57 L204.02,394.73 L205.88,393.59 L207.74,391.99 L209.60,391.84 L211.46,390.49 L213.33,390.52 L215.19,390.22 L217.05,388.81 L218.91,387.91 L220.78,387.46 L222.64,386.51 L224.50,385.02 L226.36,383.04 L228.23,382.12 L230.09,381.75 L231.95,380.41 L233.81,378.74 L235.67,376.29 L237.54,372.86 L239.40,371.14 L241.26,368.16 L243.12,365.80 L244.99,363.32 L246.85,359.82 L248.71,357.77 L250.57,354.44 L252.44,351.83 L253.44,350.17 L254.30,348.10 L256.16,343.64 L258.02,339.07 L259.88,334.27 L260.40,333.20 L261.75,326.34 L263.61,317.24 L265.24,309.03 L265.47,306.59 L267.33,288.48 L267.66,285.16 L269.20,276.43 L270.38,269.62 L271.06,269.17 L272.92,268.36 L274.01,267.90 L274.78,273.89 L276.65,287.72 L276.74,288.61 L278.51,304.16 L280.07,317.66 L280.37,319.22 L282.23,328.01 L284.00,336.65 L284.09,336.96 L285.96,341.98 L287.82,347.07 L289.68,352.06 L290.96,355.35 L291.54,356.26 L293.41,359.43 L295.27,362.33 L297.13,365.45 L298.99,368.49 L300.86,370.02 L302.72,372.52 L304.58,374.30 L306.44,375.83 L308.30,378.47 L310.17,379.83 L312.03,380.21 L313.89,381.65 L315.75,383.70 L317.62,385.10 L319.48,385.73 L321.34,385.96 L323.20,387.03 L325.07,386.22 L326.93,386.44 L328.79,386.93 L330.65,387.29 L332.51,388.07 L334.38,388.94 L336.24,388.55 L338.10,390.25 L339.96,390.44 L341.83,391.78 L343.69,391.43 L345.55,392.02 L347.41,392.70 L349.28,393.14 L351.14,392.75 L353.00,393.87" fill="none" stroke="#5b9bd5" stroke-width="1.9" stroke-linejoin="round" stroke-linecap="round" clip-path="url(#c1)"/>
<path d="M110.90,386.45 L112.76,380.73 L114.62,375.23 L116.49,370.40 L118.35,372.43 L120.21,376.28 L122.07,380.72 L123.94,384.33 L125.80,387.14 L127.66,389.91 L129.52,392.62 L131.39,395.14 L133.25,397.70 L135.11,398.37 L136.97,399.77 L138.83,399.87 L140.70,401.99 L142.56,402.07 L144.42,403.97 L146.28,403.50 L148.15,404.26 L150.01,404.48 L151.87,404.24 L153.73,405.60 L155.60,405.42 L157.46,403.92 L159.32,404.02 L161.18,404.13 L163.04,402.58 L164.91,402.26 L166.77,403.51 L168.63,403.32 L170.49,403.88 L172.36,403.85 L174.22,403.66 L176.08,404.43 L177.94,403.96 L179.81,404.60 L181.67,404.17 L183.53,403.07 L185.39,403.31 L187.25,403.00 L189.12,402.49 L190.98,402.36 L192.84,402.19 L194.70,402.35 L196.57,400.79 L198.43,399.60 L200.29,398.70 L202.15,398.21 L204.02,397.72 L205.88,396.82 L207.74,395.52 L209.60,394.65 L211.46,394.41 L213.33,393.32 L215.19,392.21 L217.05,391.08 L218.91,389.76 L220.78,389.20 L222.64,388.86 L224.50,386.49 L226.36,385.57 L228.23,384.05 L230.09,383.01 L231.95,381.33 L233.81,379.96 L235.67,378.06 L237.54,376.84 L239.40,373.70 L241.26,371.59 L243.12,368.36 L244.99,366.62 L246.85,363.52 L248.71,359.74 L250.57,355.79 L252.44,352.32 L254.30,348.47 L256.16,344.87 L256.77,343.55 L258.02,340.05 L259.88,334.67 L261.75,329.17 L263.61,324.04 L265.24,319.39 L265.47,318.19 L267.33,310.25 L269.20,301.73 L271.06,293.70 L272.20,288.61 L272.92,284.61 L274.78,273.78 L275.53,269.62 L276.65,268.11 L278.51,266.21 L278.86,265.60 L280.37,273.59 L281.28,278.25 L282.23,283.90 L284.09,295.27 L285.82,305.58 L285.96,306.13 L287.82,312.22 L289.68,318.21 L291.54,324.00 L292.78,328.02 L293.41,329.35 L295.27,333.83 L297.13,338.51 L298.99,343.60 L300.86,347.71 L302.72,350.79 L304.58,354.17 L306.44,357.85 L308.30,361.80 L310.17,364.86 L312.03,368.13 L313.89,370.52 L315.75,373.56 L317.62,375.26 L319.48,377.91 L321.34,381.41 L323.20,382.63 L325.07,383.14 L326.93,385.14 L328.79,385.55 L330.65,387.34 L332.51,388.13 L334.38,388.74 L336.24,389.99 L338.10,390.52 L339.96,391.19 L341.83,391.27 L343.69,391.72 L345.55,392.88 L347.41,392.37 L349.28,393.40 L351.14,394.07 L353.00,394.26" fill="none" stroke="#2b5f9e" stroke-width="1.9" stroke-linejoin="round" stroke-linecap="round" clip-path="url(#c1)"/>
<line x1="279.34" y1="251.50" x2="279.34" y2="424.10" stroke="#808080" stroke-width="1.9" />
<rect x="110.90" y="251.50" width="242.10" height="172.60" fill="none" stroke="#2a2a2a" stroke-width="1.5"/>
<line x1="110.90" y1="424.10" x2="110.90" y2="421.10" stroke="#3a3a3a" stroke-width="1.3" />
<line x1="110.90" y1="251.50" x2="110.90" y2="254.50" stroke="#3a3a3a" stroke-width="1.3" />
<text x="110.90" y="445.30" font-family="Liberation Serif" font-size="18.5" text-anchor="middle" fill="#262626" >0</text>
<line x1="141.16" y1="424.10" x2="141.16" y2="421.10" stroke="#3a3a3a" stroke-width="1.3" />
<line x1="141.16" y1="251.50" x2="141.16" y2="254.50" stroke="#3a3a3a" stroke-width="1.3" />
<text x="141.16" y="445.30" font-family="Liberation Serif" font-size="18.5" text-anchor="middle" fill="#262626" textLength="17.90" lengthAdjust="spacingAndGlyphs" >10</text>
<line x1="171.43" y1="424.10" x2="171.43" y2="421.10" stroke="#3a3a3a" stroke-width="1.3" />
<line x1="171.43" y1="251.50" x2="171.43" y2="254.50" stroke="#3a3a3a" stroke-width="1.3" />
<text x="171.43" y="445.30" font-family="Liberation Serif" font-size="18.5" text-anchor="middle" fill="#262626" textLength="17.90" lengthAdjust="spacingAndGlyphs" >20</text>
<line x1="201.69" y1="424.10" x2="201.69" y2="421.10" stroke="#3a3a3a" stroke-width="1.3" />
<line x1="201.69" y1="251.50" x2="201.69" y2="254.50" stroke="#3a3a3a" stroke-width="1.3" />
<text x="201.69" y="445.30" font-family="Liberation Serif" font-size="18.5" text-anchor="middle" fill="#262626" textLength="17.90" lengthAdjust="spacingAndGlyphs" >30</text>
<line x1="231.95" y1="424.10" x2="231.95" y2="421.10" stroke="#3a3a3a" stroke-width="1.3" />
<line x1="231.95" y1="251.50" x2="231.95" y2="254.50" stroke="#3a3a3a" stroke-width="1.3" />
<text x="231.95" y="445.30" font-family="Liberation Serif" font-size="18.5" text-anchor="middle" fill="#262626" textLength="17.90" lengthAdjust="spacingAndGlyphs" >40</text>
<line x1="262.21" y1="424.10" x2="262.21" y2="421.10" stroke="#3a3a3a" stroke-width="1.3" />
<line x1="262.21" y1="251.50" x2="262.21" y2="254.50" stroke="#3a3a3a" stroke-width="1.3" />
<text x="262.21" y="445.30" font-family="Liberation Serif" font-size="18.5" text-anchor="middle" fill="#262626" textLength="17.90" lengthAdjust="spacingAndGlyphs" >50</text>
<line x1="292.48" y1="424.10" x2="292.48" y2="421.10" stroke="#3a3a3a" stroke-width="1.3" />
<line x1="292.48" y1="251.50" x2="292.48" y2="254.50" stroke="#3a3a3a" stroke-width="1.3" />
<text x="292.48" y="445.30" font-family="Liberation Serif" font-size="18.5" text-anchor="middle" fill="#262626" textLength="17.90" lengthAdjust="spacingAndGlyphs" >60</text>
<line x1="322.74" y1="424.10" x2="322.74" y2="421.10" stroke="#3a3a3a" stroke-width="1.3" />
<line x1="322.74" y1="251.50" x2="322.74" y2="254.50" stroke="#3a3a3a" stroke-width="1.3" />
<text x="322.74" y="445.30" font-family="Liberation Serif" font-size="18.5" text-anchor="middle" fill="#262626" textLength="17.90" lengthAdjust="spacingAndGlyphs" >70</text>
<line x1="353.00" y1="424.10" x2="353.00" y2="421.10" stroke="#3a3a3a" stroke-width="1.3" />
<line x1="353.00" y1="251.50" x2="353.00" y2="254.50" stroke="#3a3a3a" stroke-width="1.3" />
<text x="353.00" y="445.30" font-family="Liberation Serif" font-size="18.5" text-anchor="middle" fill="#262626" textLength="17.90" lengthAdjust="spacingAndGlyphs" >80</text>
<line x1="110.90" y1="424.10" x2="114.50" y2="424.10" stroke="#3a3a3a" stroke-width="1.3" />
<line x1="353.00" y1="424.10" x2="349.40" y2="424.10" stroke="#3a3a3a" stroke-width="1.3" />
<line x1="110.90" y1="415.44" x2="113.50" y2="415.44" stroke="#222" stroke-width="1.1" />
<line x1="353.00" y1="415.44" x2="350.40" y2="415.44" stroke="#222" stroke-width="1.1" />
<line x1="110.90" y1="410.37" x2="113.50" y2="410.37" stroke="#222" stroke-width="1.1" />
<line x1="353.00" y1="410.37" x2="350.40" y2="410.37" stroke="#222" stroke-width="1.1" />
<line x1="110.90" y1="406.78" x2="113.50" y2="406.78" stroke="#222" stroke-width="1.1" />
<line x1="353.00" y1="406.78" x2="350.40" y2="406.78" stroke="#222" stroke-width="1.1" />
<line x1="110.90" y1="403.99" x2="113.50" y2="403.99" stroke="#222" stroke-width="1.1" />
<line x1="353.00" y1="403.99" x2="350.40" y2="403.99" stroke="#222" stroke-width="1.1" />
<line x1="110.90" y1="401.72" x2="113.50" y2="401.72" stroke="#222" stroke-width="1.1" />
<line x1="353.00" y1="401.72" x2="350.40" y2="401.72" stroke="#222" stroke-width="1.1" />
<line x1="110.90" y1="399.79" x2="113.50" y2="399.79" stroke="#222" stroke-width="1.1" />
<line x1="353.00" y1="399.79" x2="350.40" y2="399.79" stroke="#222" stroke-width="1.1" />
<line x1="110.90" y1="398.12" x2="113.50" y2="398.12" stroke="#222" stroke-width="1.1" />
<line x1="353.00" y1="398.12" x2="350.40" y2="398.12" stroke="#222" stroke-width="1.1" />
<line x1="110.90" y1="396.65" x2="113.50" y2="396.65" stroke="#222" stroke-width="1.1" />
<line x1="353.00" y1="396.65" x2="350.40" y2="396.65" stroke="#222" stroke-width="1.1" />
<line x1="110.90" y1="395.33" x2="114.50" y2="395.33" stroke="#3a3a3a" stroke-width="1.3" />
<line x1="353.00" y1="395.33" x2="349.40" y2="395.33" stroke="#3a3a3a" stroke-width="1.3" />
<line x1="110.90" y1="386.67" x2="113.50" y2="386.67" stroke="#222" stroke-width="1.1" />
<line x1="353.00" y1="386.67" x2="350.40" y2="386.67" stroke="#222" stroke-width="1.1" />
<line x1="110.90" y1="381.61" x2="113.50" y2="381.61" stroke="#222" stroke-width="1.1" />
<line x1="353.00" y1="381.61" x2="350.40" y2="381.61" stroke="#222" stroke-width="1.1" />
<line x1="110.90" y1="378.01" x2="113.50" y2="378.01" stroke="#222" stroke-width="1.1" />
<line x1="353.00" y1="378.01" x2="350.40" y2="378.01" stroke="#222" stroke-width="1.1" />
<line x1="110.90" y1="375.23" x2="113.50" y2="375.23" stroke="#222" stroke-width="1.1" />
<line x1="353.00" y1="375.23" x2="350.40" y2="375.23" stroke="#222" stroke-width="1.1" />
<line x1="110.90" y1="372.95" x2="113.50" y2="372.95" stroke="#222" stroke-width="1.1" />
<line x1="353.00" y1="372.95" x2="350.40" y2="372.95" stroke="#222" stroke-width="1.1" />
<line x1="110.90" y1="371.02" x2="113.50" y2="371.02" stroke="#222" stroke-width="1.1" />
<line x1="353.00" y1="371.02" x2="350.40" y2="371.02" stroke="#222" stroke-width="1.1" />
<line x1="110.90" y1="369.35" x2="113.50" y2="369.35" stroke="#222" stroke-width="1.1" />
<line x1="353.00" y1="369.35" x2="350.40" y2="369.35" stroke="#222" stroke-width="1.1" />
<line x1="110.90" y1="367.88" x2="113.50" y2="367.88" stroke="#222" stroke-width="1.1" />
<line x1="353.00" y1="367.88" x2="350.40" y2="367.88" stroke="#222" stroke-width="1.1" />
<line x1="110.90" y1="366.57" x2="114.50" y2="366.57" stroke="#3a3a3a" stroke-width="1.3" />
<line x1="353.00" y1="366.57" x2="349.40" y2="366.57" stroke="#3a3a3a" stroke-width="1.3" />
<line x1="110.90" y1="357.91" x2="113.50" y2="357.91" stroke="#222" stroke-width="1.1" />
<line x1="353.00" y1="357.91" x2="350.40" y2="357.91" stroke="#222" stroke-width="1.1" />
<line x1="110.90" y1="352.84" x2="113.50" y2="352.84" stroke="#222" stroke-width="1.1" />
<line x1="353.00" y1="352.84" x2="350.40" y2="352.84" stroke="#222" stroke-width="1.1" />
<line x1="110.90" y1="349.25" x2="113.50" y2="349.25" stroke="#222" stroke-width="1.1" />
<line x1="353.00" y1="349.25" x2="350.40" y2="349.25" stroke="#222" stroke-width="1.1" />
<line x1="110.90" y1="346.46" x2="113.50" y2="346.46" stroke="#222" stroke-width="1.1" />
<line x1="353.00" y1="346.46" x2="350.40" y2="346.46" stroke="#222" stroke-width="1.1" />
<line x1="110.90" y1="344.18" x2="113.50" y2="344.18" stroke="#222" stroke-width="1.1" />
<line x1="353.00" y1="344.18" x2="350.40" y2="344.18" stroke="#222" stroke-width="1.1" />
<line x1="110.90" y1="342.26" x2="113.50" y2="342.26" stroke="#222" stroke-width="1.1" />
<line x1="353.00" y1="342.26" x2="350.40" y2="342.26" stroke="#222" stroke-width="1.1" />
<line x1="110.90" y1="340.59" x2="113.50" y2="340.59" stroke="#222" stroke-width="1.1" />
<line x1="353.00" y1="340.59" x2="350.40" y2="340.59" stroke="#222" stroke-width="1.1" />
<line x1="110.90" y1="339.12" x2="113.50" y2="339.12" stroke="#222" stroke-width="1.1" />
<line x1="353.00" y1="339.12" x2="350.40" y2="339.12" stroke="#222" stroke-width="1.1" />
<line x1="110.90" y1="337.80" x2="114.50" y2="337.80" stroke="#3a3a3a" stroke-width="1.3" />
<line x1="353.00" y1="337.80" x2="349.40" y2="337.80" stroke="#3a3a3a" stroke-width="1.3" />
<line x1="110.90" y1="329.14" x2="113.50" y2="329.14" stroke="#222" stroke-width="1.1" />
<line x1="353.00" y1="329.14" x2="350.40" y2="329.14" stroke="#222" stroke-width="1.1" />
<line x1="110.90" y1="324.07" x2="113.50" y2="324.07" stroke="#222" stroke-width="1.1" />
<line x1="353.00" y1="324.07" x2="350.40" y2="324.07" stroke="#222" stroke-width="1.1" />
<line x1="110.90" y1="320.48" x2="113.50" y2="320.48" stroke="#222" stroke-width="1.1" />
<line x1="353.00" y1="320.48" x2="350.40" y2="320.48" stroke="#222" stroke-width="1.1" />
<line x1="110.90" y1="317.69" x2="113.50" y2="317.69" stroke="#222" stroke-width="1.1" />
<line x1="353.00" y1="317.69" x2="350.40" y2="317.69" stroke="#222" stroke-width="1.1" />
<line x1="110.90" y1="315.42" x2="113.50" y2="315.42" stroke="#222" stroke-width="1.1" />
<line x1="353.00" y1="315.42" x2="350.40" y2="315.42" stroke="#222" stroke-width="1.1" />
<line x1="110.90" y1="313.49" x2="113.50" y2="313.49" stroke="#222" stroke-width="1.1" />
<line x1="353.00" y1="313.49" x2="350.40" y2="313.49" stroke="#222" stroke-width="1.1" />
<line x1="110.90" y1="311.82" x2="113.50" y2="311.82" stroke="#222" stroke-width="1.1" />
<line x1="353.00" y1="311.82" x2="350.40" y2="311.82" stroke="#222" stroke-width="1.1" />
<line x1="110.90" y1="310.35" x2="113.50" y2="310.35" stroke="#222" stroke-width="1.1" />
<line x1="353.00" y1="310.35" x2="350.40" y2="310.35" stroke="#222" stroke-width="1.1" />
<line x1="110.90" y1="309.03" x2="114.50" y2="309.03" stroke="#3a3a3a" stroke-width="1.3" />
<line x1="353.00" y1="309.03" x2="349.40" y2="309.03" stroke="#3a3a3a" stroke-width="1.3" />
<line x1="110.90" y1="300.37" x2="113.50" y2="300.37" stroke="#222" stroke-width="1.1" />
<line x1="353.00" y1="300.37" x2="350.40" y2="300.37" stroke="#222" stroke-width="1.1" />
<line x1="110.90" y1="295.31" x2="113.50" y2="295.31" stroke="#222" stroke-width="1.1" />
<line x1="353.00" y1="295.31" x2="350.40" y2="295.31" stroke="#222" stroke-width="1.1" />
<line x1="110.90" y1="291.71" x2="113.50" y2="291.71" stroke="#222" stroke-width="1.1" />
<line x1="353.00" y1="291.71" x2="350.40" y2="291.71" stroke="#222" stroke-width="1.1" />
<line x1="110.90" y1="288.93" x2="113.50" y2="288.93" stroke="#222" stroke-width="1.1" />
<line x1="353.00" y1="288.93" x2="350.40" y2="288.93" stroke="#222" stroke-width="1.1" />
<line x1="110.90" y1="286.65" x2="113.50" y2="286.65" stroke="#222" stroke-width="1.1" />
<line x1="353.00" y1="286.65" x2="350.40" y2="286.65" stroke="#222" stroke-width="1.1" />
<line x1="110.90" y1="284.72" x2="113.50" y2="284.72" stroke="#222" stroke-width="1.1" />
<line x1="353.00" y1="284.72" x2="350.40" y2="284.72" stroke="#222" stroke-width="1.1" />
<line x1="110.90" y1="283.05" x2="113.50" y2="283.05" stroke="#222" stroke-width="1.1" />
<line x1="353.00" y1="283.05" x2="350.40" y2="283.05" stroke="#222" stroke-width="1.1" />
<line x1="110.90" y1="281.58" x2="113.50" y2="281.58" stroke="#222" stroke-width="1.1" />
<line x1="353.00" y1="281.58" x2="350.40" y2="281.58" stroke="#222" stroke-width="1.1" />
<line x1="110.90" y1="280.27" x2="114.50" y2="280.27" stroke="#3a3a3a" stroke-width="1.3" />
<line x1="353.00" y1="280.27" x2="349.40" y2="280.27" stroke="#3a3a3a" stroke-width="1.3" />
<line x1="110.90" y1="271.61" x2="113.50" y2="271.61" stroke="#222" stroke-width="1.1" />
<line x1="353.00" y1="271.61" x2="350.40" y2="271.61" stroke="#222" stroke-width="1.1" />
<line x1="110.90" y1="266.54" x2="113.50" y2="266.54" stroke="#222" stroke-width="1.1" />
<line x1="353.00" y1="266.54" x2="350.40" y2="266.54" stroke="#222" stroke-width="1.1" />
<line x1="110.90" y1="262.95" x2="113.50" y2="262.95" stroke="#222" stroke-width="1.1" />
<line x1="353.00" y1="262.95" x2="350.40" y2="262.95" stroke="#222" stroke-width="1.1" />
<line x1="110.90" y1="260.16" x2="113.50" y2="260.16" stroke="#222" stroke-width="1.1" />
<line x1="353.00" y1="260.16" x2="350.40" y2="260.16" stroke="#222" stroke-width="1.1" />
<line x1="110.90" y1="257.88" x2="113.50" y2="257.88" stroke="#222" stroke-width="1.1" />
<line x1="353.00" y1="257.88" x2="350.40" y2="257.88" stroke="#222" stroke-width="1.1" />
<line x1="110.90" y1="255.96" x2="113.50" y2="255.96" stroke="#222" stroke-width="1.1" />
<line x1="353.00" y1="255.96" x2="350.40" y2="255.96" stroke="#222" stroke-width="1.1" />
<line x1="110.90" y1="254.29" x2="113.50" y2="254.29" stroke="#222" stroke-width="1.1" />
<line x1="353.00" y1="254.29" x2="350.40" y2="254.29" stroke="#222" stroke-width="1.1" />
<line x1="110.90" y1="252.82" x2="113.50" y2="252.82" stroke="#222" stroke-width="1.1" />
<line x1="353.00" y1="252.82" x2="350.40" y2="252.82" stroke="#222" stroke-width="1.1" />
<line x1="110.90" y1="251.50" x2="114.50" y2="251.50" stroke="#3a3a3a" stroke-width="1.3" />
<line x1="353.00" y1="251.50" x2="349.40" y2="251.50" stroke="#3a3a3a" stroke-width="1.3" />
<text x="88.00" y="429.20" font-family="Liberation Serif" font-size="18.5" text-anchor="end" fill="#262626" textLength="19.60" lengthAdjust="spacingAndGlyphs" >10</text>
<text x="88.70" y="422.10" font-family="Liberation Serif" font-size="12.5" text-anchor="start" fill="#262626" textLength="14.80" lengthAdjust="spacingAndGlyphs" >−8</text>
<text x="88.00" y="371.67" font-family="Liberation Serif" font-size="18.5" text-anchor="end" fill="#262626" textLength="19.60" lengthAdjust="spacingAndGlyphs" >10</text>
<text x="88.70" y="364.57" font-family="Liberation Serif" font-size="12.5" text-anchor="start" fill="#262626" textLength="14.80" lengthAdjust="spacingAndGlyphs" >−6</text>
<text x="88.00" y="314.13" font-family="Liberation Serif" font-size="18.5" text-anchor="end" fill="#262626" textLength="19.60" lengthAdjust="spacingAndGlyphs" >10</text>
<text x="88.70" y="307.03" font-family="Liberation Serif" font-size="12.5" text-anchor="start" fill="#262626" textLength="14.80" lengthAdjust="spacingAndGlyphs" >−4</text>
<text x="88.00" y="256.60" font-family="Liberation Serif" font-size="18.5" text-anchor="end" fill="#262626" textLength="19.60" lengthAdjust="spacingAndGlyphs" >10</text>
<text x="88.70" y="249.50" font-family="Liberation Serif" font-size="12.5" text-anchor="start" fill="#262626" textLength="14.80" lengthAdjust="spacingAndGlyphs" >−2</text>
<text x="190.90" y="240.90" font-family="Liberation Serif" font-size="20.5" text-anchor="start" fill="#262626" textLength="57.50" lengthAdjust="spacingAndGlyphs" >region</text>
<text x="256.10" y="240.90" font-family="Liberation Serif" font-size="20.5" text-anchor="start" fill="#262626" font-style="italic" >j</text>
<text x="231.15" y="472.10" font-family="Liberation Serif" font-size="20.5" text-anchor="middle" fill="#262626" textLength="139.00" lengthAdjust="spacingAndGlyphs" >frequency (Hz)</text>
<g transform="translate(57.90 383.00) rotate(-90)">
<text x="0.00" y="0.00" font-family="Liberation Serif" font-size="20.5" text-anchor="start" fill="#262626" textLength="90.50" lengthAdjust="spacingAndGlyphs" >psd (a.u.)</text>
</g>
<clipPath id="c2"><rect x="448.8" y="253.1" width="241.3" height="172.20000000000002"/></clipPath>
<path d="M448.80,371.07 L450.66,367.59 L452.51,369.98 L454.37,376.74 L456.22,384.55 L458.08,389.89 L459.94,393.45 L461.79,396.80 L463.65,399.62 L465.51,402.08 L467.36,402.57 L469.22,403.97 L471.07,404.87 L472.93,404.97 L474.79,404.71 L476.64,405.25 L478.50,406.25 L480.35,406.13 L482.21,406.45 L484.07,405.70 L485.92,405.93 L487.78,406.09 L489.64,406.22 L491.49,406.48 L493.35,406.39 L495.20,406.83 L497.06,407.75 L498.92,407.25 L500.77,407.95 L502.63,407.59 L504.48,407.42 L506.34,407.17 L508.20,406.84 L510.05,406.34 L511.91,406.07 L513.77,405.90 L515.62,404.60 L517.48,404.20 L519.33,403.41 L521.19,403.23 L523.05,402.86 L524.90,402.06 L526.76,402.29 L528.61,401.05 L530.47,400.80 L532.33,400.52 L534.18,399.86 L536.04,398.83 L537.90,398.54 L539.75,397.65 L541.61,396.84 L543.46,396.48 L545.32,396.04 L547.18,394.67 L549.03,394.07 L550.89,393.15 L552.74,392.28 L554.60,391.14 L556.46,390.59 L558.31,388.93 L560.17,387.33 L562.03,386.82 L563.88,385.18 L565.74,383.69 L567.59,383.59 L569.45,382.24 L571.31,379.56 L573.16,377.39 L575.02,375.51 L576.87,373.99 L578.73,371.53 L580.59,367.84 L582.44,364.67 L584.30,361.62 L586.16,359.22 L588.01,354.99 L589.87,350.64 L591.72,345.98 L593.58,341.67 L594.18,340.06 L595.44,335.22 L597.29,328.46 L599.15,321.51 L600.82,315.38 L601.00,314.39 L602.86,303.26 L604.72,292.30 L605.04,290.41 L606.57,279.37 L607.76,270.89 L608.43,271.23 L610.29,271.88 L610.47,272.04 L612.14,282.43 L612.88,286.97 L614.00,294.46 L615.85,306.87 L616.20,309.06 L617.71,316.85 L619.57,326.72 L621.33,335.76 L621.42,336.11 L623.28,341.08 L625.13,345.78 L626.99,350.72 L628.27,354.12 L628.85,355.09 L630.70,358.44 L632.56,361.44 L634.42,364.63 L636.27,368.24 L638.13,370.69 L639.98,371.51 L641.84,374.69 L643.70,376.54 L645.55,378.66 L647.41,380.18 L649.26,382.29 L651.12,383.25 L652.98,384.83 L654.83,385.69 L656.69,388.20 L658.55,388.64 L660.40,389.05 L662.26,389.06 L664.11,390.25 L665.97,390.92 L667.83,391.29 L669.68,392.37 L671.54,393.24 L673.39,392.91 L675.25,392.66 L677.11,393.15 L678.96,394.02 L680.82,393.75 L682.68,393.63 L684.53,394.43 L686.39,394.08 L688.24,394.43 L690.10,394.63" fill="none" stroke="#5b9bd5" stroke-width="1.9" stroke-linejoin="round" stroke-linecap="round" clip-path="url(#c2)"/>
<path d="M448.80,373.56 L450.66,369.28 L452.51,370.11 L454.37,374.20 L456.22,379.51 L458.08,383.71 L459.94,386.95 L461.79,390.88 L463.65,395.17 L465.51,396.89 L467.36,398.79 L469.22,399.84 L471.07,402.21 L472.93,402.98 L474.79,403.00 L476.64,404.57 L478.50,405.58 L480.35,405.50 L482.21,405.95 L484.07,406.80 L485.92,406.53 L487.78,406.62 L489.64,407.48 L491.49,407.11 L493.35,407.98 L495.20,407.71 L497.06,408.03 L498.92,407.88 L500.77,406.90 L502.63,407.49 L504.48,406.40 L506.34,406.75 L508.20,406.19 L510.05,405.51 L511.91,405.40 L513.77,405.78 L515.62,404.83 L517.48,404.41 L519.33,404.43 L521.19,403.99 L523.05,402.45 L524.90,402.36 L526.76,402.21 L528.61,401.34 L530.47,401.08 L532.33,399.74 L534.18,399.49 L536.04,399.36 L537.90,397.83 L539.75,398.12 L541.61,397.25 L543.46,396.94 L545.32,395.24 L547.18,395.03 L549.03,393.51 L550.89,393.06 L552.74,391.57 L554.60,390.31 L556.46,389.51 L558.31,388.61 L560.17,387.35 L562.03,386.18 L563.88,384.76 L565.74,384.17 L567.59,382.47 L569.45,381.55 L571.31,378.75 L573.16,376.28 L575.02,375.01 L576.87,372.54 L578.73,369.45 L580.59,366.31 L582.44,363.67 L584.30,359.46 L586.16,355.81 L588.01,352.54 L589.87,347.96 L591.72,343.27 L593.58,338.52 L594.18,337.19 L595.44,332.73 L597.29,325.97 L599.15,319.27 L600.82,313.08 L601.00,311.99 L602.86,301.58 L604.72,291.19 L605.04,289.26 L606.57,279.91 L607.76,272.62 L608.43,272.79 L610.29,272.69 L610.47,272.62 L612.14,281.57 L612.88,285.82 L614.00,292.63 L615.85,304.14 L616.20,306.19 L617.71,313.12 L619.57,322.07 L621.33,330.30 L621.42,330.65 L623.28,335.80 L625.13,340.83 L626.99,345.87 L628.27,349.25 L628.85,350.39 L630.70,353.49 L632.56,357.07 L634.42,360.41 L636.27,363.53 L638.13,365.83 L639.98,369.11 L641.84,371.01 L643.70,374.00 L645.55,376.25 L647.41,378.48 L649.26,379.60 L651.12,381.39 L652.98,383.27 L654.83,384.40 L656.69,386.56 L658.55,387.43 L660.40,387.31 L662.26,388.45 L664.11,388.78 L665.97,389.97 L667.83,389.83 L669.68,390.82 L671.54,391.87 L673.39,391.48 L675.25,392.55 L677.11,393.20 L678.96,393.77 L680.82,394.46 L682.68,394.55 L684.53,394.11 L686.39,394.98 L688.24,395.01 L690.10,394.94" fill="none" stroke="#2b5f9e" stroke-width="1.9" stroke-linejoin="round" stroke-linecap="round" clip-path="url(#c2)"/>
<line x1="616.20" y1="253.10" x2="616.20" y2="425.30" stroke="#808080" stroke-width="1.9" />
<rect x="448.80" y="253.10" width="241.30" height="172.20" fill="none" stroke="#2a2a2a" stroke-width="1.5"/>
<line x1="448.80" y1="425.30" x2="448.80" y2="422.30" stroke="#3a3a3a" stroke-width="1.3" />
<line x1="448.80" y1="253.10" x2="448.80" y2="256.10" stroke="#3a3a3a" stroke-width="1.3" />
<text x="448.80" y="446.50" font-family="Liberation Serif" font-size="18.5" text-anchor="middle" fill="#262626" >0</text>
<line x1="478.96" y1="425.30" x2="478.96" y2="422.30" stroke="#3a3a3a" stroke-width="1.3" />
<line x1="478.96" y1="253.10" x2="478.96" y2="256.10" stroke="#3a3a3a" stroke-width="1.3" />
<text x="478.96" y="446.50" font-family="Liberation Serif" font-size="18.5" text-anchor="middle" fill="#262626" textLength="17.90" lengthAdjust="spacingAndGlyphs" >10</text>
<line x1="509.12" y1="425.30" x2="509.12" y2="422.30" stroke="#3a3a3a" stroke-width="1.3" />
<line x1="509.12" y1="253.10" x2="509.12" y2="256.10" stroke="#3a3a3a" stroke-width="1.3" />
<text x="509.12" y="446.50" font-family="Liberation Serif" font-size="18.5" text-anchor="middle" fill="#262626" textLength="17.90" lengthAdjust="spacingAndGlyphs" >20</text>
<line x1="539.29" y1="425.30" x2="539.29" y2="422.30" stroke="#3a3a3a" stroke-width="1.3" />
<line x1="539.29" y1="253.10" x2="539.29" y2="256.10" stroke="#3a3a3a" stroke-width="1.3" />
<text x="539.29" y="446.50" font-family="Liberation Serif" font-size="18.5" text-anchor="middle" fill="#262626" textLength="17.90" lengthAdjust="spacingAndGlyphs" >30</text>
<line x1="569.45" y1="425.30" x2="569.45" y2="422.30" stroke="#3a3a3a" stroke-width="1.3" />
<line x1="569.45" y1="253.10" x2="569.45" y2="256.10" stroke="#3a3a3a" stroke-width="1.3" />
<text x="569.45" y="446.50" font-family="Liberation Serif" font-size="18.5" text-anchor="middle" fill="#262626" textLength="17.90" lengthAdjust="spacingAndGlyphs" >40</text>
<line x1="599.61" y1="425.30" x2="599.61" y2="422.30" stroke="#3a3a3a" stroke-width="1.3" />
<line x1="599.61" y1="253.10" x2="599.61" y2="256.10" stroke="#3a3a3a" stroke-width="1.3" />
<text x="599.61" y="446.50" font-family="Liberation Serif" font-size="18.5" text-anchor="middle" fill="#262626" textLength="17.90" lengthAdjust="spacingAndGlyphs" >50</text>
<line x1="629.78" y1="425.30" x2="629.78" y2="422.30" stroke="#3a3a3a" stroke-width="1.3" />
<line x1="629.78" y1="253.10" x2="629.78" y2="256.10" stroke="#3a3a3a" stroke-width="1.3" />
<text x="629.78" y="446.50" font-family="Liberation Serif" font-size="18.5" text-anchor="middle" fill="#262626" textLength="17.90" lengthAdjust="spacingAndGlyphs" >60</text>
<line x1="659.94" y1="425.30" x2="659.94" y2="422.30" stroke="#3a3a3a" stroke-width="1.3" />
<line x1="659.94" y1="253.10" x2="659.94" y2="256.10" stroke="#3a3a3a" stroke-width="1.3" />
<text x="659.94" y="446.50" font-family="Liberation Serif" font-size="18.5" text-anchor="middle" fill="#262626" textLength="17.90" lengthAdjust="spacingAndGlyphs" >70</text>
<line x1="690.10" y1="425.30" x2="690.10" y2="422.30" stroke="#3a3a3a" stroke-width="1.3" />
<line x1="690.10" y1="253.10" x2="690.10" y2="256.10" stroke="#3a3a3a" stroke-width="1.3" />
<text x="690.10" y="446.50" font-family="Liberation Serif" font-size="18.5" text-anchor="middle" fill="#262626" textLength="17.90" lengthAdjust="spacingAndGlyphs" >80</text>
<line x1="448.80" y1="425.30" x2="452.40" y2="425.30" stroke="#3a3a3a" stroke-width="1.3" />
<line x1="690.10" y1="425.30" x2="686.50" y2="425.30" stroke="#3a3a3a" stroke-width="1.3" />
<line x1="448.80" y1="416.66" x2="451.40" y2="416.66" stroke="#222" stroke-width="1.1" />
<line x1="690.10" y1="416.66" x2="687.50" y2="416.66" stroke="#222" stroke-width="1.1" />
<line x1="448.80" y1="411.61" x2="451.40" y2="411.61" stroke="#222" stroke-width="1.1" />
<line x1="690.10" y1="411.61" x2="687.50" y2="411.61" stroke="#222" stroke-width="1.1" />
<line x1="448.80" y1="408.02" x2="451.40" y2="408.02" stroke="#222" stroke-width="1.1" />
<line x1="690.10" y1="408.02" x2="687.50" y2="408.02" stroke="#222" stroke-width="1.1" />
<line x1="448.80" y1="405.24" x2="451.40" y2="405.24" stroke="#222" stroke-width="1.1" />
<line x1="690.10" y1="405.24" x2="687.50" y2="405.24" stroke="#222" stroke-width="1.1" />
<line x1="448.80" y1="402.97" x2="451.40" y2="402.97" stroke="#222" stroke-width="1.1" />
<line x1="690.10" y1="402.97" x2="687.50" y2="402.97" stroke="#222" stroke-width="1.1" />
<line x1="448.80" y1="401.05" x2="451.40" y2="401.05" stroke="#222" stroke-width="1.1" />
<line x1="690.10" y1="401.05" x2="687.50" y2="401.05" stroke="#222" stroke-width="1.1" />
<line x1="448.80" y1="399.38" x2="451.40" y2="399.38" stroke="#222" stroke-width="1.1" />
<line x1="690.10" y1="399.38" x2="687.50" y2="399.38" stroke="#222" stroke-width="1.1" />
<line x1="448.80" y1="397.91" x2="451.40" y2="397.91" stroke="#222" stroke-width="1.1" />
<line x1="690.10" y1="397.91" x2="687.50" y2="397.91" stroke="#222" stroke-width="1.1" />
<line x1="448.80" y1="396.60" x2="452.40" y2="396.60" stroke="#3a3a3a" stroke-width="1.3" />
<line x1="690.10" y1="396.60" x2="686.50" y2="396.60" stroke="#3a3a3a" stroke-width="1.3" />
<line x1="448.80" y1="387.96" x2="451.40" y2="387.96" stroke="#222" stroke-width="1.1" />
<line x1="690.10" y1="387.96" x2="687.50" y2="387.96" stroke="#222" stroke-width="1.1" />
<line x1="448.80" y1="382.91" x2="451.40" y2="382.91" stroke="#222" stroke-width="1.1" />
<line x1="690.10" y1="382.91" x2="687.50" y2="382.91" stroke="#222" stroke-width="1.1" />
<line x1="448.80" y1="379.32" x2="451.40" y2="379.32" stroke="#222" stroke-width="1.1" />
<line x1="690.10" y1="379.32" x2="687.50" y2="379.32" stroke="#222" stroke-width="1.1" />
<line x1="448.80" y1="376.54" x2="451.40" y2="376.54" stroke="#222" stroke-width="1.1" />
<line x1="690.10" y1="376.54" x2="687.50" y2="376.54" stroke="#222" stroke-width="1.1" />
<line x1="448.80" y1="374.27" x2="451.40" y2="374.27" stroke="#222" stroke-width="1.1" />
<line x1="690.10" y1="374.27" x2="687.50" y2="374.27" stroke="#222" stroke-width="1.1" />
<line x1="448.80" y1="372.35" x2="451.40" y2="372.35" stroke="#222" stroke-width="1.1" />
<line x1="690.10" y1="372.35" x2="687.50" y2="372.35" stroke="#222" stroke-width="1.1" />
<line x1="448.80" y1="370.68" x2="451.40" y2="370.68" stroke="#222" stroke-width="1.1" />
<line x1="690.10" y1="370.68" x2="687.50" y2="370.68" stroke="#222" stroke-width="1.1" />
<line x1="448.80" y1="369.21" x2="451.40" y2="369.21" stroke="#222" stroke-width="1.1" />
<line x1="690.10" y1="369.21" x2="687.50" y2="369.21" stroke="#222" stroke-width="1.1" />
<line x1="448.80" y1="367.90" x2="452.40" y2="367.90" stroke="#3a3a3a" stroke-width="1.3" />
<line x1="690.10" y1="367.90" x2="686.50" y2="367.90" stroke="#3a3a3a" stroke-width="1.3" />
<line x1="448.80" y1="359.26" x2="451.40" y2="359.26" stroke="#222" stroke-width="1.1" />
<line x1="690.10" y1="359.26" x2="687.50" y2="359.26" stroke="#222" stroke-width="1.1" />
<line x1="448.80" y1="354.21" x2="451.40" y2="354.21" stroke="#222" stroke-width="1.1" />
<line x1="690.10" y1="354.21" x2="687.50" y2="354.21" stroke="#222" stroke-width="1.1" />
<line x1="448.80" y1="350.62" x2="451.40" y2="350.62" stroke="#222" stroke-width="1.1" />
<line x1="690.10" y1="350.62" x2="687.50" y2="350.62" stroke="#222" stroke-width="1.1" />
<line x1="448.80" y1="347.84" x2="451.40" y2="347.84" stroke="#222" stroke-width="1.1" />
<line x1="690.10" y1="347.84" x2="687.50" y2="347.84" stroke="#222" stroke-width="1.1" />
<line x1="448.80" y1="345.57" x2="451.40" y2="345.57" stroke="#222" stroke-width="1.1" />
<line x1="690.10" y1="345.57" x2="687.50" y2="345.57" stroke="#222" stroke-width="1.1" />
<line x1="448.80" y1="343.65" x2="451.40" y2="343.65" stroke="#222" stroke-width="1.1" />
<line x1="690.10" y1="343.65" x2="687.50" y2="343.65" stroke="#222" stroke-width="1.1" />
<line x1="448.80" y1="341.98" x2="451.40" y2="341.98" stroke="#222" stroke-width="1.1" />
<line x1="690.10" y1="341.98" x2="687.50" y2="341.98" stroke="#222" stroke-width="1.1" />
<line x1="448.80" y1="340.51" x2="451.40" y2="340.51" stroke="#222" stroke-width="1.1" />
<line x1="690.10" y1="340.51" x2="687.50" y2="340.51" stroke="#222" stroke-width="1.1" />
<line x1="448.80" y1="339.20" x2="452.40" y2="339.20" stroke="#3a3a3a" stroke-width="1.3" />
<line x1="690.10" y1="339.20" x2="686.50" y2="339.20" stroke="#3a3a3a" stroke-width="1.3" />
<line x1="448.80" y1="330.56" x2="451.40" y2="330.56" stroke="#222" stroke-width="1.1" />
<line x1="690.10" y1="330.56" x2="687.50" y2="330.56" stroke="#222" stroke-width="1.1" />
<line x1="448.80" y1="325.51" x2="451.40" y2="325.51" stroke="#222" stroke-width="1.1" />
<line x1="690.10" y1="325.51" x2="687.50" y2="325.51" stroke="#222" stroke-width="1.1" />
<line x1="448.80" y1="321.92" x2="451.40" y2="321.92" stroke="#222" stroke-width="1.1" />
<line x1="690.10" y1="321.92" x2="687.50" y2="321.92" stroke="#222" stroke-width="1.1" />
<line x1="448.80" y1="319.14" x2="451.40" y2="319.14" stroke="#222" stroke-width="1.1" />
<line x1="690.10" y1="319.14" x2="687.50" y2="319.14" stroke="#222" stroke-width="1.1" />
<line x1="448.80" y1="316.87" x2="451.40" y2="316.87" stroke="#222" stroke-width="1.1" />
<line x1="690.10" y1="316.87" x2="687.50" y2="316.87" stroke="#222" stroke-width="1.1" />
<line x1="448.80" y1="314.95" x2="451.40" y2="314.95" stroke="#222" stroke-width="1.1" />
<line x1="690.10" y1="314.95" x2="687.50" y2="314.95" stroke="#222" stroke-width="1.1" />
<line x1="448.80" y1="313.28" x2="451.40" y2="313.28" stroke="#222" stroke-width="1.1" />
<line x1="690.10" y1="313.28" x2="687.50" y2="313.28" stroke="#222" stroke-width="1.1" />
<line x1="448.80" y1="311.81" x2="451.40" y2="311.81" stroke="#222" stroke-width="1.1" />
<line x1="690.10" y1="311.81" x2="687.50" y2="311.81" stroke="#222" stroke-width="1.1" />
<line x1="448.80" y1="310.50" x2="452.40" y2="310.50" stroke="#3a3a3a" stroke-width="1.3" />
<line x1="690.10" y1="310.50" x2="686.50" y2="310.50" stroke="#3a3a3a" stroke-width="1.3" />
<line x1="448.80" y1="301.86" x2="451.40" y2="301.86" stroke="#222" stroke-width="1.1" />
<line x1="690.10" y1="301.86" x2="687.50" y2="301.86" stroke="#222" stroke-width="1.1" />
<line x1="448.80" y1="296.81" x2="451.40" y2="296.81" stroke="#222" stroke-width="1.1" />
<line x1="690.10" y1="296.81" x2="687.50" y2="296.81" stroke="#222" stroke-width="1.1" />
<line x1="448.80" y1="293.22" x2="451.40" y2="293.22" stroke="#222" stroke-width="1.1" />
<line x1="690.10" y1="293.22" x2="687.50" y2="293.22" stroke="#222" stroke-width="1.1" />
<line x1="448.80" y1="290.44" x2="451.40" y2="290.44" stroke="#222" stroke-width="1.1" />
<line x1="690.10" y1="290.44" x2="687.50" y2="290.44" stroke="#222" stroke-width="1.1" />
<line x1="448.80" y1="288.17" x2="451.40" y2="288.17" stroke="#222" stroke-width="1.1" />
<line x1="690.10" y1="288.17" x2="687.50" y2="288.17" stroke="#222" stroke-width="1.1" />
<line x1="448.80" y1="286.25" x2="451.40" y2="286.25" stroke="#222" stroke-width="1.1" />
<line x1="690.10" y1="286.25" x2="687.50" y2="286.25" stroke="#222" stroke-width="1.1" />
<line x1="448.80" y1="284.58" x2="451.40" y2="284.58" stroke="#222" stroke-width="1.1" />
<line x1="690.10" y1="284.58" x2="687.50" y2="284.58" stroke="#222" stroke-width="1.1" />
<line x1="448.80" y1="283.11" x2="451.40" y2="283.11" stroke="#222" stroke-width="1.1" />
<line x1="690.10" y1="283.11" x2="687.50" y2="283.11" stroke="#222" stroke-width="1.1" />
<line x1="448.80" y1="281.80" x2="452.40" y2="281.80" stroke="#3a3a3a" stroke-width="1.3" />
<line x1="690.10" y1="281.80" x2="686.50" y2="281.80" stroke="#3a3a3a" stroke-width="1.3" />
<line x1="448.80" y1="273.16" x2="451.40" y2="273.16" stroke="#222" stroke-width="1.1" />
<line x1="690.10" y1="273.16" x2="687.50" y2="273.16" stroke="#222" stroke-width="1.1" />
<line x1="448.80" y1="268.11" x2="451.40" y2="268.11" stroke="#222" stroke-width="1.1" />
<line x1="690.10" y1="268.11" x2="687.50" y2="268.11" stroke="#222" stroke-width="1.1" />
<line x1="448.80" y1="264.52" x2="451.40" y2="264.52" stroke="#222" stroke-width="1.1" />
<line x1="690.10" y1="264.52" x2="687.50" y2="264.52" stroke="#222" stroke-width="1.1" />
<line x1="448.80" y1="261.74" x2="451.40" y2="261.74" stroke="#222" stroke-width="1.1" />
<line x1="690.10" y1="261.74" x2="687.50" y2="261.74" stroke="#222" stroke-width="1.1" />
<line x1="448.80" y1="259.47" x2="451.40" y2="259.47" stroke="#222" stroke-width="1.1" />
<line x1="690.10" y1="259.47" x2="687.50" y2="259.47" stroke="#222" stroke-width="1.1" />
<line x1="448.80" y1="257.55" x2="451.40" y2="257.55" stroke="#222" stroke-width="1.1" />
<line x1="690.10" y1="257.55" x2="687.50" y2="257.55" stroke="#222" stroke-width="1.1" />
<line x1="448.80" y1="255.88" x2="451.40" y2="255.88" stroke="#222" stroke-width="1.1" />
<line x1="690.10" y1="255.88" x2="687.50" y2="255.88" stroke="#222" stroke-width="1.1" />
<line x1="448.80" y1="254.41" x2="451.40" y2="254.41" stroke="#222" stroke-width="1.1" />
<line x1="690.10" y1="254.41" x2="687.50" y2="254.41" stroke="#222" stroke-width="1.1" />
<line x1="448.80" y1="253.10" x2="452.40" y2="253.10" stroke="#3a3a3a" stroke-width="1.3" />
<line x1="690.10" y1="253.10" x2="686.50" y2="253.10" stroke="#3a3a3a" stroke-width="1.3" />
<text x="425.90" y="430.40" font-family="Liberation Serif" font-size="18.5" text-anchor="end" fill="#262626" textLength="19.60" lengthAdjust="spacingAndGlyphs" >10</text>
<text x="426.60" y="423.30" font-family="Liberation Serif" font-size="12.5" text-anchor="start" fill="#262626" textLength="14.80" lengthAdjust="spacingAndGlyphs" >−8</text>
<text x="425.90" y="373.00" font-family="Liberation Serif" font-size="18.5" text-anchor="end" fill="#262626" textLength="19.60" lengthAdjust="spacingAndGlyphs" >10</text>
<text x="426.60" y="365.90" font-family="Liberation Serif" font-size="12.5" text-anchor="start" fill="#262626" textLength="14.80" lengthAdjust="spacingAndGlyphs" >−6</text>
<text x="425.90" y="315.60" font-family="Liberation Serif" font-size="18.5" text-anchor="end" fill="#262626" textLength="19.60" lengthAdjust="spacingAndGlyphs" >10</text>
<text x="426.60" y="308.50" font-family="Liberation Serif" font-size="12.5" text-anchor="start" fill="#262626" textLength="14.80" lengthAdjust="spacingAndGlyphs" >−4</text>
<text x="425.90" y="258.20" font-family="Liberation Serif" font-size="18.5" text-anchor="end" fill="#262626" textLength="19.60" lengthAdjust="spacingAndGlyphs" >10</text>
<text x="426.60" y="251.10" font-family="Liberation Serif" font-size="12.5" text-anchor="start" fill="#262626" textLength="14.80" lengthAdjust="spacingAndGlyphs" >−2</text>
<text x="527.30" y="242.50" font-family="Liberation Serif" font-size="20.5" text-anchor="start" fill="#262626" textLength="57.50" lengthAdjust="spacingAndGlyphs" >region</text>
<text x="592.50" y="242.50" font-family="Liberation Serif" font-size="20.5" text-anchor="start" fill="#262626" font-style="italic" >k</text>
<text x="568.65" y="473.30" font-family="Liberation Serif" font-size="20.5" text-anchor="middle" fill="#262626" textLength="139.00" lengthAdjust="spacingAndGlyphs" >frequency (Hz)</text>
<g transform="translate(395.80 384.40) rotate(-90)">
<text x="0.00" y="0.00" font-family="Liberation Serif" font-size="20.5" text-anchor="start" fill="#262626" textLength="90.50" lengthAdjust="spacingAndGlyphs" >psd (a.u.)</text>
</g>
<clipPath id="c3"><rect x="783.8" y="252.1" width="242.20000000000005" height="172.1"/></clipPath>
<path d="M783.80,376.29 L785.66,374.31 L787.53,373.53 L789.39,379.91 L791.25,384.51 L793.12,390.02 L794.98,393.12 L796.84,396.86 L798.70,398.76 L800.57,400.70 L802.43,403.65 L804.29,404.23 L806.16,404.47 L808.02,405.72 L809.88,406.13 L811.75,406.51 L813.61,406.05 L815.47,406.36 L817.34,406.80 L819.20,407.85 L821.06,406.54 L822.92,406.48 L824.79,406.24 L826.65,405.37 L828.51,404.83 L830.38,404.67 L832.24,403.96 L834.10,404.65 L835.97,404.81 L837.83,404.78 L839.69,405.56 L841.56,405.42 L843.42,404.13 L845.28,403.26 L847.14,403.19 L849.01,401.91 L850.87,402.37 L852.73,401.51 L854.60,400.95 L856.46,399.67 L858.32,399.67 L860.19,399.32 L862.05,399.55 L863.91,398.97 L865.78,398.16 L867.64,398.78 L869.50,398.01 L871.36,397.35 L873.23,396.08 L875.09,394.86 L876.95,394.48 L878.82,393.93 L880.68,393.05 L882.54,392.70 L884.41,390.96 L886.27,390.94 L888.13,390.32 L890.00,389.46 L891.86,388.05 L893.72,387.92 L895.58,386.33 L897.45,386.05 L899.31,384.92 L901.17,384.39 L903.04,382.34 L904.90,381.49 L906.76,380.88 L908.63,379.67 L910.49,377.53 L912.35,376.02 L914.22,373.77 L916.08,372.00 L917.94,369.58 L919.80,366.49 L921.67,363.15 L923.53,358.76 L925.39,355.09 L925.49,355.07 L927.26,349.88 L929.12,344.15 L930.98,338.55 L932.45,334.13 L932.85,331.75 L934.71,321.72 L936.57,311.33 L937.60,305.45 L938.44,299.62 L940.30,287.04 L940.93,282.79 L942.16,274.91 L943.35,267.30 L944.02,268.90 L945.89,273.68 L946.07,274.19 L947.75,287.18 L948.80,295.41 L949.61,300.97 L951.48,313.51 L953.04,323.81 L953.34,324.99 L955.20,331.01 L957.07,337.03 L958.93,343.27 L960.00,346.75 L960.79,348.82 L962.66,353.45 L964.52,358.14 L966.38,362.91 L968.24,367.75 L968.48,368.27 L970.11,369.61 L971.97,371.03 L973.83,372.59 L975.70,374.27 L977.56,377.05 L979.42,377.91 L981.29,379.77 L983.15,380.82 L985.01,381.75 L986.88,383.32 L988.74,384.29 L990.60,384.46 L992.46,386.38 L994.33,386.70 L996.19,387.42 L998.05,388.32 L999.92,388.75 L1001.78,388.82 L1003.64,389.13 L1005.51,390.02 L1007.37,390.80 L1009.23,391.04 L1011.10,390.53 L1012.96,391.06 L1014.82,392.21 L1016.68,391.66 L1018.55,392.13 L1020.41,391.82 L1022.27,390.50 L1024.14,390.86 L1026.00,390.29" fill="none" stroke="#5b9bd5" stroke-width="1.9" stroke-linejoin="round" stroke-linecap="round" clip-path="url(#c3)"/>
<path d="M783.80,376.47 L785.66,373.85 L787.53,374.33 L789.39,379.47 L791.25,384.69 L793.12,389.05 L794.98,394.19 L796.84,397.38 L798.70,399.93 L800.57,401.33 L802.43,402.99 L804.29,404.29 L806.16,404.59 L808.02,406.20 L809.88,405.88 L811.75,405.82 L813.61,406.85 L815.47,406.18 L817.34,406.43 L819.20,406.75 L821.06,407.25 L822.92,406.30 L824.79,405.68 L826.65,405.69 L828.51,405.37 L830.38,404.86 L832.24,404.80 L834.10,404.32 L835.97,405.05 L837.83,405.14 L839.69,405.05 L841.56,404.28 L843.42,404.56 L845.28,404.32 L847.14,402.60 L849.01,402.23 L850.87,401.73 L852.73,401.52 L854.60,401.37 L856.46,401.00 L858.32,400.34 L860.19,399.67 L862.05,399.70 L863.91,398.43 L865.78,397.92 L867.64,398.34 L869.50,396.70 L871.36,396.56 L873.23,395.43 L875.09,395.40 L876.95,394.41 L878.82,394.25 L880.68,393.46 L882.54,392.74 L884.41,392.42 L886.27,391.35 L888.13,390.31 L890.00,389.17 L891.86,388.30 L893.72,387.16 L895.58,386.13 L897.45,385.64 L899.31,384.93 L901.17,383.87 L903.04,382.50 L904.90,381.90 L906.76,381.22 L908.63,379.15 L910.49,378.02 L912.35,376.31 L914.22,374.45 L916.08,372.55 L917.94,370.05 L919.80,365.87 L921.67,362.10 L923.53,359.37 L925.39,355.75 L925.49,355.65 L927.26,349.87 L929.12,344.02 L930.98,338.35 L932.45,333.56 L932.85,331.39 L934.71,321.57 L936.57,311.63 L937.60,306.02 L938.44,300.22 L940.30,286.70 L940.93,282.22 L942.16,274.75 L943.35,267.88 L944.02,269.45 L945.89,273.35 L946.07,273.61 L947.75,287.42 L948.80,295.99 L949.61,301.40 L951.48,313.22 L953.04,323.23 L953.34,324.20 L955.20,330.74 L957.07,337.35 L958.93,343.80 L960.00,347.33 L960.79,349.35 L962.66,353.64 L964.52,358.02 L966.38,362.66 L968.24,367.28 L968.48,367.69 L970.11,369.42 L971.97,371.28 L973.83,373.52 L975.70,375.36 L977.56,376.81 L979.42,378.15 L981.29,380.43 L983.15,380.55 L985.01,381.50 L986.88,383.00 L988.74,384.21 L990.60,385.20 L992.46,385.53 L994.33,386.25 L996.19,386.79 L998.05,388.21 L999.92,388.52 L1001.78,389.62 L1003.64,389.85 L1005.51,390.45 L1007.37,391.26 L1009.23,391.58 L1011.10,390.58 L1012.96,391.60 L1014.82,391.51 L1016.68,391.62 L1018.55,391.75 L1020.41,391.26 L1022.27,391.03 L1024.14,390.71 L1026.00,390.88" fill="none" stroke="#2b5f9e" stroke-width="1.9" stroke-linejoin="round" stroke-linecap="round" clip-path="url(#c3)"/>
<line x1="952.34" y1="252.10" x2="952.34" y2="424.20" stroke="#808080" stroke-width="1.9" />
<rect x="783.80" y="252.10" width="242.20" height="172.10" fill="none" stroke="#2a2a2a" stroke-width="1.5"/>
<line x1="783.80" y1="424.20" x2="783.80" y2="421.20" stroke="#3a3a3a" stroke-width="1.3" />
<line x1="783.80" y1="252.10" x2="783.80" y2="255.10" stroke="#3a3a3a" stroke-width="1.3" />
<text x="783.80" y="445.40" font-family="Liberation Serif" font-size="18.5" text-anchor="middle" fill="#262626" >0</text>
<line x1="814.07" y1="424.20" x2="814.07" y2="421.20" stroke="#3a3a3a" stroke-width="1.3" />
<line x1="814.07" y1="252.10" x2="814.07" y2="255.10" stroke="#3a3a3a" stroke-width="1.3" />
<text x="814.07" y="445.40" font-family="Liberation Serif" font-size="18.5" text-anchor="middle" fill="#262626" textLength="17.90" lengthAdjust="spacingAndGlyphs" >10</text>
<line x1="844.35" y1="424.20" x2="844.35" y2="421.20" stroke="#3a3a3a" stroke-width="1.3" />
<line x1="844.35" y1="252.10" x2="844.35" y2="255.10" stroke="#3a3a3a" stroke-width="1.3" />
<text x="844.35" y="445.40" font-family="Liberation Serif" font-size="18.5" text-anchor="middle" fill="#262626" textLength="17.90" lengthAdjust="spacingAndGlyphs" >20</text>
<line x1="874.62" y1="424.20" x2="874.62" y2="421.20" stroke="#3a3a3a" stroke-width="1.3" />
<line x1="874.62" y1="252.10" x2="874.62" y2="255.10" stroke="#3a3a3a" stroke-width="1.3" />
<text x="874.62" y="445.40" font-family="Liberation Serif" font-size="18.5" text-anchor="middle" fill="#262626" textLength="17.90" lengthAdjust="spacingAndGlyphs" >30</text>
<line x1="904.90" y1="424.20" x2="904.90" y2="421.20" stroke="#3a3a3a" stroke-width="1.3" />
<line x1="904.90" y1="252.10" x2="904.90" y2="255.10" stroke="#3a3a3a" stroke-width="1.3" />
<text x="904.90" y="445.40" font-family="Liberation Serif" font-size="18.5" text-anchor="middle" fill="#262626" textLength="17.90" lengthAdjust="spacingAndGlyphs" >40</text>
<line x1="935.17" y1="424.20" x2="935.17" y2="421.20" stroke="#3a3a3a" stroke-width="1.3" />
<line x1="935.17" y1="252.10" x2="935.17" y2="255.10" stroke="#3a3a3a" stroke-width="1.3" />
<text x="935.17" y="445.40" font-family="Liberation Serif" font-size="18.5" text-anchor="middle" fill="#262626" textLength="17.90" lengthAdjust="spacingAndGlyphs" >50</text>
<line x1="965.45" y1="424.20" x2="965.45" y2="421.20" stroke="#3a3a3a" stroke-width="1.3" />
<line x1="965.45" y1="252.10" x2="965.45" y2="255.10" stroke="#3a3a3a" stroke-width="1.3" />
<text x="965.45" y="445.40" font-family="Liberation Serif" font-size="18.5" text-anchor="middle" fill="#262626" textLength="17.90" lengthAdjust="spacingAndGlyphs" >60</text>
<line x1="995.73" y1="424.20" x2="995.73" y2="421.20" stroke="#3a3a3a" stroke-width="1.3" />
<line x1="995.73" y1="252.10" x2="995.73" y2="255.10" stroke="#3a3a3a" stroke-width="1.3" />
<text x="995.73" y="445.40" font-family="Liberation Serif" font-size="18.5" text-anchor="middle" fill="#262626" textLength="17.90" lengthAdjust="spacingAndGlyphs" >70</text>
<line x1="1026.00" y1="424.20" x2="1026.00" y2="421.20" stroke="#3a3a3a" stroke-width="1.3" />
<line x1="1026.00" y1="252.10" x2="1026.00" y2="255.10" stroke="#3a3a3a" stroke-width="1.3" />
<text x="1026.00" y="445.40" font-family="Liberation Serif" font-size="18.5" text-anchor="middle" fill="#262626" textLength="17.90" lengthAdjust="spacingAndGlyphs" >80</text>
<line x1="783.80" y1="424.20" x2="787.40" y2="424.20" stroke="#3a3a3a" stroke-width="1.3" />
<line x1="1026.00" y1="424.20" x2="1022.40" y2="424.20" stroke="#3a3a3a" stroke-width="1.3" />
<line x1="783.80" y1="415.57" x2="786.40" y2="415.57" stroke="#222" stroke-width="1.1" />
<line x1="1026.00" y1="415.57" x2="1023.40" y2="415.57" stroke="#222" stroke-width="1.1" />
<line x1="783.80" y1="410.51" x2="786.40" y2="410.51" stroke="#222" stroke-width="1.1" />
<line x1="1026.00" y1="410.51" x2="1023.40" y2="410.51" stroke="#222" stroke-width="1.1" />
<line x1="783.80" y1="406.93" x2="786.40" y2="406.93" stroke="#222" stroke-width="1.1" />
<line x1="1026.00" y1="406.93" x2="1023.40" y2="406.93" stroke="#222" stroke-width="1.1" />
<line x1="783.80" y1="404.15" x2="786.40" y2="404.15" stroke="#222" stroke-width="1.1" />
<line x1="1026.00" y1="404.15" x2="1023.40" y2="404.15" stroke="#222" stroke-width="1.1" />
<line x1="783.80" y1="401.88" x2="786.40" y2="401.88" stroke="#222" stroke-width="1.1" />
<line x1="1026.00" y1="401.88" x2="1023.40" y2="401.88" stroke="#222" stroke-width="1.1" />
<line x1="783.80" y1="399.96" x2="786.40" y2="399.96" stroke="#222" stroke-width="1.1" />
<line x1="1026.00" y1="399.96" x2="1023.40" y2="399.96" stroke="#222" stroke-width="1.1" />
<line x1="783.80" y1="398.30" x2="786.40" y2="398.30" stroke="#222" stroke-width="1.1" />
<line x1="1026.00" y1="398.30" x2="1023.40" y2="398.30" stroke="#222" stroke-width="1.1" />
<line x1="783.80" y1="396.83" x2="786.40" y2="396.83" stroke="#222" stroke-width="1.1" />
<line x1="1026.00" y1="396.83" x2="1023.40" y2="396.83" stroke="#222" stroke-width="1.1" />
<line x1="783.80" y1="395.52" x2="787.40" y2="395.52" stroke="#3a3a3a" stroke-width="1.3" />
<line x1="1026.00" y1="395.52" x2="1022.40" y2="395.52" stroke="#3a3a3a" stroke-width="1.3" />
<line x1="783.80" y1="386.88" x2="786.40" y2="386.88" stroke="#222" stroke-width="1.1" />
<line x1="1026.00" y1="386.88" x2="1023.40" y2="386.88" stroke="#222" stroke-width="1.1" />
<line x1="783.80" y1="381.83" x2="786.40" y2="381.83" stroke="#222" stroke-width="1.1" />
<line x1="1026.00" y1="381.83" x2="1023.40" y2="381.83" stroke="#222" stroke-width="1.1" />
<line x1="783.80" y1="378.25" x2="786.40" y2="378.25" stroke="#222" stroke-width="1.1" />
<line x1="1026.00" y1="378.25" x2="1023.40" y2="378.25" stroke="#222" stroke-width="1.1" />
<line x1="783.80" y1="375.47" x2="786.40" y2="375.47" stroke="#222" stroke-width="1.1" />
<line x1="1026.00" y1="375.47" x2="1023.40" y2="375.47" stroke="#222" stroke-width="1.1" />
<line x1="783.80" y1="373.20" x2="786.40" y2="373.20" stroke="#222" stroke-width="1.1" />
<line x1="1026.00" y1="373.20" x2="1023.40" y2="373.20" stroke="#222" stroke-width="1.1" />
<line x1="783.80" y1="371.28" x2="786.40" y2="371.28" stroke="#222" stroke-width="1.1" />
<line x1="1026.00" y1="371.28" x2="1023.40" y2="371.28" stroke="#222" stroke-width="1.1" />
<line x1="783.80" y1="369.61" x2="786.40" y2="369.61" stroke="#222" stroke-width="1.1" />
<line x1="1026.00" y1="369.61" x2="1023.40" y2="369.61" stroke="#222" stroke-width="1.1" />
<line x1="783.80" y1="368.15" x2="786.40" y2="368.15" stroke="#222" stroke-width="1.1" />
<line x1="1026.00" y1="368.15" x2="1023.40" y2="368.15" stroke="#222" stroke-width="1.1" />
<line x1="783.80" y1="366.83" x2="787.40" y2="366.83" stroke="#3a3a3a" stroke-width="1.3" />
<line x1="1026.00" y1="366.83" x2="1022.40" y2="366.83" stroke="#3a3a3a" stroke-width="1.3" />
<line x1="783.80" y1="358.20" x2="786.40" y2="358.20" stroke="#222" stroke-width="1.1" />
<line x1="1026.00" y1="358.20" x2="1023.40" y2="358.20" stroke="#222" stroke-width="1.1" />
<line x1="783.80" y1="353.15" x2="786.40" y2="353.15" stroke="#222" stroke-width="1.1" />
<line x1="1026.00" y1="353.15" x2="1023.40" y2="353.15" stroke="#222" stroke-width="1.1" />
<line x1="783.80" y1="349.56" x2="786.40" y2="349.56" stroke="#222" stroke-width="1.1" />
<line x1="1026.00" y1="349.56" x2="1023.40" y2="349.56" stroke="#222" stroke-width="1.1" />
<line x1="783.80" y1="346.78" x2="786.40" y2="346.78" stroke="#222" stroke-width="1.1" />
<line x1="1026.00" y1="346.78" x2="1023.40" y2="346.78" stroke="#222" stroke-width="1.1" />
<line x1="783.80" y1="344.51" x2="786.40" y2="344.51" stroke="#222" stroke-width="1.1" />
<line x1="1026.00" y1="344.51" x2="1023.40" y2="344.51" stroke="#222" stroke-width="1.1" />
<line x1="783.80" y1="342.59" x2="786.40" y2="342.59" stroke="#222" stroke-width="1.1" />
<line x1="1026.00" y1="342.59" x2="1023.40" y2="342.59" stroke="#222" stroke-width="1.1" />
<line x1="783.80" y1="340.93" x2="786.40" y2="340.93" stroke="#222" stroke-width="1.1" />
<line x1="1026.00" y1="340.93" x2="1023.40" y2="340.93" stroke="#222" stroke-width="1.1" />
<line x1="783.80" y1="339.46" x2="786.40" y2="339.46" stroke="#222" stroke-width="1.1" />
<line x1="1026.00" y1="339.46" x2="1023.40" y2="339.46" stroke="#222" stroke-width="1.1" />
<line x1="783.80" y1="338.15" x2="787.40" y2="338.15" stroke="#3a3a3a" stroke-width="1.3" />
<line x1="1026.00" y1="338.15" x2="1022.40" y2="338.15" stroke="#3a3a3a" stroke-width="1.3" />
<line x1="783.80" y1="329.52" x2="786.40" y2="329.52" stroke="#222" stroke-width="1.1" />
<line x1="1026.00" y1="329.52" x2="1023.40" y2="329.52" stroke="#222" stroke-width="1.1" />
<line x1="783.80" y1="324.46" x2="786.40" y2="324.46" stroke="#222" stroke-width="1.1" />
<line x1="1026.00" y1="324.46" x2="1023.40" y2="324.46" stroke="#222" stroke-width="1.1" />
<line x1="783.80" y1="320.88" x2="786.40" y2="320.88" stroke="#222" stroke-width="1.1" />
<line x1="1026.00" y1="320.88" x2="1023.40" y2="320.88" stroke="#222" stroke-width="1.1" />
<line x1="783.80" y1="318.10" x2="786.40" y2="318.10" stroke="#222" stroke-width="1.1" />
<line x1="1026.00" y1="318.10" x2="1023.40" y2="318.10" stroke="#222" stroke-width="1.1" />
<line x1="783.80" y1="315.83" x2="786.40" y2="315.83" stroke="#222" stroke-width="1.1" />
<line x1="1026.00" y1="315.83" x2="1023.40" y2="315.83" stroke="#222" stroke-width="1.1" />
<line x1="783.80" y1="313.91" x2="786.40" y2="313.91" stroke="#222" stroke-width="1.1" />
<line x1="1026.00" y1="313.91" x2="1023.40" y2="313.91" stroke="#222" stroke-width="1.1" />
<line x1="783.80" y1="312.25" x2="786.40" y2="312.25" stroke="#222" stroke-width="1.1" />
<line x1="1026.00" y1="312.25" x2="1023.40" y2="312.25" stroke="#222" stroke-width="1.1" />
<line x1="783.80" y1="310.78" x2="786.40" y2="310.78" stroke="#222" stroke-width="1.1" />
<line x1="1026.00" y1="310.78" x2="1023.40" y2="310.78" stroke="#222" stroke-width="1.1" />
<line x1="783.80" y1="309.47" x2="787.40" y2="309.47" stroke="#3a3a3a" stroke-width="1.3" />
<line x1="1026.00" y1="309.47" x2="1022.40" y2="309.47" stroke="#3a3a3a" stroke-width="1.3" />
<line x1="783.80" y1="300.83" x2="786.40" y2="300.83" stroke="#222" stroke-width="1.1" />
<line x1="1026.00" y1="300.83" x2="1023.40" y2="300.83" stroke="#222" stroke-width="1.1" />
<line x1="783.80" y1="295.78" x2="786.40" y2="295.78" stroke="#222" stroke-width="1.1" />
<line x1="1026.00" y1="295.78" x2="1023.40" y2="295.78" stroke="#222" stroke-width="1.1" />
<line x1="783.80" y1="292.20" x2="786.40" y2="292.20" stroke="#222" stroke-width="1.1" />
<line x1="1026.00" y1="292.20" x2="1023.40" y2="292.20" stroke="#222" stroke-width="1.1" />
<line x1="783.80" y1="289.42" x2="786.40" y2="289.42" stroke="#222" stroke-width="1.1" />
<line x1="1026.00" y1="289.42" x2="1023.40" y2="289.42" stroke="#222" stroke-width="1.1" />
<line x1="783.80" y1="287.15" x2="786.40" y2="287.15" stroke="#222" stroke-width="1.1" />
<line x1="1026.00" y1="287.15" x2="1023.40" y2="287.15" stroke="#222" stroke-width="1.1" />
<line x1="783.80" y1="285.23" x2="786.40" y2="285.23" stroke="#222" stroke-width="1.1" />
<line x1="1026.00" y1="285.23" x2="1023.40" y2="285.23" stroke="#222" stroke-width="1.1" />
<line x1="783.80" y1="283.56" x2="786.40" y2="283.56" stroke="#222" stroke-width="1.1" />
<line x1="1026.00" y1="283.56" x2="1023.40" y2="283.56" stroke="#222" stroke-width="1.1" />
<line x1="783.80" y1="282.10" x2="786.40" y2="282.10" stroke="#222" stroke-width="1.1" />
<line x1="1026.00" y1="282.10" x2="1023.40" y2="282.10" stroke="#222" stroke-width="1.1" />
<line x1="783.80" y1="280.78" x2="787.40" y2="280.78" stroke="#3a3a3a" stroke-width="1.3" />
<line x1="1026.00" y1="280.78" x2="1022.40" y2="280.78" stroke="#3a3a3a" stroke-width="1.3" />
<line x1="783.80" y1="272.15" x2="786.40" y2="272.15" stroke="#222" stroke-width="1.1" />
<line x1="1026.00" y1="272.15" x2="1023.40" y2="272.15" stroke="#222" stroke-width="1.1" />
<line x1="783.80" y1="267.10" x2="786.40" y2="267.10" stroke="#222" stroke-width="1.1" />
<line x1="1026.00" y1="267.10" x2="1023.40" y2="267.10" stroke="#222" stroke-width="1.1" />
<line x1="783.80" y1="263.51" x2="786.40" y2="263.51" stroke="#222" stroke-width="1.1" />
<line x1="1026.00" y1="263.51" x2="1023.40" y2="263.51" stroke="#222" stroke-width="1.1" />
<line x1="783.80" y1="260.73" x2="786.40" y2="260.73" stroke="#222" stroke-width="1.1" />
<line x1="1026.00" y1="260.73" x2="1023.40" y2="260.73" stroke="#222" stroke-width="1.1" />
<line x1="783.80" y1="258.46" x2="786.40" y2="258.46" stroke="#222" stroke-width="1.1" />
<line x1="1026.00" y1="258.46" x2="1023.40" y2="258.46" stroke="#222" stroke-width="1.1" />
<line x1="783.80" y1="256.54" x2="786.40" y2="256.54" stroke="#222" stroke-width="1.1" />
<line x1="1026.00" y1="256.54" x2="1023.40" y2="256.54" stroke="#222" stroke-width="1.1" />
<line x1="783.80" y1="254.88" x2="786.40" y2="254.88" stroke="#222" stroke-width="1.1" />
<line x1="1026.00" y1="254.88" x2="1023.40" y2="254.88" stroke="#222" stroke-width="1.1" />
<line x1="783.80" y1="253.41" x2="786.40" y2="253.41" stroke="#222" stroke-width="1.1" />
<line x1="1026.00" y1="253.41" x2="1023.40" y2="253.41" stroke="#222" stroke-width="1.1" />
<line x1="783.80" y1="252.10" x2="787.40" y2="252.10" stroke="#3a3a3a" stroke-width="1.3" />
<line x1="1026.00" y1="252.10" x2="1022.40" y2="252.10" stroke="#3a3a3a" stroke-width="1.3" />
<text x="760.90" y="429.30" font-family="Liberation Serif" font-size="18.5" text-anchor="end" fill="#262626" textLength="19.60" lengthAdjust="spacingAndGlyphs" >10</text>
<text x="761.60" y="422.20" font-family="Liberation Serif" font-size="12.5" text-anchor="start" fill="#262626" textLength="14.80" lengthAdjust="spacingAndGlyphs" >−8</text>
<text x="760.90" y="371.93" font-family="Liberation Serif" font-size="18.5" text-anchor="end" fill="#262626" textLength="19.60" lengthAdjust="spacingAndGlyphs" >10</text>
<text x="761.60" y="364.83" font-family="Liberation Serif" font-size="12.5" text-anchor="start" fill="#262626" textLength="14.80" lengthAdjust="spacingAndGlyphs" >−6</text>
<text x="760.90" y="314.57" font-family="Liberation Serif" font-size="18.5" text-anchor="end" fill="#262626" textLength="19.60" lengthAdjust="spacingAndGlyphs" >10</text>
<text x="761.60" y="307.47" font-family="Liberation Serif" font-size="12.5" text-anchor="start" fill="#262626" textLength="14.80" lengthAdjust="spacingAndGlyphs" >−4</text>
<text x="760.90" y="257.20" font-family="Liberation Serif" font-size="18.5" text-anchor="end" fill="#262626" textLength="19.60" lengthAdjust="spacingAndGlyphs" >10</text>
<text x="761.60" y="250.10" font-family="Liberation Serif" font-size="12.5" text-anchor="start" fill="#262626" textLength="14.80" lengthAdjust="spacingAndGlyphs" >−2</text>
<text x="865.80" y="241.50" font-family="Liberation Serif" font-size="20.5" text-anchor="start" fill="#262626" textLength="57.50" lengthAdjust="spacingAndGlyphs" >region</text>
<text x="931.00" y="241.50" font-family="Liberation Serif" font-size="20.5" text-anchor="start" fill="#262626" font-style="italic" >l</text>
<text x="904.10" y="472.20" font-family="Liberation Serif" font-size="20.5" text-anchor="middle" fill="#262626" textLength="139.00" lengthAdjust="spacingAndGlyphs" >frequency (Hz)</text>
<g transform="translate(730.80 383.35) rotate(-90)">
<text x="0.00" y="0.00" font-family="Liberation Serif" font-size="20.5" text-anchor="start" fill="#262626" textLength="90.50" lengthAdjust="spacingAndGlyphs" >psd (a.u.)</text>
</g>
<line x1="118.30" y1="269.00" x2="137.20" y2="269.00" stroke="#5b9bd5" stroke-width="1.8" />
<text x="139.80" y="273.30" font-family="Liberation Serif" font-size="19.5" text-anchor="start" fill="#262626" textLength="63.50" lengthAdjust="spacingAndGlyphs" >baseline</text>
<line x1="118.30" y1="293.00" x2="137.20" y2="293.00" stroke="#2b5f9e" stroke-width="1.8" />
<text x="139.80" y="297.80" font-family="Liberation Serif" font-size="19.5" text-anchor="start" fill="#262626" textLength="13.20" lengthAdjust="spacingAndGlyphs" >Δ</text>
<text x="154.60" y="297.80" font-family="Liberation Serif" font-size="19.5" text-anchor="start" fill="#262626" font-style="italic" >P</text>
<text x="167.00" y="302.80" font-family="Liberation Serif" font-size="13.5" text-anchor="start" fill="#262626" font-style="italic" >E</text>
<text x="171.00" y="287.80" font-family="Liberation Serif" font-size="13" text-anchor="start" fill="#262626" font-style="italic" >j</text>
<text x="183.80" y="297.80" font-family="Liberation Serif" font-size="19.5" text-anchor="start" fill="#262626" textLength="12.60" lengthAdjust="spacingAndGlyphs" >=</text>
<text x="202.50" y="297.80" font-family="Liberation Serif" font-size="19.5" text-anchor="start" fill="#262626" textLength="22.50" lengthAdjust="spacingAndGlyphs" >0.1</text>
<line x1="118.30" y1="315.80" x2="137.20" y2="315.80" stroke="#808080" stroke-width="1.8" />
<text x="140.50" y="320.40" font-family="Liberation Serif" font-size="19.5" text-anchor="start" fill="#262626" font-style="italic" >f</text>
<text x="148.60" y="321.80" font-family="Liberation Serif" font-size="14" text-anchor="start" fill="#262626" textLength="28.50" lengthAdjust="spacingAndGlyphs" >peak,</text>
<text x="178.30" y="321.80" font-family="Liberation Serif" font-size="14" text-anchor="start" fill="#262626" font-style="italic" >j</text>
<text x="27.50" y="232.20" font-family="Liberation Sans" font-size="33" text-anchor="start" fill="#000" textLength="22.63" lengthAdjust="spacingAndGlyphs" >C</text>
<clipPath id="cd"><rect x="1090.4" y="246.9" width="200.39999999999986" height="199.79999999999998"/></clipPath>
<g clip-path="url(#cd)">
<rect x="1110.9" y="241.90" width="34.0" height="204.80" fill="#999999" stroke="#f2f2f2" stroke-width="0.8"/>
<rect x="1144.9" y="379.0" width="34.8" height="67.70" fill="#999999" stroke="#f2f2f2" stroke-width="0.8"/>
<rect x="1115.2" y="430.7" width="39.90" height="16.00" fill="#333333" stroke="#e8e8e8" stroke-width="0.8"/>
<rect x="1155.1" y="404.9" width="39.90" height="41.80" fill="#333333" stroke="#e8e8e8" stroke-width="0.8"/>
<rect x="1195.0" y="329.4" width="39.90" height="117.30" fill="#333333" stroke="#e8e8e8" stroke-width="0.8"/>
<rect x="1234.9" y="355.6" width="40.20" height="91.10" fill="#333333" stroke="#e8e8e8" stroke-width="0.8"/>
</g>
<rect x="1090.40" y="246.90" width="200.40" height="199.80" fill="none" stroke="#3a3a3a" stroke-width="1.2"/>
<line x1="1090.40" y1="446.70" x2="1090.40" y2="443.20" stroke="#3a3a3a" stroke-width="1.2" />
<line x1="1090.40" y1="246.90" x2="1090.40" y2="250.40" stroke="#3a3a3a" stroke-width="1.2" />
<text x="1090.40" y="468.50" font-family="Liberation Serif" font-size="18.5" text-anchor="middle" fill="#262626" textLength="18.40" lengthAdjust="spacingAndGlyphs" >52</text>
<line x1="1190.60" y1="446.70" x2="1190.60" y2="443.20" stroke="#3a3a3a" stroke-width="1.2" />
<line x1="1190.60" y1="246.90" x2="1190.60" y2="250.40" stroke="#3a3a3a" stroke-width="1.2" />
<text x="1190.60" y="468.50" font-family="Liberation Serif" font-size="18.5" text-anchor="middle" fill="#262626" textLength="18.40" lengthAdjust="spacingAndGlyphs" >54</text>
<line x1="1290.80" y1="446.70" x2="1290.80" y2="443.20" stroke="#3a3a3a" stroke-width="1.2" />
<line x1="1290.80" y1="246.90" x2="1290.80" y2="250.40" stroke="#3a3a3a" stroke-width="1.2" />
<text x="1290.80" y="468.50" font-family="Liberation Serif" font-size="18.5" text-anchor="middle" fill="#262626" textLength="18.40" lengthAdjust="spacingAndGlyphs" >56</text>
<line x1="1090.40" y1="446.70" x2="1093.90" y2="446.70" stroke="#3a3a3a" stroke-width="1.2" />
<line x1="1290.80" y1="446.70" x2="1287.30" y2="446.70" stroke="#3a3a3a" stroke-width="1.2" />
<text x="1084.20" y="452.60" font-family="Liberation Serif" font-size="18.5" text-anchor="end" fill="#262626" >0</text>
<line x1="1090.40" y1="381.10" x2="1093.90" y2="381.10" stroke="#3a3a3a" stroke-width="1.2" />
<line x1="1290.80" y1="381.10" x2="1287.30" y2="381.10" stroke="#3a3a3a" stroke-width="1.2" />
<text x="1084.20" y="387.00" font-family="Liberation Serif" font-size="18.5" text-anchor="end" fill="#262626" textLength="18.40" lengthAdjust="spacingAndGlyphs" >20</text>
<line x1="1090.40" y1="315.50" x2="1093.90" y2="315.50" stroke="#3a3a3a" stroke-width="1.2" />
<line x1="1290.80" y1="315.50" x2="1287.30" y2="315.50" stroke="#3a3a3a" stroke-width="1.2" />
<text x="1084.20" y="321.40" font-family="Liberation Serif" font-size="18.5" text-anchor="end" fill="#262626" textLength="18.40" lengthAdjust="spacingAndGlyphs" >40</text>
<line x1="1090.40" y1="249.90" x2="1093.90" y2="249.90" stroke="#3a3a3a" stroke-width="1.2" />
<line x1="1290.80" y1="249.90" x2="1287.30" y2="249.90" stroke="#3a3a3a" stroke-width="1.2" />
<text x="1084.20" y="255.80" font-family="Liberation Serif" font-size="18.5" text-anchor="end" fill="#262626" textLength="18.40" lengthAdjust="spacingAndGlyphs" >60</text>
<text x="1190.60" y="496.30" font-family="Liberation Serif" font-size="20.5" text-anchor="middle" fill="#262626" textLength="146.50" lengthAdjust="spacingAndGlyphs" >frequency, (Hz)</text>
<g transform="translate(1056.20 372.40) rotate(-90)">
<text x="0.00" y="0.00" font-family="Liberation Serif" font-size="20.5" text-anchor="start" fill="#262626" textLength="51.50" lengthAdjust="spacingAndGlyphs" >count</text>
</g>
<line x1="1176.00" y1="271.50" x2="1195.70" y2="271.50" stroke="#999999" stroke-width="3.0" />
<line x1="1176.00" y1="299.40" x2="1195.70" y2="299.40" stroke="#333333" stroke-width="3.0" />
<text x="1198.80" y="276.50" font-family="Liberation Serif" font-size="20.5" text-anchor="start" fill="#262626" font-style="italic" stroke="#262626" stroke-width="0.35">f</text>
<text x="1210.20" y="267.10" font-family="Liberation Serif" font-size="14" text-anchor="start" fill="#262626" textLength="58.00" lengthAdjust="spacingAndGlyphs" >peak,base</text>
<text x="1207.60" y="282.90" font-family="Liberation Serif" font-size="14" text-anchor="start" fill="#262626" font-style="italic" >j</text>
<text x="1198.80" y="304.30" font-family="Liberation Serif" font-size="20.5" text-anchor="start" fill="#262626" font-style="italic" stroke="#262626" stroke-width="0.35">f</text>
<text x="1210.20" y="294.90" font-family="Liberation Serif" font-size="14" text-anchor="start" fill="#262626" textLength="51.20" lengthAdjust="spacingAndGlyphs" >peak,exc</text>
<text x="1207.60" y="310.70" font-family="Liberation Serif" font-size="14" text-anchor="start" fill="#262626" font-style="italic" >j</text>
<text x="1041.20" y="239.90" font-family="Liberation Sans" font-size="33" text-anchor="start" fill="#000" textLength="22.63" lengthAdjust="spacingAndGlyphs" >D</text>
<line x1="181.80" y1="506.50" x2="1034.00" y2="506.50" stroke="#555555" stroke-width="2.9" />
<path d="M1044.9,506.5 L1032.5,500.5 L1032.5,512.5 Z" fill="#555555"/>
<circle cx="234.4" cy="506.5" r="7.4" fill="#dd0a0a"/>
<circle cx="571.1" cy="506.5" r="7.4" fill="#8b0b0b"/>
<circle cx="906.9" cy="506.5" r="7.4" fill="#4a0808"/>
<text x="101.00" y="496.30" font-family="Liberation Sans" font-size="19.5" text-anchor="middle" fill="#000" textLength="124.50" lengthAdjust="spacingAndGlyphs" >distance from</text>
<text x="30.10" y="521.80" font-family="Liberation Sans" font-size="19.5" text-anchor="start" fill="#000" textLength="131.00" lengthAdjust="spacingAndGlyphs" >excited region</text>
<text x="168.50" y="521.80" font-family="Liberation Sans" font-size="19.5" text-anchor="start" fill="#000" font-style="italic" >j</text>
<rect x="96.00" y="719.80" width="24.76" height="36.30" fill="#86a6d6" stroke="#2e3a4e" stroke-width="0.9"/>
<rect x="120.76" y="729.70" width="24.76" height="26.40" fill="#86a6d6" stroke="#2e3a4e" stroke-width="0.9"/>
<rect x="170.29" y="594.40" width="24.76" height="161.70" fill="#86a6d6" stroke="#2e3a4e" stroke-width="0.9"/>
<rect x="219.81" y="709.90" width="24.76" height="46.20" fill="#86a6d6" stroke="#2e3a4e" stroke-width="0.9"/>
<rect x="96.00" y="558.10" width="198.10" height="198.00" fill="none" stroke="#3a3a3a" stroke-width="1.2"/>
<line x1="96.00" y1="756.10" x2="96.00" y2="752.60" stroke="#3a3a3a" stroke-width="1.2" />
<line x1="96.00" y1="558.10" x2="96.00" y2="561.60" stroke="#3a3a3a" stroke-width="1.2" />
<text x="96.00" y="778.10" font-family="Liberation Serif" font-size="18.5" text-anchor="middle" fill="#262626" >0</text>
<line x1="195.05" y1="756.10" x2="195.05" y2="752.60" stroke="#3a3a3a" stroke-width="1.2" />
<line x1="195.05" y1="558.10" x2="195.05" y2="561.60" stroke="#3a3a3a" stroke-width="1.2" />
<text x="195.05" y="778.10" font-family="Liberation Serif" font-size="18.5" text-anchor="middle" fill="#262626" >2</text>
<line x1="294.10" y1="756.10" x2="294.10" y2="752.60" stroke="#3a3a3a" stroke-width="1.2" />
<line x1="294.10" y1="558.10" x2="294.10" y2="561.60" stroke="#3a3a3a" stroke-width="1.2" />
<text x="294.10" y="778.10" font-family="Liberation Serif" font-size="18.5" text-anchor="middle" fill="#262626" >4</text>
<line x1="96.00" y1="756.10" x2="99.50" y2="756.10" stroke="#3a3a3a" stroke-width="1.2" />
<line x1="294.10" y1="756.10" x2="290.60" y2="756.10" stroke="#3a3a3a" stroke-width="1.2" />
<text x="90.40" y="761.80" font-family="Liberation Serif" font-size="18.5" text-anchor="end" fill="#262626" >0</text>
<line x1="96.00" y1="690.10" x2="99.50" y2="690.10" stroke="#3a3a3a" stroke-width="1.2" />
<line x1="294.10" y1="690.10" x2="290.60" y2="690.10" stroke="#3a3a3a" stroke-width="1.2" />
<text x="90.40" y="695.80" font-family="Liberation Serif" font-size="18.5" text-anchor="end" fill="#262626" textLength="18.30" lengthAdjust="spacingAndGlyphs" >20</text>
<line x1="96.00" y1="624.10" x2="99.50" y2="624.10" stroke="#3a3a3a" stroke-width="1.2" />
<line x1="294.10" y1="624.10" x2="290.60" y2="624.10" stroke="#3a3a3a" stroke-width="1.2" />
<text x="90.40" y="629.80" font-family="Liberation Serif" font-size="18.5" text-anchor="end" fill="#262626" textLength="18.30" lengthAdjust="spacingAndGlyphs" >40</text>
<line x1="96.00" y1="558.10" x2="99.50" y2="558.10" stroke="#3a3a3a" stroke-width="1.2" />
<line x1="294.10" y1="558.10" x2="290.60" y2="558.10" stroke="#3a3a3a" stroke-width="1.2" />
<text x="90.40" y="563.80" font-family="Liberation Serif" font-size="18.5" text-anchor="end" fill="#262626" textLength="18.30" lengthAdjust="spacingAndGlyphs" >60</text>
<rect x="96.00" y="558.10" width="198.10" height="198.00" fill="none" stroke="#333" stroke-width="1.4"/>
<g transform="translate(61.50 682.70) rotate(-90)">
<text x="0.00" y="0.00" font-family="Liberation Serif" font-size="20.5" text-anchor="start" fill="#262626" textLength="51.50" lengthAdjust="spacingAndGlyphs" >count</text>
</g>
<text x="140.20" y="806.50" font-family="Liberation Serif" font-size="20.5" text-anchor="start" fill="#262626" textLength="15.00" lengthAdjust="spacingAndGlyphs" >Δ</text>
<text x="157.50" y="806.50" font-family="Liberation Serif" font-size="20.5" text-anchor="start" fill="#262626" font-style="italic" >f</text>
<text x="170.00" y="797.30" font-family="Liberation Serif" font-size="13" text-anchor="start" fill="#262626" textLength="30.50" lengthAdjust="spacingAndGlyphs" >peak</text>
<text x="168.00" y="813.30" font-family="Liberation Serif" font-size="13" text-anchor="start" fill="#262626" font-style="italic" textLength="16.50" lengthAdjust="spacingAndGlyphs" >j,δ</text>
<text x="185.30" y="816.50" font-family="Liberation Serif" font-size="9.5" text-anchor="start" fill="#262626" font-style="italic" >j</text>
<text x="209.80" y="806.50" font-family="Liberation Serif" font-size="20.5" text-anchor="start" fill="#262626" textLength="39.50" lengthAdjust="spacingAndGlyphs" >(Hz)</text>
<text x="28.60" y="570.80" font-family="Liberation Sans" font-size="33" text-anchor="start" fill="#000" textLength="20.91" lengthAdjust="spacingAndGlyphs" >E</text>
<rect x="457.00" y="634.92" width="40.0" height="129.98" fill="#b4b4b4" stroke="#4a4a4a" stroke-width="1.0"/>
<line x1="477.00" y1="665.82" x2="477.00" y2="603.76" stroke="#7f7f7f" stroke-width="2.4" />
<line x1="475.20" y1="665.82" x2="478.80" y2="665.82" stroke="#7f7f7f" stroke-width="2.0" />
<line x1="475.20" y1="603.76" x2="478.80" y2="603.76" stroke="#7f7f7f" stroke-width="2.0" />
<rect x="506.90" y="609.24" width="40.0" height="155.66" fill="#b4b4b4" stroke="#4a4a4a" stroke-width="1.0"/>
<line x1="526.90" y1="646.51" x2="526.90" y2="571.73" stroke="#7f7f7f" stroke-width="2.4" />
<line x1="525.10" y1="646.51" x2="528.70" y2="646.51" stroke="#7f7f7f" stroke-width="2.0" />
<line x1="525.10" y1="571.73" x2="528.70" y2="571.73" stroke="#7f7f7f" stroke-width="2.0" />
<rect x="556.80" y="743.09" width="40.0" height="21.81" fill="#b4b4b4" stroke="#4a4a4a" stroke-width="1.0"/>
<line x1="576.80" y1="754.06" x2="576.80" y2="732.25" stroke="#7f7f7f" stroke-width="2.4" />
<line x1="575.00" y1="754.06" x2="578.60" y2="754.06" stroke="#7f7f7f" stroke-width="2.0" />
<line x1="575.00" y1="732.25" x2="578.60" y2="732.25" stroke="#7f7f7f" stroke-width="2.0" />
<rect x="427.10" y="565.50" width="199.60" height="199.40" fill="none" stroke="#3a3a3a" stroke-width="1.2"/>
<line x1="477.00" y1="764.90" x2="477.00" y2="762.10" stroke="#3a3a3a" stroke-width="1.2" />
<line x1="477.00" y1="565.50" x2="477.00" y2="568.30" stroke="#3a3a3a" stroke-width="1.2" />
<text x="477.00" y="786.90" font-family="Liberation Serif" font-size="18.5" text-anchor="middle" fill="#262626" textLength="41.00" lengthAdjust="spacingAndGlyphs" >WP1</text>
<line x1="526.90" y1="764.90" x2="526.90" y2="762.10" stroke="#3a3a3a" stroke-width="1.2" />
<line x1="526.90" y1="565.50" x2="526.90" y2="568.30" stroke="#3a3a3a" stroke-width="1.2" />
<text x="526.90" y="786.90" font-family="Liberation Serif" font-size="18.5" text-anchor="middle" fill="#262626" textLength="41.00" lengthAdjust="spacingAndGlyphs" >WP2</text>
<line x1="576.80" y1="764.90" x2="576.80" y2="762.10" stroke="#3a3a3a" stroke-width="1.2" />
<line x1="576.80" y1="565.50" x2="576.80" y2="568.30" stroke="#3a3a3a" stroke-width="1.2" />
<text x="576.80" y="786.90" font-family="Liberation Serif" font-size="18.5" text-anchor="middle" fill="#262626" textLength="41.00" lengthAdjust="spacingAndGlyphs" >WP3</text>
<line x1="427.10" y1="764.90" x2="430.60" y2="764.90" stroke="#3a3a3a" stroke-width="1.2" />
<line x1="626.70" y1="764.90" x2="623.20" y2="764.90" stroke="#3a3a3a" stroke-width="1.2" />
<text x="421.30" y="770.20" font-family="Liberation Serif" font-size="18.5" text-anchor="end" fill="#262626" >0</text>
<line x1="427.10" y1="702.59" x2="430.60" y2="702.59" stroke="#3a3a3a" stroke-width="1.2" />
<line x1="626.70" y1="702.59" x2="623.20" y2="702.59" stroke="#3a3a3a" stroke-width="1.2" />
<text x="421.30" y="707.89" font-family="Liberation Serif" font-size="18.5" text-anchor="end" fill="#262626" >5</text>
<line x1="427.10" y1="640.27" x2="430.60" y2="640.27" stroke="#3a3a3a" stroke-width="1.2" />
<line x1="626.70" y1="640.27" x2="623.20" y2="640.27" stroke="#3a3a3a" stroke-width="1.2" />
<text x="421.30" y="645.57" font-family="Liberation Serif" font-size="18.5" text-anchor="end" fill="#262626" textLength="18.60" lengthAdjust="spacingAndGlyphs" >10</text>
<line x1="427.10" y1="577.96" x2="430.60" y2="577.96" stroke="#3a3a3a" stroke-width="1.2" />
<line x1="626.70" y1="577.96" x2="623.20" y2="577.96" stroke="#3a3a3a" stroke-width="1.2" />
<text x="421.30" y="583.26" font-family="Liberation Serif" font-size="18.5" text-anchor="end" fill="#262626" textLength="18.60" lengthAdjust="spacingAndGlyphs" >15</text>
<g transform="translate(389.8 729.5) rotate(-90)">
<text x="-1.00" y="1.60" font-family="Liberation Serif" font-size="24.5" text-anchor="start" fill="#262626" >⟨</text>
<text x="7.50" y="0.00" font-family="Liberation Serif" font-size="20.5" text-anchor="start" fill="#262626" textLength="14.50" lengthAdjust="spacingAndGlyphs" >Δ</text>
<text x="24.00" y="0.00" font-family="Liberation Serif" font-size="20.5" text-anchor="start" fill="#262626" font-style="italic" >f</text>
<text x="34.50" y="-8.80" font-family="Liberation Serif" font-size="13" text-anchor="start" fill="#262626" textLength="32.50" lengthAdjust="spacingAndGlyphs" >peak</text>
<text x="33.00" y="6.60" font-family="Liberation Serif" font-size="13" text-anchor="start" fill="#262626" font-style="italic" textLength="15.50" lengthAdjust="spacingAndGlyphs" >j,δ</text>
<text x="49.00" y="9.60" font-family="Liberation Serif" font-size="9.5" text-anchor="start" fill="#262626" font-style="italic" >j</text>
<text x="69.00" y="1.60" font-family="Liberation Serif" font-size="24.5" text-anchor="start" fill="#262626" >⟩</text>
<text x="85.00" y="0.00" font-family="Liberation Serif" font-size="20.5" text-anchor="start" fill="#262626" textLength="41.50" lengthAdjust="spacingAndGlyphs" >(Hz)</text>
</g>
<text x="354.70" y="564.80" font-family="Liberation Sans" font-size="33" text-anchor="start" fill="#000" textLength="19.15" lengthAdjust="spacingAndGlyphs" >F</text>
<rect x="818.36" y="579.0" width="147.68" height="176.30" fill="#dcdcea"/>
<path d="M768.40,755.30 L841.87,755.30 L856.56,754.89 L863.91,753.93 L869.79,751.88 L877.14,739.91 L884.12,691.68 L891.24,590.45 L899.18,635.59 L905.42,734.78 L913.14,750.17 L920.48,753.93 L930.04,755.03 L944.73,755.30 L1018.20,755.30" fill="none" stroke="#8a8a8a" stroke-width="1.4" stroke-linejoin="round" stroke-linecap="round" />
<path d="M768.40,755.30 L841.87,755.30 L856.56,754.88 L863.91,753.89 L869.79,751.77 L877.14,739.43 L884.12,689.72 L891.24,585.35 L899.18,631.89 L905.42,734.14 L913.14,750.01 L920.48,753.89 L930.04,755.02 L944.73,755.30 L1018.20,755.30" fill="none" stroke="#33363d" stroke-width="1.9" stroke-linejoin="round" stroke-linecap="round" />
<rect x="768.40" y="579.00" width="249.80" height="176.30" fill="none" stroke="#3a3a3a" stroke-width="1.2"/>
<line x1="797.79" y1="755.30" x2="797.79" y2="751.80" stroke="#3a3a3a" stroke-width="1.2" />
<line x1="797.79" y1="579.00" x2="797.79" y2="582.50" stroke="#3a3a3a" stroke-width="1.2" />
<text x="797.79" y="777.10" font-family="Liberation Serif" font-size="19.5" text-anchor="middle" fill="#262626" textLength="18.40" lengthAdjust="spacingAndGlyphs" >40</text>
<line x1="871.26" y1="755.30" x2="871.26" y2="751.80" stroke="#3a3a3a" stroke-width="1.2" />
<line x1="871.26" y1="579.00" x2="871.26" y2="582.50" stroke="#3a3a3a" stroke-width="1.2" />
<text x="871.26" y="777.10" font-family="Liberation Serif" font-size="19.5" text-anchor="middle" fill="#262626" textLength="18.40" lengthAdjust="spacingAndGlyphs" >50</text>
<line x1="944.73" y1="755.30" x2="944.73" y2="751.80" stroke="#3a3a3a" stroke-width="1.2" />
<line x1="944.73" y1="579.00" x2="944.73" y2="582.50" stroke="#3a3a3a" stroke-width="1.2" />
<text x="944.73" y="777.10" font-family="Liberation Serif" font-size="19.5" text-anchor="middle" fill="#262626" textLength="18.40" lengthAdjust="spacingAndGlyphs" >60</text>
<line x1="1018.20" y1="755.30" x2="1018.20" y2="751.80" stroke="#3a3a3a" stroke-width="1.2" />
<line x1="1018.20" y1="579.00" x2="1018.20" y2="582.50" stroke="#3a3a3a" stroke-width="1.2" />
<text x="1018.20" y="777.10" font-family="Liberation Serif" font-size="19.5" text-anchor="middle" fill="#262626" textLength="18.40" lengthAdjust="spacingAndGlyphs" >70</text>
<line x1="768.40" y1="755.30" x2="771.90" y2="755.30" stroke="#3a3a3a" stroke-width="1.2" />
<line x1="1018.20" y1="755.30" x2="1014.70" y2="755.30" stroke="#3a3a3a" stroke-width="1.2" />
<text x="762.80" y="760.00" font-family="Liberation Serif" font-size="19" text-anchor="end" fill="#262626" >0</text>
<line x1="768.40" y1="720.04" x2="771.90" y2="720.04" stroke="#3a3a3a" stroke-width="1.2" />
<line x1="1018.20" y1="720.04" x2="1014.70" y2="720.04" stroke="#3a3a3a" stroke-width="1.2" />
<text x="762.80" y="724.74" font-family="Liberation Serif" font-size="19" text-anchor="end" fill="#262626" textLength="23.80" lengthAdjust="spacingAndGlyphs" >0.5</text>
<line x1="768.40" y1="684.78" x2="771.90" y2="684.78" stroke="#3a3a3a" stroke-width="1.2" />
<line x1="1018.20" y1="684.78" x2="1014.70" y2="684.78" stroke="#3a3a3a" stroke-width="1.2" />
<text x="762.80" y="689.48" font-family="Liberation Serif" font-size="19" text-anchor="end" fill="#262626" >1</text>
<line x1="768.40" y1="649.52" x2="771.90" y2="649.52" stroke="#3a3a3a" stroke-width="1.2" />
<line x1="1018.20" y1="649.52" x2="1014.70" y2="649.52" stroke="#3a3a3a" stroke-width="1.2" />
<text x="762.80" y="654.22" font-family="Liberation Serif" font-size="19" text-anchor="end" fill="#262626" textLength="23.80" lengthAdjust="spacingAndGlyphs" >1.5</text>
<line x1="768.40" y1="614.26" x2="771.90" y2="614.26" stroke="#3a3a3a" stroke-width="1.2" />
<line x1="1018.20" y1="614.26" x2="1014.70" y2="614.26" stroke="#3a3a3a" stroke-width="1.2" />
<text x="762.80" y="618.96" font-family="Liberation Serif" font-size="19" text-anchor="end" fill="#262626" >2</text>
<line x1="768.40" y1="579.00" x2="771.90" y2="579.00" stroke="#3a3a3a" stroke-width="1.2" />
<line x1="1018.20" y1="579.00" x2="1014.70" y2="579.00" stroke="#3a3a3a" stroke-width="1.2" />
<text x="762.80" y="583.70" font-family="Liberation Serif" font-size="19" text-anchor="end" fill="#262626" textLength="23.80" lengthAdjust="spacingAndGlyphs" >2.5</text>
<text x="769.50" y="572.60" font-family="Liberation Serif" font-size="18.5" text-anchor="start" fill="#262626" textLength="33.00" lengthAdjust="spacingAndGlyphs" >×10</text>
<text x="803.50" y="565.20" font-family="Liberation Serif" font-size="12.5" text-anchor="start" fill="#262626" textLength="15.20" lengthAdjust="spacingAndGlyphs" >−3</text>
<text x="892.90" y="804.50" font-family="Liberation Serif" font-size="20.5" text-anchor="middle" fill="#262626" textLength="137.50" lengthAdjust="spacingAndGlyphs" >frequency (Hz)</text>
<g transform="translate(729.2 735.0) rotate(-90)">
<text x="-1.00" y="1.60" font-family="Liberation Serif" font-size="24.5" text-anchor="start" fill="#262626" >⟨</text>
<text x="7.50" y="0.00" font-family="Liberation Serif" font-size="20.5" text-anchor="start" fill="#262626" textLength="33.50" lengthAdjust="spacingAndGlyphs" >psd</text>
<text x="41.50" y="6.00" font-family="Liberation Serif" font-size="14" text-anchor="start" fill="#262626" font-style="italic" textLength="23.50" lengthAdjust="spacingAndGlyphs" >i≠j</text>
<text x="66.50" y="1.60" font-family="Liberation Serif" font-size="24.5" text-anchor="start" fill="#262626" >⟩</text>
<text x="82.50" y="0.00" font-family="Liberation Serif" font-size="20.5" text-anchor="start" fill="#262626" textLength="50.50" lengthAdjust="spacingAndGlyphs" >(a.u.)</text>
</g>
<line x1="776.00" y1="595.30" x2="794.00" y2="595.30" stroke="#8a8a8a" stroke-width="1.3" />
<text x="796.50" y="600.50" font-family="Liberation Serif" font-size="19.5" text-anchor="start" fill="#262626" textLength="62.00" lengthAdjust="spacingAndGlyphs" >baseline</text>
<line x1="776.00" y1="619.30" x2="794.00" y2="619.30" stroke="#222" stroke-width="1.8" />
<text x="796.50" y="624.50" font-family="Liberation Serif" font-size="19.5" text-anchor="start" fill="#262626" >Δ</text>
<text x="811.00" y="624.50" font-family="Liberation Serif" font-size="19.5" text-anchor="start" fill="#262626" font-style="italic" >P</text>
<text x="823.20" y="629.00" font-family="Liberation Serif" font-size="13" text-anchor="start" fill="#262626" font-style="italic" >E</text>
<text x="827.50" y="613.40" font-family="Liberation Serif" font-size="13" text-anchor="start" fill="#262626" font-style="italic" >j</text>
<text x="838.80" y="624.50" font-family="Liberation Serif" font-size="19.5" text-anchor="start" fill="#262626" textLength="12.20" lengthAdjust="spacingAndGlyphs" >=</text>
<text x="858.00" y="624.50" font-family="Liberation Serif" font-size="19.5" text-anchor="start" fill="#262626" textLength="21.30" lengthAdjust="spacingAndGlyphs" >0.1</text>
<line x1="891.10" y1="665.00" x2="1068.00" y2="665.00" stroke="#000" stroke-width="2.0" />
<path d="M1078.6,665.0 L1066.2,659.2 L1066.2,670.8 Z" fill="#000"/>
<rect x="1086.7" y="616.9" width="189.0" height="65.8" fill="#fff" stroke="#5a5aa2" stroke-width="1.6"/>
<text x="1181.40" y="643.40" font-family="Liberation Sans" font-size="21" text-anchor="middle" fill="#000" textLength="78.00" lengthAdjust="spacingAndGlyphs" >baseline</text>
<text x="1181.00" y="668.70" font-family="Liberation Sans" font-size="21" text-anchor="middle" fill="#000" textLength="147.00" lengthAdjust="spacingAndGlyphs" >frequency band</text>
<text x="1139.00" y="724.60" font-family="Liberation Serif" font-size="34" text-anchor="start" fill="#6a4aa5" textLength="25.50" lengthAdjust="spacingAndGlyphs" stroke="#6a4aa5" stroke-width="0.5">Δ</text>
<text x="1165.50" y="724.60" font-family="Liberation Serif" font-size="34" text-anchor="start" fill="#6a4aa5" font-style="italic" textLength="16.50" lengthAdjust="spacingAndGlyphs" stroke="#6a4aa5" stroke-width="0.5">ρ</text>
<text x="1182.70" y="710.00" font-family="Liberation Serif" font-size="23" text-anchor="start" fill="#6a4aa5" textLength="49.00" lengthAdjust="spacingAndGlyphs" stroke="#6a4aa5" stroke-width="0.45">base</text>
<text x="1182.70" y="732.70" font-family="Liberation Serif" font-size="23" text-anchor="start" fill="#6a4aa5" font-style="italic" textLength="41.00" lengthAdjust="spacingAndGlyphs" stroke="#6a4aa5" stroke-width="0.45">kl,δ</text>
<text x="1226.00" y="738.00" font-family="Liberation Serif" font-size="16" text-anchor="start" fill="#6a4aa5" font-style="italic" stroke="#6a4aa5" stroke-width="0.4">j</text>
<text x="670.40" y="565.20" font-family="Liberation Sans" font-size="33" text-anchor="start" fill="#000" textLength="24.39" lengthAdjust="spacingAndGlyphs" >G</text>
<text x="34.40" y="41.90" font-family="Liberation Sans" font-size="33" text-anchor="start" fill="#000" textLength="20.91" lengthAdjust="spacingAndGlyphs" >A</text>
<text x="213.90" y="41.90" font-family="Liberation Sans" font-size="33" text-anchor="start" fill="#000" textLength="20.91" lengthAdjust="spacingAndGlyphs" >B</text>
</g>
</svg>
</body></html>
